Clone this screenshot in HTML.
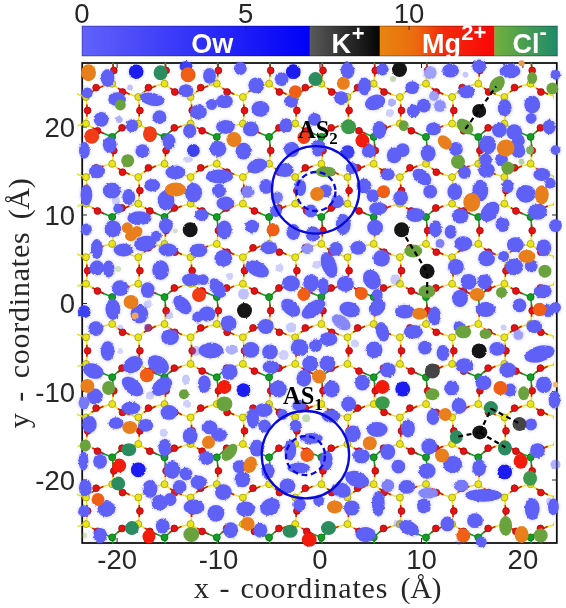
<!DOCTYPE html>
<html><head><meta charset="utf-8"><style>
html,body{margin:0;padding:0;background:#fff;}
svg{display:block;}
</style></head><body>
<svg width="566" height="608" viewBox="0 0 566 608">
<defs>
<linearGradient id="gOw" x1="0" x2="1"><stop offset="0" stop-color="#6262fa"/><stop offset="1" stop-color="#0000f8"/></linearGradient>
<linearGradient id="gK" x1="0" x2="1"><stop offset="0" stop-color="#5a5a5a"/><stop offset="1" stop-color="#050505"/></linearGradient>
<linearGradient id="gMg" x1="0" x2="1"><stop offset="0" stop-color="#e8860e"/><stop offset="0.3" stop-color="#ec6c0e"/><stop offset="0.55" stop-color="#f22c0c"/><stop offset="1" stop-color="#fa0606"/></linearGradient>
<linearGradient id="gCl" x1="0" x2="1"><stop offset="0" stop-color="#72b03a"/><stop offset="1" stop-color="#1e8a6a"/></linearGradient>
<filter id="fz" x="-10%" y="-10%" width="120%" height="120%">
<feTurbulence type="fractalNoise" baseFrequency="0.35" numOctaves="2" seed="3" result="n"/>
<feDisplacementMap in="SourceGraphic" in2="n" scale="2.5" xChannelSelector="R" yChannelSelector="G" result="d"/>
<feGaussianBlur in="d" stdDeviation="0.6"/>
</filter>
<filter id="fi" x="-10%" y="-10%" width="120%" height="120%">
<feTurbulence type="fractalNoise" baseFrequency="0.35" numOctaves="2" seed="5" result="n"/>
<feDisplacementMap in="SourceGraphic" in2="n" scale="1.8" xChannelSelector="R" yChannelSelector="G" result="d"/>
<feGaussianBlur in="d" stdDeviation="0.75"/>
</filter>
<filter id="fh" x="-10%" y="-10%" width="120%" height="120%">
<feTurbulence type="fractalNoise" baseFrequency="0.9" numOctaves="1" seed="7" result="n"/>
<feDisplacementMap in="SourceGraphic" in2="n" scale="4" xChannelSelector="R" yChannelSelector="G" result="d"/>
<feGaussianBlur in="d" stdDeviation="1.2"/>
</filter>
<clipPath id="cp"><rect x="76" y="58" width="486" height="491"/></clipPath><clipPath id="cpl"><rect x="77.5" y="62.5" width="476" height="481"/></clipPath>
</defs>
<rect width="566" height="608" fill="#fff"/>
<!-- colorbar -->
<g>
<rect x="82" y="26" width="228" height="30" fill="url(#gOw)"/>
<rect x="309.7" y="26" width="70.3" height="30" fill="url(#gK)"/>
<rect x="379.7" y="26" width="115" height="30" fill="url(#gMg)"/>
<rect x="494.4" y="26" width="63" height="30" fill="url(#gCl)"/>
<rect x="82" y="26" width="475.4" height="30" fill="none" stroke="rgba(0,0,0,0.35)" stroke-width="1"/>
<g stroke="#262626" stroke-width="1"><line x1="245.7" y1="26" x2="245.7" y2="30"/><line x1="409.1" y1="26" x2="409.1" y2="30"/></g>
<g font-family="Liberation Sans, sans-serif" font-size="27.5" fill="#262626" text-anchor="middle">
<text x="82" y="22.8">0</text><text x="245.7" y="22.8">5</text><text x="409.1" y="22.8">10</text>
</g>
<g font-family="Liberation Sans, sans-serif" font-weight="bold" font-size="27" fill="#fff">
<text x="191.3" y="53">Ow</text>
<text x="331.6" y="53.3">K</text><text x="351.7" y="41" font-size="22">+</text>
<text x="422.1" y="53">Mg</text><text x="461.2" y="40.4" font-size="22">2+</text>
<text x="512.4" y="53">Cl</text><text x="539.6" y="38.8" font-size="22">-</text>
</g>
</g>
<!-- axes -->
<g font-family="Liberation Sans, sans-serif" font-size="27.5" fill="#262626" text-anchor="middle">
<text x="117.1" y="569">-20</text><text x="218.5" y="569">-10</text><text x="320" y="569">0</text><text x="421.5" y="569">10</text><text x="522.9" y="569">20</text>
</g>
<g font-family="Liberation Sans, sans-serif" font-size="27.5" fill="#262626" text-anchor="end">
<text x="75" y="136.5">20</text><text x="75" y="224.5">10</text><text x="75" y="313">0</text><text x="75" y="402">-10</text><text x="75" y="489.5">-20</text>
</g>
<g font-family="Liberation Serif, serif" font-size="30" fill="#262626">
<text x="194" y="598">x</text>
<text x="219.5" y="598">-</text>
<text x="240.5" y="598" textLength="147" lengthAdjust="spacing">coordinates</text>
<text x="400.5" y="598" textLength="41" lengthAdjust="spacing">(Å)</text>
<g transform="translate(28.5 428.3) rotate(-90)">
<text x="0" y="0">y</text>
<text x="26.5" y="0">-</text>
<text x="50" y="0" textLength="146" lengthAdjust="spacing">coordinates</text>
<text x="209" y="0" textLength="41" lengthAdjust="spacing">(Å)</text>
</g>
</g>
<rect x="82.2" y="63" width="474.6" height="480" fill="none" stroke="#111" stroke-width="1.8"/>
<g stroke="#262626" stroke-width="1">
<line x1="117.1" y1="543" x2="117.1" y2="538"/><line x1="218.5" y1="543" x2="218.5" y2="538"/><line x1="320" y1="543" x2="320" y2="538"/><line x1="421.5" y1="543" x2="421.5" y2="538"/><line x1="522.9" y1="543" x2="522.9" y2="538"/>
<line x1="117.1" y1="63" x2="117.1" y2="68"/><line x1="218.5" y1="63" x2="218.5" y2="68"/><line x1="320" y1="63" x2="320" y2="68"/><line x1="421.5" y1="63" x2="421.5" y2="68"/><line x1="522.9" y1="63" x2="522.9" y2="68"/>
<line x1="82.2" y1="127" x2="87" y2="127"/><line x1="82.2" y1="215" x2="87" y2="215"/><line x1="82.2" y1="303.5" x2="87" y2="303.5"/><line x1="82.2" y1="391.5" x2="87" y2="391.5"/><line x1="82.2" y1="480" x2="87" y2="480"/>
<line x1="556.8" y1="127" x2="552" y2="127"/><line x1="556.8" y1="215" x2="552" y2="215"/><line x1="556.8" y1="303.5" x2="552" y2="303.5"/><line x1="556.8" y1="391.5" x2="552" y2="391.5"/><line x1="556.8" y1="480" x2="552" y2="480"/>
</g>
<g clip-path="url(#cp)">
<g clip-path="url(#cpl)"><g stroke-width="1.6"><line x1="112.2" y1="56.8" x2="113.8" y2="70.5" stroke="#12a022"/><line x1="113.8" y1="70.5" x2="112.2" y2="83.7" stroke="#ebe61c"/><line x1="113.1" y1="64.3" x2="113.1" y2="76.4" stroke="#e41212"/><line x1="164.5" y1="56.8" x2="166.1" y2="70.5" stroke="#12a022"/><line x1="166.1" y1="70.5" x2="164.5" y2="83.7" stroke="#ebe61c"/><line x1="165.4" y1="64.3" x2="165.4" y2="76.4" stroke="#e41212"/><line x1="216.8" y1="56.8" x2="218.4" y2="70.5" stroke="#12a022"/><line x1="218.4" y1="70.5" x2="216.8" y2="83.7" stroke="#ebe61c"/><line x1="217.7" y1="64.3" x2="217.7" y2="76.4" stroke="#e41212"/><line x1="269.1" y1="56.8" x2="270.7" y2="70.5" stroke="#12a022"/><line x1="270.7" y1="70.5" x2="269.1" y2="83.7" stroke="#ebe61c"/><line x1="270.0" y1="64.3" x2="270.0" y2="76.4" stroke="#e41212"/><line x1="321.4" y1="56.8" x2="323.0" y2="70.5" stroke="#12a022"/><line x1="323.0" y1="70.5" x2="321.4" y2="83.7" stroke="#ebe61c"/><line x1="322.3" y1="64.3" x2="322.3" y2="76.4" stroke="#e41212"/><line x1="373.7" y1="56.8" x2="375.3" y2="70.5" stroke="#12a022"/><line x1="375.3" y1="70.5" x2="373.7" y2="83.7" stroke="#ebe61c"/><line x1="374.6" y1="64.3" x2="374.6" y2="76.4" stroke="#e41212"/><line x1="426.0" y1="56.8" x2="427.6" y2="70.5" stroke="#12a022"/><line x1="427.6" y1="70.5" x2="426.0" y2="83.7" stroke="#ebe61c"/><line x1="426.9" y1="64.3" x2="426.9" y2="76.4" stroke="#e41212"/><line x1="478.3" y1="56.8" x2="479.9" y2="70.5" stroke="#12a022"/><line x1="479.9" y1="70.5" x2="478.3" y2="83.7" stroke="#ebe61c"/><line x1="479.2" y1="64.3" x2="479.2" y2="76.4" stroke="#e41212"/><line x1="530.6" y1="56.8" x2="532.2" y2="70.5" stroke="#12a022"/><line x1="532.2" y1="70.5" x2="530.6" y2="83.7" stroke="#ebe61c"/><line x1="531.5" y1="64.3" x2="531.5" y2="76.4" stroke="#e41212"/><line x1="86.0" y1="43.5" x2="69.7" y2="47.8" stroke="#ebe61c"/><line x1="69.7" y1="47.8" x2="59.9" y2="56.8" stroke="#12a022"/><line x1="77.0" y1="45.8" x2="65.3" y2="51.8" stroke="#e41212"/><line x1="86.0" y1="43.5" x2="97.5" y2="50.8" stroke="#ebe61c"/><line x1="97.5" y1="50.8" x2="112.2" y2="56.8" stroke="#12a022"/><line x1="92.4" y1="47.5" x2="104.1" y2="53.5" stroke="#e41212"/><line x1="138.3" y1="43.5" x2="122.0" y2="47.8" stroke="#ebe61c"/><line x1="122.0" y1="47.8" x2="112.2" y2="56.8" stroke="#12a022"/><line x1="129.3" y1="45.8" x2="117.6" y2="51.8" stroke="#e41212"/><line x1="138.3" y1="43.5" x2="149.8" y2="50.8" stroke="#ebe61c"/><line x1="149.8" y1="50.8" x2="164.5" y2="56.8" stroke="#12a022"/><line x1="144.7" y1="47.5" x2="156.4" y2="53.5" stroke="#e41212"/><line x1="190.6" y1="43.5" x2="174.3" y2="47.8" stroke="#ebe61c"/><line x1="174.3" y1="47.8" x2="164.5" y2="56.8" stroke="#12a022"/><line x1="181.6" y1="45.8" x2="169.9" y2="51.8" stroke="#e41212"/><line x1="190.6" y1="43.5" x2="202.1" y2="50.8" stroke="#ebe61c"/><line x1="202.1" y1="50.8" x2="216.8" y2="56.8" stroke="#12a022"/><line x1="197.0" y1="47.5" x2="208.7" y2="53.5" stroke="#e41212"/><line x1="242.9" y1="43.5" x2="226.6" y2="47.8" stroke="#ebe61c"/><line x1="226.6" y1="47.8" x2="216.8" y2="56.8" stroke="#12a022"/><line x1="233.9" y1="45.8" x2="222.2" y2="51.8" stroke="#e41212"/><line x1="242.9" y1="43.5" x2="254.4" y2="50.8" stroke="#ebe61c"/><line x1="254.4" y1="50.8" x2="269.1" y2="56.8" stroke="#12a022"/><line x1="249.3" y1="47.5" x2="261.0" y2="53.5" stroke="#e41212"/><line x1="295.2" y1="43.5" x2="278.9" y2="47.8" stroke="#ebe61c"/><line x1="278.9" y1="47.8" x2="269.1" y2="56.8" stroke="#12a022"/><line x1="286.2" y1="45.8" x2="274.5" y2="51.8" stroke="#e41212"/><line x1="295.2" y1="43.5" x2="306.7" y2="50.8" stroke="#ebe61c"/><line x1="306.7" y1="50.8" x2="321.4" y2="56.8" stroke="#12a022"/><line x1="301.6" y1="47.5" x2="313.3" y2="53.5" stroke="#e41212"/><line x1="347.5" y1="43.5" x2="331.2" y2="47.8" stroke="#ebe61c"/><line x1="331.2" y1="47.8" x2="321.4" y2="56.8" stroke="#12a022"/><line x1="338.5" y1="45.8" x2="326.8" y2="51.8" stroke="#e41212"/><line x1="347.5" y1="43.5" x2="359.0" y2="50.8" stroke="#ebe61c"/><line x1="359.0" y1="50.8" x2="373.7" y2="56.8" stroke="#12a022"/><line x1="353.9" y1="47.5" x2="365.6" y2="53.5" stroke="#e41212"/><line x1="399.9" y1="43.5" x2="383.5" y2="47.8" stroke="#ebe61c"/><line x1="383.5" y1="47.8" x2="373.7" y2="56.8" stroke="#12a022"/><line x1="390.8" y1="45.8" x2="379.1" y2="51.8" stroke="#e41212"/><line x1="399.9" y1="43.5" x2="411.3" y2="50.8" stroke="#ebe61c"/><line x1="411.3" y1="50.8" x2="426.0" y2="56.8" stroke="#12a022"/><line x1="406.2" y1="47.5" x2="417.9" y2="53.5" stroke="#e41212"/><line x1="452.1" y1="43.5" x2="435.8" y2="47.8" stroke="#ebe61c"/><line x1="435.8" y1="47.8" x2="426.0" y2="56.8" stroke="#12a022"/><line x1="443.1" y1="45.8" x2="431.4" y2="51.8" stroke="#e41212"/><line x1="452.1" y1="43.5" x2="463.6" y2="50.8" stroke="#ebe61c"/><line x1="463.6" y1="50.8" x2="478.3" y2="56.8" stroke="#12a022"/><line x1="458.5" y1="47.5" x2="470.2" y2="53.5" stroke="#e41212"/><line x1="504.4" y1="43.5" x2="488.1" y2="47.8" stroke="#ebe61c"/><line x1="488.1" y1="47.8" x2="478.3" y2="56.8" stroke="#12a022"/><line x1="495.4" y1="45.8" x2="483.7" y2="51.8" stroke="#e41212"/><line x1="504.4" y1="43.5" x2="515.9" y2="50.8" stroke="#ebe61c"/><line x1="515.9" y1="50.8" x2="530.6" y2="56.8" stroke="#12a022"/><line x1="510.8" y1="47.5" x2="522.5" y2="53.5" stroke="#e41212"/><line x1="556.8" y1="43.5" x2="540.4" y2="47.8" stroke="#ebe61c"/><line x1="540.4" y1="47.8" x2="530.6" y2="56.8" stroke="#12a022"/><line x1="547.7" y1="45.8" x2="536.0" y2="51.8" stroke="#e41212"/><line x1="556.8" y1="43.5" x2="568.2" y2="50.8" stroke="#ebe61c"/><line x1="568.2" y1="50.8" x2="582.9" y2="56.8" stroke="#12a022"/><line x1="563.1" y1="47.5" x2="574.8" y2="53.5" stroke="#e41212"/><line x1="59.9" y1="83.7" x2="70.2" y2="92.0" stroke="#ebe61c"/><line x1="70.2" y1="92.0" x2="86.1" y2="97.0" stroke="#ebe61c"/><line x1="65.6" y1="88.3" x2="77.3" y2="94.3" stroke="#e41212"/><line x1="112.2" y1="83.7" x2="96.1" y2="87.6" stroke="#ebe61c"/><line x1="96.1" y1="87.6" x2="86.1" y2="97.0" stroke="#ebe61c"/><line x1="103.4" y1="85.9" x2="91.6" y2="91.9" stroke="#e41212"/><line x1="112.2" y1="83.7" x2="122.5" y2="92.0" stroke="#ebe61c"/><line x1="122.5" y1="92.0" x2="138.3" y2="97.0" stroke="#ebe61c"/><line x1="117.9" y1="88.3" x2="129.6" y2="94.3" stroke="#e41212"/><line x1="112.2" y1="136.9" x2="113.8" y2="150.6" stroke="#12a022"/><line x1="113.8" y1="150.6" x2="112.2" y2="163.8" stroke="#ebe61c"/><line x1="113.1" y1="144.4" x2="113.1" y2="156.5" stroke="#e41212"/><line x1="164.5" y1="83.7" x2="148.4" y2="87.6" stroke="#ebe61c"/><line x1="148.4" y1="87.6" x2="138.3" y2="97.0" stroke="#ebe61c"/><line x1="155.7" y1="85.9" x2="143.9" y2="91.9" stroke="#e41212"/><line x1="164.5" y1="83.7" x2="174.8" y2="92.0" stroke="#ebe61c"/><line x1="174.8" y1="92.0" x2="190.7" y2="97.0" stroke="#ebe61c"/><line x1="170.2" y1="88.3" x2="181.9" y2="94.3" stroke="#e41212"/><line x1="164.5" y1="136.9" x2="166.1" y2="150.6" stroke="#12a022"/><line x1="166.1" y1="150.6" x2="164.5" y2="163.8" stroke="#ebe61c"/><line x1="165.4" y1="144.4" x2="165.4" y2="156.5" stroke="#e41212"/><line x1="216.8" y1="83.7" x2="200.7" y2="87.6" stroke="#ebe61c"/><line x1="200.7" y1="87.6" x2="190.7" y2="97.0" stroke="#ebe61c"/><line x1="208.0" y1="85.9" x2="196.2" y2="91.9" stroke="#e41212"/><line x1="216.8" y1="83.7" x2="227.1" y2="92.0" stroke="#ebe61c"/><line x1="227.1" y1="92.0" x2="243.0" y2="97.0" stroke="#ebe61c"/><line x1="222.5" y1="88.3" x2="234.2" y2="94.3" stroke="#e41212"/><line x1="216.8" y1="136.9" x2="218.4" y2="150.6" stroke="#12a022"/><line x1="218.4" y1="150.6" x2="216.8" y2="163.8" stroke="#ebe61c"/><line x1="217.7" y1="144.4" x2="217.7" y2="156.5" stroke="#e41212"/><line x1="269.1" y1="83.7" x2="253.0" y2="87.6" stroke="#ebe61c"/><line x1="253.0" y1="87.6" x2="242.9" y2="97.0" stroke="#ebe61c"/><line x1="260.3" y1="85.9" x2="248.5" y2="91.9" stroke="#e41212"/><line x1="269.1" y1="83.7" x2="279.4" y2="92.0" stroke="#ebe61c"/><line x1="279.4" y1="92.0" x2="295.2" y2="97.0" stroke="#ebe61c"/><line x1="274.8" y1="88.3" x2="286.5" y2="94.3" stroke="#e41212"/><line x1="269.1" y1="136.9" x2="270.7" y2="150.6" stroke="#12a022"/><line x1="270.7" y1="150.6" x2="269.1" y2="163.8" stroke="#ebe61c"/><line x1="270.0" y1="144.4" x2="270.0" y2="156.5" stroke="#e41212"/><line x1="321.4" y1="83.7" x2="305.3" y2="87.6" stroke="#ebe61c"/><line x1="305.3" y1="87.6" x2="295.2" y2="97.0" stroke="#ebe61c"/><line x1="312.6" y1="85.9" x2="300.8" y2="91.9" stroke="#e41212"/><line x1="321.4" y1="83.7" x2="331.7" y2="92.0" stroke="#ebe61c"/><line x1="331.7" y1="92.0" x2="347.5" y2="97.0" stroke="#ebe61c"/><line x1="327.1" y1="88.3" x2="338.8" y2="94.3" stroke="#e41212"/><line x1="321.4" y1="136.9" x2="323.0" y2="150.6" stroke="#12a022"/><line x1="323.0" y1="150.6" x2="321.4" y2="163.8" stroke="#ebe61c"/><line x1="322.3" y1="144.4" x2="322.3" y2="156.5" stroke="#e41212"/><line x1="373.7" y1="83.7" x2="357.6" y2="87.6" stroke="#ebe61c"/><line x1="357.6" y1="87.6" x2="347.6" y2="97.0" stroke="#ebe61c"/><line x1="364.9" y1="85.9" x2="353.1" y2="91.9" stroke="#e41212"/><line x1="373.7" y1="83.7" x2="384.0" y2="92.0" stroke="#ebe61c"/><line x1="384.0" y1="92.0" x2="399.8" y2="97.0" stroke="#ebe61c"/><line x1="379.4" y1="88.3" x2="391.1" y2="94.3" stroke="#e41212"/><line x1="373.7" y1="136.9" x2="375.3" y2="150.6" stroke="#12a022"/><line x1="375.3" y1="150.6" x2="373.7" y2="163.8" stroke="#ebe61c"/><line x1="374.6" y1="144.4" x2="374.6" y2="156.5" stroke="#e41212"/><line x1="426.0" y1="83.7" x2="409.9" y2="87.6" stroke="#ebe61c"/><line x1="409.9" y1="87.6" x2="399.8" y2="97.0" stroke="#ebe61c"/><line x1="417.2" y1="85.9" x2="405.4" y2="91.9" stroke="#e41212"/><line x1="426.0" y1="83.7" x2="436.3" y2="92.0" stroke="#ebe61c"/><line x1="436.3" y1="92.0" x2="452.1" y2="97.0" stroke="#ebe61c"/><line x1="431.7" y1="88.3" x2="443.4" y2="94.3" stroke="#e41212"/><line x1="426.0" y1="136.9" x2="427.6" y2="150.6" stroke="#12a022"/><line x1="427.6" y1="150.6" x2="426.0" y2="163.8" stroke="#ebe61c"/><line x1="426.9" y1="144.4" x2="426.9" y2="156.5" stroke="#e41212"/><line x1="478.3" y1="83.7" x2="462.2" y2="87.6" stroke="#ebe61c"/><line x1="462.2" y1="87.6" x2="452.1" y2="97.0" stroke="#ebe61c"/><line x1="469.5" y1="85.9" x2="457.7" y2="91.9" stroke="#e41212"/><line x1="478.3" y1="83.7" x2="488.6" y2="92.0" stroke="#ebe61c"/><line x1="488.6" y1="92.0" x2="504.4" y2="97.0" stroke="#ebe61c"/><line x1="484.0" y1="88.3" x2="495.7" y2="94.3" stroke="#e41212"/><line x1="478.3" y1="136.9" x2="479.9" y2="150.6" stroke="#12a022"/><line x1="479.9" y1="150.6" x2="478.3" y2="163.8" stroke="#ebe61c"/><line x1="479.2" y1="144.4" x2="479.2" y2="156.5" stroke="#e41212"/><line x1="530.6" y1="83.7" x2="514.5" y2="87.6" stroke="#ebe61c"/><line x1="514.5" y1="87.6" x2="504.5" y2="97.0" stroke="#ebe61c"/><line x1="521.8" y1="85.9" x2="510.0" y2="91.9" stroke="#e41212"/><line x1="530.6" y1="83.7" x2="540.9" y2="92.0" stroke="#ebe61c"/><line x1="540.9" y1="92.0" x2="556.8" y2="97.0" stroke="#ebe61c"/><line x1="536.3" y1="88.3" x2="548.0" y2="94.3" stroke="#e41212"/><line x1="530.6" y1="136.9" x2="532.2" y2="150.6" stroke="#12a022"/><line x1="532.2" y1="150.6" x2="530.6" y2="163.8" stroke="#ebe61c"/><line x1="531.5" y1="144.4" x2="531.5" y2="156.5" stroke="#e41212"/><line x1="582.9" y1="83.7" x2="566.8" y2="87.6" stroke="#ebe61c"/><line x1="566.8" y1="87.6" x2="556.8" y2="97.0" stroke="#ebe61c"/><line x1="574.1" y1="85.9" x2="562.3" y2="91.9" stroke="#e41212"/><line x1="86.0" y1="97.0" x2="87.6" y2="110.5" stroke="#ebe61c"/><line x1="87.6" y1="110.5" x2="86.0" y2="123.6" stroke="#ebe61c"/><line x1="86.9" y1="104.4" x2="86.9" y2="116.4" stroke="#e41212"/><line x1="86.0" y1="123.6" x2="69.7" y2="127.8" stroke="#ebe61c"/><line x1="69.7" y1="127.8" x2="59.9" y2="136.9" stroke="#12a022"/><line x1="77.0" y1="125.9" x2="65.3" y2="131.9" stroke="#e41212"/><line x1="86.0" y1="123.6" x2="97.5" y2="130.8" stroke="#ebe61c"/><line x1="97.5" y1="130.8" x2="112.2" y2="136.9" stroke="#12a022"/><line x1="92.4" y1="127.6" x2="104.1" y2="133.6" stroke="#e41212"/><line x1="138.3" y1="97.0" x2="139.9" y2="110.5" stroke="#ebe61c"/><line x1="139.9" y1="110.5" x2="138.3" y2="123.6" stroke="#ebe61c"/><line x1="139.2" y1="104.4" x2="139.2" y2="116.4" stroke="#e41212"/><line x1="138.3" y1="123.6" x2="122.0" y2="127.8" stroke="#ebe61c"/><line x1="122.0" y1="127.8" x2="112.2" y2="136.9" stroke="#12a022"/><line x1="129.3" y1="125.9" x2="117.6" y2="131.9" stroke="#e41212"/><line x1="138.3" y1="123.6" x2="149.8" y2="130.8" stroke="#ebe61c"/><line x1="149.8" y1="130.8" x2="164.5" y2="136.9" stroke="#12a022"/><line x1="144.7" y1="127.6" x2="156.4" y2="133.6" stroke="#e41212"/><line x1="190.6" y1="97.0" x2="192.2" y2="110.5" stroke="#ebe61c"/><line x1="192.2" y1="110.5" x2="190.6" y2="123.6" stroke="#ebe61c"/><line x1="191.5" y1="104.4" x2="191.5" y2="116.4" stroke="#e41212"/><line x1="190.6" y1="123.6" x2="174.3" y2="127.8" stroke="#ebe61c"/><line x1="174.3" y1="127.8" x2="164.5" y2="136.9" stroke="#12a022"/><line x1="181.6" y1="125.9" x2="169.9" y2="131.9" stroke="#e41212"/><line x1="190.6" y1="123.6" x2="202.1" y2="130.8" stroke="#ebe61c"/><line x1="202.1" y1="130.8" x2="216.8" y2="136.9" stroke="#12a022"/><line x1="197.0" y1="127.6" x2="208.7" y2="133.6" stroke="#e41212"/><line x1="242.9" y1="97.0" x2="244.5" y2="110.5" stroke="#ebe61c"/><line x1="244.5" y1="110.5" x2="242.9" y2="123.6" stroke="#ebe61c"/><line x1="243.8" y1="104.4" x2="243.8" y2="116.4" stroke="#e41212"/><line x1="242.9" y1="123.6" x2="226.6" y2="127.8" stroke="#ebe61c"/><line x1="226.6" y1="127.8" x2="216.8" y2="136.9" stroke="#12a022"/><line x1="233.9" y1="125.9" x2="222.2" y2="131.9" stroke="#e41212"/><line x1="242.9" y1="123.6" x2="254.4" y2="130.8" stroke="#ebe61c"/><line x1="254.4" y1="130.8" x2="269.1" y2="136.9" stroke="#12a022"/><line x1="249.3" y1="127.6" x2="261.0" y2="133.6" stroke="#e41212"/><line x1="295.2" y1="97.0" x2="296.9" y2="110.5" stroke="#ebe61c"/><line x1="296.9" y1="110.5" x2="295.2" y2="123.6" stroke="#ebe61c"/><line x1="296.1" y1="104.4" x2="296.1" y2="116.4" stroke="#e41212"/><line x1="295.2" y1="123.6" x2="278.9" y2="127.8" stroke="#ebe61c"/><line x1="278.9" y1="127.8" x2="269.1" y2="136.9" stroke="#12a022"/><line x1="286.2" y1="125.9" x2="274.5" y2="131.9" stroke="#e41212"/><line x1="295.2" y1="123.6" x2="306.7" y2="130.8" stroke="#ebe61c"/><line x1="306.7" y1="130.8" x2="321.4" y2="136.9" stroke="#12a022"/><line x1="301.6" y1="127.6" x2="313.3" y2="133.6" stroke="#e41212"/><line x1="347.5" y1="97.0" x2="349.1" y2="110.5" stroke="#ebe61c"/><line x1="349.1" y1="110.5" x2="347.5" y2="123.6" stroke="#ebe61c"/><line x1="348.4" y1="104.4" x2="348.4" y2="116.4" stroke="#e41212"/><line x1="347.5" y1="123.6" x2="331.2" y2="127.8" stroke="#ebe61c"/><line x1="331.2" y1="127.8" x2="321.4" y2="136.9" stroke="#12a022"/><line x1="338.5" y1="125.9" x2="326.8" y2="131.9" stroke="#e41212"/><line x1="347.5" y1="123.6" x2="359.0" y2="130.8" stroke="#ebe61c"/><line x1="359.0" y1="130.8" x2="373.7" y2="136.9" stroke="#12a022"/><line x1="353.9" y1="127.6" x2="365.6" y2="133.6" stroke="#e41212"/><line x1="399.9" y1="97.0" x2="401.5" y2="110.5" stroke="#ebe61c"/><line x1="401.5" y1="110.5" x2="399.9" y2="123.6" stroke="#ebe61c"/><line x1="400.7" y1="104.4" x2="400.7" y2="116.4" stroke="#e41212"/><line x1="399.9" y1="123.6" x2="383.5" y2="127.8" stroke="#ebe61c"/><line x1="383.5" y1="127.8" x2="373.7" y2="136.9" stroke="#12a022"/><line x1="390.8" y1="125.9" x2="379.1" y2="131.9" stroke="#e41212"/><line x1="399.9" y1="123.6" x2="411.3" y2="130.8" stroke="#ebe61c"/><line x1="411.3" y1="130.8" x2="426.0" y2="136.9" stroke="#12a022"/><line x1="406.2" y1="127.6" x2="417.9" y2="133.6" stroke="#e41212"/><line x1="452.1" y1="97.0" x2="453.8" y2="110.5" stroke="#ebe61c"/><line x1="453.8" y1="110.5" x2="452.1" y2="123.6" stroke="#ebe61c"/><line x1="453.0" y1="104.4" x2="453.0" y2="116.4" stroke="#e41212"/><line x1="452.1" y1="123.6" x2="435.8" y2="127.8" stroke="#ebe61c"/><line x1="435.8" y1="127.8" x2="426.0" y2="136.9" stroke="#12a022"/><line x1="443.1" y1="125.9" x2="431.4" y2="131.9" stroke="#e41212"/><line x1="452.1" y1="123.6" x2="463.6" y2="130.8" stroke="#ebe61c"/><line x1="463.6" y1="130.8" x2="478.3" y2="136.9" stroke="#12a022"/><line x1="458.5" y1="127.6" x2="470.2" y2="133.6" stroke="#e41212"/><line x1="504.4" y1="97.0" x2="506.0" y2="110.5" stroke="#ebe61c"/><line x1="506.0" y1="110.5" x2="504.4" y2="123.6" stroke="#ebe61c"/><line x1="505.3" y1="104.4" x2="505.3" y2="116.4" stroke="#e41212"/><line x1="504.4" y1="123.6" x2="488.1" y2="127.8" stroke="#ebe61c"/><line x1="488.1" y1="127.8" x2="478.3" y2="136.9" stroke="#12a022"/><line x1="495.4" y1="125.9" x2="483.7" y2="131.9" stroke="#e41212"/><line x1="504.4" y1="123.6" x2="515.9" y2="130.8" stroke="#ebe61c"/><line x1="515.9" y1="130.8" x2="530.6" y2="136.9" stroke="#12a022"/><line x1="510.8" y1="127.6" x2="522.5" y2="133.6" stroke="#e41212"/><line x1="556.8" y1="97.0" x2="558.4" y2="110.5" stroke="#ebe61c"/><line x1="558.4" y1="110.5" x2="556.8" y2="123.6" stroke="#ebe61c"/><line x1="557.6" y1="104.4" x2="557.6" y2="116.4" stroke="#e41212"/><line x1="556.8" y1="123.6" x2="540.4" y2="127.8" stroke="#ebe61c"/><line x1="540.4" y1="127.8" x2="530.6" y2="136.9" stroke="#12a022"/><line x1="547.7" y1="125.9" x2="536.0" y2="131.9" stroke="#e41212"/><line x1="556.8" y1="123.6" x2="568.2" y2="130.8" stroke="#ebe61c"/><line x1="568.2" y1="130.8" x2="582.9" y2="136.9" stroke="#12a022"/><line x1="563.1" y1="127.6" x2="574.8" y2="133.6" stroke="#e41212"/><line x1="59.9" y1="163.8" x2="70.2" y2="172.2" stroke="#ebe61c"/><line x1="70.2" y1="172.2" x2="86.1" y2="177.1" stroke="#ebe61c"/><line x1="65.6" y1="168.4" x2="77.3" y2="174.4" stroke="#e41212"/><line x1="112.2" y1="163.8" x2="96.1" y2="167.8" stroke="#ebe61c"/><line x1="96.1" y1="167.8" x2="86.1" y2="177.1" stroke="#ebe61c"/><line x1="103.4" y1="166.0" x2="91.6" y2="172.0" stroke="#e41212"/><line x1="112.2" y1="163.8" x2="122.5" y2="172.2" stroke="#ebe61c"/><line x1="122.5" y1="172.2" x2="138.3" y2="177.1" stroke="#ebe61c"/><line x1="117.9" y1="168.4" x2="129.6" y2="174.4" stroke="#e41212"/><line x1="112.2" y1="217.0" x2="113.8" y2="230.6" stroke="#12a022"/><line x1="113.8" y1="230.6" x2="112.2" y2="243.9" stroke="#ebe61c"/><line x1="113.1" y1="224.5" x2="113.1" y2="236.6" stroke="#e41212"/><line x1="164.5" y1="163.8" x2="148.4" y2="167.8" stroke="#ebe61c"/><line x1="148.4" y1="167.8" x2="138.3" y2="177.1" stroke="#ebe61c"/><line x1="155.7" y1="166.0" x2="143.9" y2="172.0" stroke="#e41212"/><line x1="164.5" y1="163.8" x2="174.8" y2="172.2" stroke="#ebe61c"/><line x1="174.8" y1="172.2" x2="190.7" y2="177.1" stroke="#ebe61c"/><line x1="170.2" y1="168.4" x2="181.9" y2="174.4" stroke="#e41212"/><line x1="164.5" y1="217.0" x2="166.1" y2="230.6" stroke="#12a022"/><line x1="166.1" y1="230.6" x2="164.5" y2="243.9" stroke="#ebe61c"/><line x1="165.4" y1="224.5" x2="165.4" y2="236.6" stroke="#e41212"/><line x1="216.8" y1="163.8" x2="200.7" y2="167.8" stroke="#ebe61c"/><line x1="200.7" y1="167.8" x2="190.7" y2="177.1" stroke="#ebe61c"/><line x1="208.0" y1="166.0" x2="196.2" y2="172.0" stroke="#e41212"/><line x1="216.8" y1="163.8" x2="227.1" y2="172.2" stroke="#ebe61c"/><line x1="227.1" y1="172.2" x2="243.0" y2="177.1" stroke="#ebe61c"/><line x1="222.5" y1="168.4" x2="234.2" y2="174.4" stroke="#e41212"/><line x1="216.8" y1="217.0" x2="218.4" y2="230.6" stroke="#12a022"/><line x1="218.4" y1="230.6" x2="216.8" y2="243.9" stroke="#ebe61c"/><line x1="217.7" y1="224.5" x2="217.7" y2="236.6" stroke="#e41212"/><line x1="269.1" y1="163.8" x2="253.0" y2="167.8" stroke="#ebe61c"/><line x1="253.0" y1="167.8" x2="242.9" y2="177.1" stroke="#ebe61c"/><line x1="260.3" y1="166.0" x2="248.5" y2="172.0" stroke="#e41212"/><line x1="269.1" y1="163.8" x2="279.4" y2="172.2" stroke="#ebe61c"/><line x1="279.4" y1="172.2" x2="295.2" y2="177.1" stroke="#ebe61c"/><line x1="274.8" y1="168.4" x2="286.5" y2="174.4" stroke="#e41212"/><line x1="269.1" y1="217.0" x2="270.7" y2="230.6" stroke="#12a022"/><line x1="270.7" y1="230.6" x2="269.1" y2="243.9" stroke="#ebe61c"/><line x1="270.0" y1="224.5" x2="270.0" y2="236.6" stroke="#e41212"/><line x1="321.4" y1="163.8" x2="305.3" y2="167.8" stroke="#ebe61c"/><line x1="305.3" y1="167.8" x2="295.2" y2="177.1" stroke="#ebe61c"/><line x1="312.6" y1="166.0" x2="300.8" y2="172.0" stroke="#e41212"/><line x1="321.4" y1="163.8" x2="331.7" y2="172.2" stroke="#ebe61c"/><line x1="331.7" y1="172.2" x2="347.5" y2="177.1" stroke="#ebe61c"/><line x1="327.1" y1="168.4" x2="338.8" y2="174.4" stroke="#e41212"/><line x1="321.4" y1="217.0" x2="323.0" y2="230.6" stroke="#12a022"/><line x1="323.0" y1="230.6" x2="321.4" y2="243.9" stroke="#ebe61c"/><line x1="322.3" y1="224.5" x2="322.3" y2="236.6" stroke="#e41212"/><line x1="373.7" y1="163.8" x2="357.6" y2="167.8" stroke="#ebe61c"/><line x1="357.6" y1="167.8" x2="347.6" y2="177.1" stroke="#ebe61c"/><line x1="364.9" y1="166.0" x2="353.1" y2="172.0" stroke="#e41212"/><line x1="373.7" y1="163.8" x2="384.0" y2="172.2" stroke="#ebe61c"/><line x1="384.0" y1="172.2" x2="399.8" y2="177.1" stroke="#ebe61c"/><line x1="379.4" y1="168.4" x2="391.1" y2="174.4" stroke="#e41212"/><line x1="373.7" y1="217.0" x2="375.3" y2="230.6" stroke="#12a022"/><line x1="375.3" y1="230.6" x2="373.7" y2="243.9" stroke="#ebe61c"/><line x1="374.6" y1="224.5" x2="374.6" y2="236.6" stroke="#e41212"/><line x1="426.0" y1="163.8" x2="409.9" y2="167.8" stroke="#ebe61c"/><line x1="409.9" y1="167.8" x2="399.8" y2="177.1" stroke="#ebe61c"/><line x1="417.2" y1="166.0" x2="405.4" y2="172.0" stroke="#e41212"/><line x1="426.0" y1="163.8" x2="436.3" y2="172.2" stroke="#ebe61c"/><line x1="436.3" y1="172.2" x2="452.1" y2="177.1" stroke="#ebe61c"/><line x1="431.7" y1="168.4" x2="443.4" y2="174.4" stroke="#e41212"/><line x1="426.0" y1="217.0" x2="427.6" y2="230.6" stroke="#12a022"/><line x1="427.6" y1="230.6" x2="426.0" y2="243.9" stroke="#ebe61c"/><line x1="426.9" y1="224.5" x2="426.9" y2="236.6" stroke="#e41212"/><line x1="478.3" y1="163.8" x2="462.2" y2="167.8" stroke="#ebe61c"/><line x1="462.2" y1="167.8" x2="452.1" y2="177.1" stroke="#ebe61c"/><line x1="469.5" y1="166.0" x2="457.7" y2="172.0" stroke="#e41212"/><line x1="478.3" y1="163.8" x2="488.6" y2="172.2" stroke="#ebe61c"/><line x1="488.6" y1="172.2" x2="504.4" y2="177.1" stroke="#ebe61c"/><line x1="484.0" y1="168.4" x2="495.7" y2="174.4" stroke="#e41212"/><line x1="478.3" y1="217.0" x2="479.9" y2="230.6" stroke="#12a022"/><line x1="479.9" y1="230.6" x2="478.3" y2="243.9" stroke="#ebe61c"/><line x1="479.2" y1="224.5" x2="479.2" y2="236.6" stroke="#e41212"/><line x1="530.6" y1="163.8" x2="514.5" y2="167.8" stroke="#ebe61c"/><line x1="514.5" y1="167.8" x2="504.5" y2="177.1" stroke="#ebe61c"/><line x1="521.8" y1="166.0" x2="510.0" y2="172.0" stroke="#e41212"/><line x1="530.6" y1="163.8" x2="540.9" y2="172.2" stroke="#ebe61c"/><line x1="540.9" y1="172.2" x2="556.8" y2="177.1" stroke="#ebe61c"/><line x1="536.3" y1="168.4" x2="548.0" y2="174.4" stroke="#e41212"/><line x1="530.6" y1="217.0" x2="532.2" y2="230.6" stroke="#12a022"/><line x1="532.2" y1="230.6" x2="530.6" y2="243.9" stroke="#ebe61c"/><line x1="531.5" y1="224.5" x2="531.5" y2="236.6" stroke="#e41212"/><line x1="582.9" y1="163.8" x2="566.8" y2="167.8" stroke="#ebe61c"/><line x1="566.8" y1="167.8" x2="556.8" y2="177.1" stroke="#ebe61c"/><line x1="574.1" y1="166.0" x2="562.3" y2="172.0" stroke="#e41212"/><line x1="86.0" y1="177.1" x2="87.6" y2="190.6" stroke="#ebe61c"/><line x1="87.6" y1="190.6" x2="86.0" y2="203.7" stroke="#ebe61c"/><line x1="86.9" y1="184.5" x2="86.9" y2="196.5" stroke="#e41212"/><line x1="86.0" y1="203.7" x2="69.7" y2="208.0" stroke="#ebe61c"/><line x1="69.7" y1="208.0" x2="59.9" y2="217.0" stroke="#12a022"/><line x1="77.0" y1="206.0" x2="65.3" y2="212.0" stroke="#e41212"/><line x1="86.0" y1="203.7" x2="97.5" y2="211.0" stroke="#ebe61c"/><line x1="97.5" y1="211.0" x2="112.2" y2="217.0" stroke="#12a022"/><line x1="92.4" y1="207.7" x2="104.1" y2="213.7" stroke="#e41212"/><line x1="138.3" y1="177.1" x2="139.9" y2="190.6" stroke="#ebe61c"/><line x1="139.9" y1="190.6" x2="138.3" y2="203.7" stroke="#ebe61c"/><line x1="139.2" y1="184.5" x2="139.2" y2="196.5" stroke="#e41212"/><line x1="138.3" y1="203.7" x2="122.0" y2="208.0" stroke="#ebe61c"/><line x1="122.0" y1="208.0" x2="112.2" y2="217.0" stroke="#12a022"/><line x1="129.3" y1="206.0" x2="117.6" y2="212.0" stroke="#e41212"/><line x1="138.3" y1="203.7" x2="149.8" y2="211.0" stroke="#ebe61c"/><line x1="149.8" y1="211.0" x2="164.5" y2="217.0" stroke="#12a022"/><line x1="144.7" y1="207.7" x2="156.4" y2="213.7" stroke="#e41212"/><line x1="190.6" y1="177.1" x2="192.2" y2="190.6" stroke="#ebe61c"/><line x1="192.2" y1="190.6" x2="190.6" y2="203.7" stroke="#ebe61c"/><line x1="191.5" y1="184.5" x2="191.5" y2="196.5" stroke="#e41212"/><line x1="190.6" y1="203.7" x2="174.3" y2="208.0" stroke="#ebe61c"/><line x1="174.3" y1="208.0" x2="164.5" y2="217.0" stroke="#12a022"/><line x1="181.6" y1="206.0" x2="169.9" y2="212.0" stroke="#e41212"/><line x1="190.6" y1="203.7" x2="202.1" y2="211.0" stroke="#ebe61c"/><line x1="202.1" y1="211.0" x2="216.8" y2="217.0" stroke="#12a022"/><line x1="197.0" y1="207.7" x2="208.7" y2="213.7" stroke="#e41212"/><line x1="242.9" y1="177.1" x2="244.5" y2="190.6" stroke="#ebe61c"/><line x1="244.5" y1="190.6" x2="242.9" y2="203.7" stroke="#ebe61c"/><line x1="243.8" y1="184.5" x2="243.8" y2="196.5" stroke="#e41212"/><line x1="242.9" y1="203.7" x2="226.6" y2="208.0" stroke="#ebe61c"/><line x1="226.6" y1="208.0" x2="216.8" y2="217.0" stroke="#12a022"/><line x1="233.9" y1="206.0" x2="222.2" y2="212.0" stroke="#e41212"/><line x1="242.9" y1="203.7" x2="254.4" y2="211.0" stroke="#ebe61c"/><line x1="254.4" y1="211.0" x2="269.1" y2="217.0" stroke="#12a022"/><line x1="249.3" y1="207.7" x2="261.0" y2="213.7" stroke="#e41212"/><line x1="295.2" y1="177.1" x2="296.9" y2="190.6" stroke="#ebe61c"/><line x1="296.9" y1="190.6" x2="295.2" y2="203.7" stroke="#ebe61c"/><line x1="296.1" y1="184.5" x2="296.1" y2="196.5" stroke="#e41212"/><line x1="295.2" y1="203.7" x2="278.9" y2="208.0" stroke="#ebe61c"/><line x1="278.9" y1="208.0" x2="269.1" y2="217.0" stroke="#12a022"/><line x1="286.2" y1="206.0" x2="274.5" y2="212.0" stroke="#e41212"/><line x1="295.2" y1="203.7" x2="306.7" y2="211.0" stroke="#ebe61c"/><line x1="306.7" y1="211.0" x2="321.4" y2="217.0" stroke="#12a022"/><line x1="301.6" y1="207.7" x2="313.3" y2="213.7" stroke="#e41212"/><line x1="347.5" y1="177.1" x2="349.1" y2="190.6" stroke="#ebe61c"/><line x1="349.1" y1="190.6" x2="347.5" y2="203.7" stroke="#ebe61c"/><line x1="348.4" y1="184.5" x2="348.4" y2="196.5" stroke="#e41212"/><line x1="347.5" y1="203.7" x2="331.2" y2="208.0" stroke="#ebe61c"/><line x1="331.2" y1="208.0" x2="321.4" y2="217.0" stroke="#12a022"/><line x1="338.5" y1="206.0" x2="326.8" y2="212.0" stroke="#e41212"/><line x1="347.5" y1="203.7" x2="359.0" y2="211.0" stroke="#ebe61c"/><line x1="359.0" y1="211.0" x2="373.7" y2="217.0" stroke="#12a022"/><line x1="353.9" y1="207.7" x2="365.6" y2="213.7" stroke="#e41212"/><line x1="399.9" y1="177.1" x2="401.5" y2="190.6" stroke="#ebe61c"/><line x1="401.5" y1="190.6" x2="399.9" y2="203.7" stroke="#ebe61c"/><line x1="400.7" y1="184.5" x2="400.7" y2="196.5" stroke="#e41212"/><line x1="399.9" y1="203.7" x2="383.5" y2="208.0" stroke="#ebe61c"/><line x1="383.5" y1="208.0" x2="373.7" y2="217.0" stroke="#12a022"/><line x1="390.8" y1="206.0" x2="379.1" y2="212.0" stroke="#e41212"/><line x1="399.9" y1="203.7" x2="411.3" y2="211.0" stroke="#ebe61c"/><line x1="411.3" y1="211.0" x2="426.0" y2="217.0" stroke="#12a022"/><line x1="406.2" y1="207.7" x2="417.9" y2="213.7" stroke="#e41212"/><line x1="452.1" y1="177.1" x2="453.8" y2="190.6" stroke="#ebe61c"/><line x1="453.8" y1="190.6" x2="452.1" y2="203.7" stroke="#ebe61c"/><line x1="453.0" y1="184.5" x2="453.0" y2="196.5" stroke="#e41212"/><line x1="452.1" y1="203.7" x2="435.8" y2="208.0" stroke="#ebe61c"/><line x1="435.8" y1="208.0" x2="426.0" y2="217.0" stroke="#12a022"/><line x1="443.1" y1="206.0" x2="431.4" y2="212.0" stroke="#e41212"/><line x1="452.1" y1="203.7" x2="463.6" y2="211.0" stroke="#ebe61c"/><line x1="463.6" y1="211.0" x2="478.3" y2="217.0" stroke="#12a022"/><line x1="458.5" y1="207.7" x2="470.2" y2="213.7" stroke="#e41212"/><line x1="504.4" y1="177.1" x2="506.0" y2="190.6" stroke="#ebe61c"/><line x1="506.0" y1="190.6" x2="504.4" y2="203.7" stroke="#ebe61c"/><line x1="505.3" y1="184.5" x2="505.3" y2="196.5" stroke="#e41212"/><line x1="504.4" y1="203.7" x2="488.1" y2="208.0" stroke="#ebe61c"/><line x1="488.1" y1="208.0" x2="478.3" y2="217.0" stroke="#12a022"/><line x1="495.4" y1="206.0" x2="483.7" y2="212.0" stroke="#e41212"/><line x1="504.4" y1="203.7" x2="515.9" y2="211.0" stroke="#ebe61c"/><line x1="515.9" y1="211.0" x2="530.6" y2="217.0" stroke="#12a022"/><line x1="510.8" y1="207.7" x2="522.5" y2="213.7" stroke="#e41212"/><line x1="556.8" y1="177.1" x2="558.4" y2="190.6" stroke="#ebe61c"/><line x1="558.4" y1="190.6" x2="556.8" y2="203.7" stroke="#ebe61c"/><line x1="557.6" y1="184.5" x2="557.6" y2="196.5" stroke="#e41212"/><line x1="556.8" y1="203.7" x2="540.4" y2="208.0" stroke="#ebe61c"/><line x1="540.4" y1="208.0" x2="530.6" y2="217.0" stroke="#12a022"/><line x1="547.7" y1="206.0" x2="536.0" y2="212.0" stroke="#e41212"/><line x1="556.8" y1="203.7" x2="568.2" y2="211.0" stroke="#ebe61c"/><line x1="568.2" y1="211.0" x2="582.9" y2="217.0" stroke="#12a022"/><line x1="563.1" y1="207.7" x2="574.8" y2="213.7" stroke="#e41212"/><line x1="59.9" y1="243.9" x2="70.2" y2="252.2" stroke="#ebe61c"/><line x1="70.2" y1="252.2" x2="86.1" y2="257.2" stroke="#ebe61c"/><line x1="65.6" y1="248.5" x2="77.3" y2="254.5" stroke="#e41212"/><line x1="112.2" y1="243.9" x2="96.1" y2="247.8" stroke="#ebe61c"/><line x1="96.1" y1="247.8" x2="86.1" y2="257.2" stroke="#ebe61c"/><line x1="103.4" y1="246.1" x2="91.6" y2="252.1" stroke="#e41212"/><line x1="112.2" y1="243.9" x2="122.5" y2="252.2" stroke="#ebe61c"/><line x1="122.5" y1="252.2" x2="138.3" y2="257.2" stroke="#ebe61c"/><line x1="117.9" y1="248.5" x2="129.6" y2="254.5" stroke="#e41212"/><line x1="112.2" y1="297.1" x2="113.8" y2="310.7" stroke="#12a022"/><line x1="113.8" y1="310.7" x2="112.2" y2="324.0" stroke="#ebe61c"/><line x1="113.1" y1="304.6" x2="113.1" y2="316.7" stroke="#e41212"/><line x1="164.5" y1="243.9" x2="148.4" y2="247.8" stroke="#ebe61c"/><line x1="148.4" y1="247.8" x2="138.3" y2="257.2" stroke="#ebe61c"/><line x1="155.7" y1="246.1" x2="143.9" y2="252.1" stroke="#e41212"/><line x1="164.5" y1="243.9" x2="174.8" y2="252.2" stroke="#ebe61c"/><line x1="174.8" y1="252.2" x2="190.7" y2="257.2" stroke="#ebe61c"/><line x1="170.2" y1="248.5" x2="181.9" y2="254.5" stroke="#e41212"/><line x1="164.5" y1="297.1" x2="166.1" y2="310.7" stroke="#12a022"/><line x1="166.1" y1="310.7" x2="164.5" y2="324.0" stroke="#ebe61c"/><line x1="165.4" y1="304.6" x2="165.4" y2="316.7" stroke="#e41212"/><line x1="216.8" y1="243.9" x2="200.7" y2="247.8" stroke="#ebe61c"/><line x1="200.7" y1="247.8" x2="190.7" y2="257.2" stroke="#ebe61c"/><line x1="208.0" y1="246.1" x2="196.2" y2="252.1" stroke="#e41212"/><line x1="216.8" y1="243.9" x2="227.1" y2="252.2" stroke="#ebe61c"/><line x1="227.1" y1="252.2" x2="243.0" y2="257.2" stroke="#ebe61c"/><line x1="222.5" y1="248.5" x2="234.2" y2="254.5" stroke="#e41212"/><line x1="216.8" y1="297.1" x2="218.4" y2="310.7" stroke="#12a022"/><line x1="218.4" y1="310.7" x2="216.8" y2="324.0" stroke="#ebe61c"/><line x1="217.7" y1="304.6" x2="217.7" y2="316.7" stroke="#e41212"/><line x1="269.1" y1="243.9" x2="253.0" y2="247.8" stroke="#ebe61c"/><line x1="253.0" y1="247.8" x2="242.9" y2="257.2" stroke="#ebe61c"/><line x1="260.3" y1="246.1" x2="248.5" y2="252.1" stroke="#e41212"/><line x1="269.1" y1="243.9" x2="279.4" y2="252.2" stroke="#ebe61c"/><line x1="279.4" y1="252.2" x2="295.2" y2="257.2" stroke="#ebe61c"/><line x1="274.8" y1="248.5" x2="286.5" y2="254.5" stroke="#e41212"/><line x1="269.1" y1="297.1" x2="270.7" y2="310.7" stroke="#12a022"/><line x1="270.7" y1="310.7" x2="269.1" y2="324.0" stroke="#ebe61c"/><line x1="270.0" y1="304.6" x2="270.0" y2="316.7" stroke="#e41212"/><line x1="321.4" y1="243.9" x2="305.3" y2="247.8" stroke="#ebe61c"/><line x1="305.3" y1="247.8" x2="295.2" y2="257.2" stroke="#ebe61c"/><line x1="312.6" y1="246.1" x2="300.8" y2="252.1" stroke="#e41212"/><line x1="321.4" y1="243.9" x2="331.7" y2="252.2" stroke="#ebe61c"/><line x1="331.7" y1="252.2" x2="347.5" y2="257.2" stroke="#ebe61c"/><line x1="327.1" y1="248.5" x2="338.8" y2="254.5" stroke="#e41212"/><line x1="321.4" y1="297.1" x2="323.0" y2="310.7" stroke="#12a022"/><line x1="323.0" y1="310.7" x2="321.4" y2="324.0" stroke="#ebe61c"/><line x1="322.3" y1="304.6" x2="322.3" y2="316.7" stroke="#e41212"/><line x1="373.7" y1="243.9" x2="357.6" y2="247.8" stroke="#ebe61c"/><line x1="357.6" y1="247.8" x2="347.6" y2="257.2" stroke="#ebe61c"/><line x1="364.9" y1="246.1" x2="353.1" y2="252.1" stroke="#e41212"/><line x1="373.7" y1="243.9" x2="384.0" y2="252.2" stroke="#ebe61c"/><line x1="384.0" y1="252.2" x2="399.8" y2="257.2" stroke="#ebe61c"/><line x1="379.4" y1="248.5" x2="391.1" y2="254.5" stroke="#e41212"/><line x1="373.7" y1="297.1" x2="375.3" y2="310.7" stroke="#12a022"/><line x1="375.3" y1="310.7" x2="373.7" y2="324.0" stroke="#ebe61c"/><line x1="374.6" y1="304.6" x2="374.6" y2="316.7" stroke="#e41212"/><line x1="426.0" y1="243.9" x2="409.9" y2="247.8" stroke="#ebe61c"/><line x1="409.9" y1="247.8" x2="399.8" y2="257.2" stroke="#ebe61c"/><line x1="417.2" y1="246.1" x2="405.4" y2="252.1" stroke="#e41212"/><line x1="426.0" y1="243.9" x2="436.3" y2="252.2" stroke="#ebe61c"/><line x1="436.3" y1="252.2" x2="452.1" y2="257.2" stroke="#ebe61c"/><line x1="431.7" y1="248.5" x2="443.4" y2="254.5" stroke="#e41212"/><line x1="426.0" y1="297.1" x2="427.6" y2="310.7" stroke="#12a022"/><line x1="427.6" y1="310.7" x2="426.0" y2="324.0" stroke="#ebe61c"/><line x1="426.9" y1="304.6" x2="426.9" y2="316.7" stroke="#e41212"/><line x1="478.3" y1="243.9" x2="462.2" y2="247.8" stroke="#ebe61c"/><line x1="462.2" y1="247.8" x2="452.1" y2="257.2" stroke="#ebe61c"/><line x1="469.5" y1="246.1" x2="457.7" y2="252.1" stroke="#e41212"/><line x1="478.3" y1="243.9" x2="488.6" y2="252.2" stroke="#ebe61c"/><line x1="488.6" y1="252.2" x2="504.4" y2="257.2" stroke="#ebe61c"/><line x1="484.0" y1="248.5" x2="495.7" y2="254.5" stroke="#e41212"/><line x1="478.3" y1="297.1" x2="479.9" y2="310.7" stroke="#12a022"/><line x1="479.9" y1="310.7" x2="478.3" y2="324.0" stroke="#ebe61c"/><line x1="479.2" y1="304.6" x2="479.2" y2="316.7" stroke="#e41212"/><line x1="530.6" y1="243.9" x2="514.5" y2="247.8" stroke="#ebe61c"/><line x1="514.5" y1="247.8" x2="504.5" y2="257.2" stroke="#ebe61c"/><line x1="521.8" y1="246.1" x2="510.0" y2="252.1" stroke="#e41212"/><line x1="530.6" y1="243.9" x2="540.9" y2="252.2" stroke="#ebe61c"/><line x1="540.9" y1="252.2" x2="556.8" y2="257.2" stroke="#ebe61c"/><line x1="536.3" y1="248.5" x2="548.0" y2="254.5" stroke="#e41212"/><line x1="530.6" y1="297.1" x2="532.2" y2="310.7" stroke="#12a022"/><line x1="532.2" y1="310.7" x2="530.6" y2="324.0" stroke="#ebe61c"/><line x1="531.5" y1="304.6" x2="531.5" y2="316.7" stroke="#e41212"/><line x1="582.9" y1="243.9" x2="566.8" y2="247.8" stroke="#ebe61c"/><line x1="566.8" y1="247.8" x2="556.8" y2="257.2" stroke="#ebe61c"/><line x1="574.1" y1="246.1" x2="562.3" y2="252.1" stroke="#e41212"/><line x1="86.0" y1="257.2" x2="87.6" y2="270.7" stroke="#ebe61c"/><line x1="87.6" y1="270.7" x2="86.0" y2="283.8" stroke="#ebe61c"/><line x1="86.9" y1="264.6" x2="86.9" y2="276.6" stroke="#e41212"/><line x1="86.0" y1="283.8" x2="69.7" y2="288.0" stroke="#ebe61c"/><line x1="69.7" y1="288.0" x2="59.9" y2="297.1" stroke="#12a022"/><line x1="77.0" y1="286.1" x2="65.3" y2="292.1" stroke="#e41212"/><line x1="86.0" y1="283.8" x2="97.5" y2="291.0" stroke="#ebe61c"/><line x1="97.5" y1="291.0" x2="112.2" y2="297.1" stroke="#12a022"/><line x1="92.4" y1="287.8" x2="104.1" y2="293.8" stroke="#e41212"/><line x1="138.3" y1="257.2" x2="139.9" y2="270.7" stroke="#ebe61c"/><line x1="139.9" y1="270.7" x2="138.3" y2="283.8" stroke="#ebe61c"/><line x1="139.2" y1="264.6" x2="139.2" y2="276.6" stroke="#e41212"/><line x1="138.3" y1="283.8" x2="122.0" y2="288.0" stroke="#ebe61c"/><line x1="122.0" y1="288.0" x2="112.2" y2="297.1" stroke="#12a022"/><line x1="129.3" y1="286.1" x2="117.6" y2="292.1" stroke="#e41212"/><line x1="138.3" y1="283.8" x2="149.8" y2="291.0" stroke="#ebe61c"/><line x1="149.8" y1="291.0" x2="164.5" y2="297.1" stroke="#12a022"/><line x1="144.7" y1="287.8" x2="156.4" y2="293.8" stroke="#e41212"/><line x1="190.6" y1="257.2" x2="192.2" y2="270.7" stroke="#ebe61c"/><line x1="192.2" y1="270.7" x2="190.6" y2="283.8" stroke="#ebe61c"/><line x1="191.5" y1="264.6" x2="191.5" y2="276.6" stroke="#e41212"/><line x1="190.6" y1="283.8" x2="174.3" y2="288.0" stroke="#ebe61c"/><line x1="174.3" y1="288.0" x2="164.5" y2="297.1" stroke="#12a022"/><line x1="181.6" y1="286.1" x2="169.9" y2="292.1" stroke="#e41212"/><line x1="190.6" y1="283.8" x2="202.1" y2="291.0" stroke="#ebe61c"/><line x1="202.1" y1="291.0" x2="216.8" y2="297.1" stroke="#12a022"/><line x1="197.0" y1="287.8" x2="208.7" y2="293.8" stroke="#e41212"/><line x1="242.9" y1="257.2" x2="244.5" y2="270.7" stroke="#ebe61c"/><line x1="244.5" y1="270.7" x2="242.9" y2="283.8" stroke="#ebe61c"/><line x1="243.8" y1="264.6" x2="243.8" y2="276.6" stroke="#e41212"/><line x1="242.9" y1="283.8" x2="226.6" y2="288.0" stroke="#ebe61c"/><line x1="226.6" y1="288.0" x2="216.8" y2="297.1" stroke="#12a022"/><line x1="233.9" y1="286.1" x2="222.2" y2="292.1" stroke="#e41212"/><line x1="242.9" y1="283.8" x2="254.4" y2="291.0" stroke="#ebe61c"/><line x1="254.4" y1="291.0" x2="269.1" y2="297.1" stroke="#12a022"/><line x1="249.3" y1="287.8" x2="261.0" y2="293.8" stroke="#e41212"/><line x1="295.2" y1="257.2" x2="296.9" y2="270.7" stroke="#ebe61c"/><line x1="296.9" y1="270.7" x2="295.2" y2="283.8" stroke="#ebe61c"/><line x1="296.1" y1="264.6" x2="296.1" y2="276.6" stroke="#e41212"/><line x1="295.2" y1="283.8" x2="278.9" y2="288.0" stroke="#ebe61c"/><line x1="278.9" y1="288.0" x2="269.1" y2="297.1" stroke="#12a022"/><line x1="286.2" y1="286.1" x2="274.5" y2="292.1" stroke="#e41212"/><line x1="295.2" y1="283.8" x2="306.7" y2="291.0" stroke="#ebe61c"/><line x1="306.7" y1="291.0" x2="321.4" y2="297.1" stroke="#12a022"/><line x1="301.6" y1="287.8" x2="313.3" y2="293.8" stroke="#e41212"/><line x1="347.5" y1="257.2" x2="349.1" y2="270.7" stroke="#ebe61c"/><line x1="349.1" y1="270.7" x2="347.5" y2="283.8" stroke="#ebe61c"/><line x1="348.4" y1="264.6" x2="348.4" y2="276.6" stroke="#e41212"/><line x1="347.5" y1="283.8" x2="331.2" y2="288.0" stroke="#ebe61c"/><line x1="331.2" y1="288.0" x2="321.4" y2="297.1" stroke="#12a022"/><line x1="338.5" y1="286.1" x2="326.8" y2="292.1" stroke="#e41212"/><line x1="347.5" y1="283.8" x2="359.0" y2="291.0" stroke="#ebe61c"/><line x1="359.0" y1="291.0" x2="373.7" y2="297.1" stroke="#12a022"/><line x1="353.9" y1="287.8" x2="365.6" y2="293.8" stroke="#e41212"/><line x1="399.9" y1="257.2" x2="401.5" y2="270.7" stroke="#ebe61c"/><line x1="401.5" y1="270.7" x2="399.9" y2="283.8" stroke="#ebe61c"/><line x1="400.7" y1="264.6" x2="400.7" y2="276.6" stroke="#e41212"/><line x1="399.9" y1="283.8" x2="383.5" y2="288.0" stroke="#ebe61c"/><line x1="383.5" y1="288.0" x2="373.7" y2="297.1" stroke="#12a022"/><line x1="390.8" y1="286.1" x2="379.1" y2="292.1" stroke="#e41212"/><line x1="399.9" y1="283.8" x2="411.3" y2="291.0" stroke="#ebe61c"/><line x1="411.3" y1="291.0" x2="426.0" y2="297.1" stroke="#12a022"/><line x1="406.2" y1="287.8" x2="417.9" y2="293.8" stroke="#e41212"/><line x1="452.1" y1="257.2" x2="453.8" y2="270.7" stroke="#ebe61c"/><line x1="453.8" y1="270.7" x2="452.1" y2="283.8" stroke="#ebe61c"/><line x1="453.0" y1="264.6" x2="453.0" y2="276.6" stroke="#e41212"/><line x1="452.1" y1="283.8" x2="435.8" y2="288.0" stroke="#ebe61c"/><line x1="435.8" y1="288.0" x2="426.0" y2="297.1" stroke="#12a022"/><line x1="443.1" y1="286.1" x2="431.4" y2="292.1" stroke="#e41212"/><line x1="452.1" y1="283.8" x2="463.6" y2="291.0" stroke="#ebe61c"/><line x1="463.6" y1="291.0" x2="478.3" y2="297.1" stroke="#12a022"/><line x1="458.5" y1="287.8" x2="470.2" y2="293.8" stroke="#e41212"/><line x1="504.4" y1="257.2" x2="506.0" y2="270.7" stroke="#ebe61c"/><line x1="506.0" y1="270.7" x2="504.4" y2="283.8" stroke="#ebe61c"/><line x1="505.3" y1="264.6" x2="505.3" y2="276.6" stroke="#e41212"/><line x1="504.4" y1="283.8" x2="488.1" y2="288.0" stroke="#ebe61c"/><line x1="488.1" y1="288.0" x2="478.3" y2="297.1" stroke="#12a022"/><line x1="495.4" y1="286.1" x2="483.7" y2="292.1" stroke="#e41212"/><line x1="504.4" y1="283.8" x2="515.9" y2="291.0" stroke="#ebe61c"/><line x1="515.9" y1="291.0" x2="530.6" y2="297.1" stroke="#12a022"/><line x1="510.8" y1="287.8" x2="522.5" y2="293.8" stroke="#e41212"/><line x1="556.8" y1="257.2" x2="558.4" y2="270.7" stroke="#ebe61c"/><line x1="558.4" y1="270.7" x2="556.8" y2="283.8" stroke="#ebe61c"/><line x1="557.6" y1="264.6" x2="557.6" y2="276.6" stroke="#e41212"/><line x1="556.8" y1="283.8" x2="540.4" y2="288.0" stroke="#ebe61c"/><line x1="540.4" y1="288.0" x2="530.6" y2="297.1" stroke="#12a022"/><line x1="547.7" y1="286.1" x2="536.0" y2="292.1" stroke="#e41212"/><line x1="556.8" y1="283.8" x2="568.2" y2="291.0" stroke="#ebe61c"/><line x1="568.2" y1="291.0" x2="582.9" y2="297.1" stroke="#12a022"/><line x1="563.1" y1="287.8" x2="574.8" y2="293.8" stroke="#e41212"/><line x1="59.9" y1="324.0" x2="70.2" y2="332.3" stroke="#ebe61c"/><line x1="70.2" y1="332.3" x2="86.1" y2="337.3" stroke="#ebe61c"/><line x1="65.6" y1="328.6" x2="77.3" y2="334.6" stroke="#e41212"/><line x1="112.2" y1="324.0" x2="96.1" y2="327.9" stroke="#ebe61c"/><line x1="96.1" y1="327.9" x2="86.1" y2="337.3" stroke="#ebe61c"/><line x1="103.4" y1="326.2" x2="91.6" y2="332.2" stroke="#e41212"/><line x1="112.2" y1="324.0" x2="122.5" y2="332.3" stroke="#ebe61c"/><line x1="122.5" y1="332.3" x2="138.3" y2="337.3" stroke="#ebe61c"/><line x1="117.9" y1="328.6" x2="129.6" y2="334.6" stroke="#e41212"/><line x1="112.2" y1="377.2" x2="113.8" y2="390.8" stroke="#12a022"/><line x1="113.8" y1="390.8" x2="112.2" y2="404.1" stroke="#ebe61c"/><line x1="113.1" y1="384.7" x2="113.1" y2="396.8" stroke="#e41212"/><line x1="164.5" y1="324.0" x2="148.4" y2="327.9" stroke="#ebe61c"/><line x1="148.4" y1="327.9" x2="138.3" y2="337.3" stroke="#ebe61c"/><line x1="155.7" y1="326.2" x2="143.9" y2="332.2" stroke="#e41212"/><line x1="164.5" y1="324.0" x2="174.8" y2="332.3" stroke="#ebe61c"/><line x1="174.8" y1="332.3" x2="190.7" y2="337.3" stroke="#ebe61c"/><line x1="170.2" y1="328.6" x2="181.9" y2="334.6" stroke="#e41212"/><line x1="164.5" y1="377.2" x2="166.1" y2="390.8" stroke="#12a022"/><line x1="166.1" y1="390.8" x2="164.5" y2="404.1" stroke="#ebe61c"/><line x1="165.4" y1="384.7" x2="165.4" y2="396.8" stroke="#e41212"/><line x1="216.8" y1="324.0" x2="200.7" y2="327.9" stroke="#ebe61c"/><line x1="200.7" y1="327.9" x2="190.7" y2="337.3" stroke="#ebe61c"/><line x1="208.0" y1="326.2" x2="196.2" y2="332.2" stroke="#e41212"/><line x1="216.8" y1="324.0" x2="227.1" y2="332.3" stroke="#ebe61c"/><line x1="227.1" y1="332.3" x2="243.0" y2="337.3" stroke="#ebe61c"/><line x1="222.5" y1="328.6" x2="234.2" y2="334.6" stroke="#e41212"/><line x1="216.8" y1="377.2" x2="218.4" y2="390.8" stroke="#12a022"/><line x1="218.4" y1="390.8" x2="216.8" y2="404.1" stroke="#ebe61c"/><line x1="217.7" y1="384.7" x2="217.7" y2="396.8" stroke="#e41212"/><line x1="269.1" y1="324.0" x2="253.0" y2="327.9" stroke="#ebe61c"/><line x1="253.0" y1="327.9" x2="242.9" y2="337.3" stroke="#ebe61c"/><line x1="260.3" y1="326.2" x2="248.5" y2="332.2" stroke="#e41212"/><line x1="269.1" y1="324.0" x2="279.4" y2="332.3" stroke="#ebe61c"/><line x1="279.4" y1="332.3" x2="295.2" y2="337.3" stroke="#ebe61c"/><line x1="274.8" y1="328.6" x2="286.5" y2="334.6" stroke="#e41212"/><line x1="269.1" y1="377.2" x2="270.7" y2="390.8" stroke="#12a022"/><line x1="270.7" y1="390.8" x2="269.1" y2="404.1" stroke="#ebe61c"/><line x1="270.0" y1="384.7" x2="270.0" y2="396.8" stroke="#e41212"/><line x1="321.4" y1="324.0" x2="305.3" y2="327.9" stroke="#ebe61c"/><line x1="305.3" y1="327.9" x2="295.2" y2="337.3" stroke="#ebe61c"/><line x1="312.6" y1="326.2" x2="300.8" y2="332.2" stroke="#e41212"/><line x1="321.4" y1="324.0" x2="331.7" y2="332.3" stroke="#ebe61c"/><line x1="331.7" y1="332.3" x2="347.5" y2="337.3" stroke="#ebe61c"/><line x1="327.1" y1="328.6" x2="338.8" y2="334.6" stroke="#e41212"/><line x1="321.4" y1="377.2" x2="323.0" y2="390.8" stroke="#12a022"/><line x1="323.0" y1="390.8" x2="321.4" y2="404.1" stroke="#ebe61c"/><line x1="322.3" y1="384.7" x2="322.3" y2="396.8" stroke="#e41212"/><line x1="373.7" y1="324.0" x2="357.6" y2="327.9" stroke="#ebe61c"/><line x1="357.6" y1="327.9" x2="347.6" y2="337.3" stroke="#ebe61c"/><line x1="364.9" y1="326.2" x2="353.1" y2="332.2" stroke="#e41212"/><line x1="373.7" y1="324.0" x2="384.0" y2="332.3" stroke="#ebe61c"/><line x1="384.0" y1="332.3" x2="399.8" y2="337.3" stroke="#ebe61c"/><line x1="379.4" y1="328.6" x2="391.1" y2="334.6" stroke="#e41212"/><line x1="373.7" y1="377.2" x2="375.3" y2="390.8" stroke="#12a022"/><line x1="375.3" y1="390.8" x2="373.7" y2="404.1" stroke="#ebe61c"/><line x1="374.6" y1="384.7" x2="374.6" y2="396.8" stroke="#e41212"/><line x1="426.0" y1="324.0" x2="409.9" y2="327.9" stroke="#ebe61c"/><line x1="409.9" y1="327.9" x2="399.8" y2="337.3" stroke="#ebe61c"/><line x1="417.2" y1="326.2" x2="405.4" y2="332.2" stroke="#e41212"/><line x1="426.0" y1="324.0" x2="436.3" y2="332.3" stroke="#ebe61c"/><line x1="436.3" y1="332.3" x2="452.1" y2="337.3" stroke="#ebe61c"/><line x1="431.7" y1="328.6" x2="443.4" y2="334.6" stroke="#e41212"/><line x1="426.0" y1="377.2" x2="427.6" y2="390.8" stroke="#12a022"/><line x1="427.6" y1="390.8" x2="426.0" y2="404.1" stroke="#ebe61c"/><line x1="426.9" y1="384.7" x2="426.9" y2="396.8" stroke="#e41212"/><line x1="478.3" y1="324.0" x2="462.2" y2="327.9" stroke="#ebe61c"/><line x1="462.2" y1="327.9" x2="452.1" y2="337.3" stroke="#ebe61c"/><line x1="469.5" y1="326.2" x2="457.7" y2="332.2" stroke="#e41212"/><line x1="478.3" y1="324.0" x2="488.6" y2="332.3" stroke="#ebe61c"/><line x1="488.6" y1="332.3" x2="504.4" y2="337.3" stroke="#ebe61c"/><line x1="484.0" y1="328.6" x2="495.7" y2="334.6" stroke="#e41212"/><line x1="478.3" y1="377.2" x2="479.9" y2="390.8" stroke="#12a022"/><line x1="479.9" y1="390.8" x2="478.3" y2="404.1" stroke="#ebe61c"/><line x1="479.2" y1="384.7" x2="479.2" y2="396.8" stroke="#e41212"/><line x1="530.6" y1="324.0" x2="514.5" y2="327.9" stroke="#ebe61c"/><line x1="514.5" y1="327.9" x2="504.5" y2="337.3" stroke="#ebe61c"/><line x1="521.8" y1="326.2" x2="510.0" y2="332.2" stroke="#e41212"/><line x1="530.6" y1="324.0" x2="540.9" y2="332.3" stroke="#ebe61c"/><line x1="540.9" y1="332.3" x2="556.8" y2="337.3" stroke="#ebe61c"/><line x1="536.3" y1="328.6" x2="548.0" y2="334.6" stroke="#e41212"/><line x1="530.6" y1="377.2" x2="532.2" y2="390.8" stroke="#12a022"/><line x1="532.2" y1="390.8" x2="530.6" y2="404.1" stroke="#ebe61c"/><line x1="531.5" y1="384.7" x2="531.5" y2="396.8" stroke="#e41212"/><line x1="582.9" y1="324.0" x2="566.8" y2="327.9" stroke="#ebe61c"/><line x1="566.8" y1="327.9" x2="556.8" y2="337.3" stroke="#ebe61c"/><line x1="574.1" y1="326.2" x2="562.3" y2="332.2" stroke="#e41212"/><line x1="86.0" y1="337.3" x2="87.6" y2="350.8" stroke="#ebe61c"/><line x1="87.6" y1="350.8" x2="86.0" y2="363.9" stroke="#ebe61c"/><line x1="86.9" y1="344.7" x2="86.9" y2="356.7" stroke="#e41212"/><line x1="86.0" y1="363.9" x2="69.7" y2="368.1" stroke="#ebe61c"/><line x1="69.7" y1="368.1" x2="59.9" y2="377.2" stroke="#12a022"/><line x1="77.0" y1="366.2" x2="65.3" y2="372.2" stroke="#e41212"/><line x1="86.0" y1="363.9" x2="97.5" y2="371.1" stroke="#ebe61c"/><line x1="97.5" y1="371.1" x2="112.2" y2="377.2" stroke="#12a022"/><line x1="92.4" y1="367.9" x2="104.1" y2="373.9" stroke="#e41212"/><line x1="138.3" y1="337.3" x2="139.9" y2="350.8" stroke="#ebe61c"/><line x1="139.9" y1="350.8" x2="138.3" y2="363.9" stroke="#ebe61c"/><line x1="139.2" y1="344.7" x2="139.2" y2="356.7" stroke="#e41212"/><line x1="138.3" y1="363.9" x2="122.0" y2="368.1" stroke="#ebe61c"/><line x1="122.0" y1="368.1" x2="112.2" y2="377.2" stroke="#12a022"/><line x1="129.3" y1="366.2" x2="117.6" y2="372.2" stroke="#e41212"/><line x1="138.3" y1="363.9" x2="149.8" y2="371.1" stroke="#ebe61c"/><line x1="149.8" y1="371.1" x2="164.5" y2="377.2" stroke="#12a022"/><line x1="144.7" y1="367.9" x2="156.4" y2="373.9" stroke="#e41212"/><line x1="190.6" y1="337.3" x2="192.2" y2="350.8" stroke="#ebe61c"/><line x1="192.2" y1="350.8" x2="190.6" y2="363.9" stroke="#ebe61c"/><line x1="191.5" y1="344.7" x2="191.5" y2="356.7" stroke="#e41212"/><line x1="190.6" y1="363.9" x2="174.3" y2="368.1" stroke="#ebe61c"/><line x1="174.3" y1="368.1" x2="164.5" y2="377.2" stroke="#12a022"/><line x1="181.6" y1="366.2" x2="169.9" y2="372.2" stroke="#e41212"/><line x1="190.6" y1="363.9" x2="202.1" y2="371.1" stroke="#ebe61c"/><line x1="202.1" y1="371.1" x2="216.8" y2="377.2" stroke="#12a022"/><line x1="197.0" y1="367.9" x2="208.7" y2="373.9" stroke="#e41212"/><line x1="242.9" y1="337.3" x2="244.5" y2="350.8" stroke="#ebe61c"/><line x1="244.5" y1="350.8" x2="242.9" y2="363.9" stroke="#ebe61c"/><line x1="243.8" y1="344.7" x2="243.8" y2="356.7" stroke="#e41212"/><line x1="242.9" y1="363.9" x2="226.6" y2="368.1" stroke="#ebe61c"/><line x1="226.6" y1="368.1" x2="216.8" y2="377.2" stroke="#12a022"/><line x1="233.9" y1="366.2" x2="222.2" y2="372.2" stroke="#e41212"/><line x1="242.9" y1="363.9" x2="254.4" y2="371.1" stroke="#ebe61c"/><line x1="254.4" y1="371.1" x2="269.1" y2="377.2" stroke="#12a022"/><line x1="249.3" y1="367.9" x2="261.0" y2="373.9" stroke="#e41212"/><line x1="295.2" y1="337.3" x2="296.9" y2="350.8" stroke="#ebe61c"/><line x1="296.9" y1="350.8" x2="295.2" y2="363.9" stroke="#ebe61c"/><line x1="296.1" y1="344.7" x2="296.1" y2="356.7" stroke="#e41212"/><line x1="295.2" y1="363.9" x2="278.9" y2="368.1" stroke="#ebe61c"/><line x1="278.9" y1="368.1" x2="269.1" y2="377.2" stroke="#12a022"/><line x1="286.2" y1="366.2" x2="274.5" y2="372.2" stroke="#e41212"/><line x1="295.2" y1="363.9" x2="306.7" y2="371.1" stroke="#ebe61c"/><line x1="306.7" y1="371.1" x2="321.4" y2="377.2" stroke="#12a022"/><line x1="301.6" y1="367.9" x2="313.3" y2="373.9" stroke="#e41212"/><line x1="347.5" y1="337.3" x2="349.1" y2="350.8" stroke="#ebe61c"/><line x1="349.1" y1="350.8" x2="347.5" y2="363.9" stroke="#ebe61c"/><line x1="348.4" y1="344.7" x2="348.4" y2="356.7" stroke="#e41212"/><line x1="347.5" y1="363.9" x2="331.2" y2="368.1" stroke="#ebe61c"/><line x1="331.2" y1="368.1" x2="321.4" y2="377.2" stroke="#12a022"/><line x1="338.5" y1="366.2" x2="326.8" y2="372.2" stroke="#e41212"/><line x1="347.5" y1="363.9" x2="359.0" y2="371.1" stroke="#ebe61c"/><line x1="359.0" y1="371.1" x2="373.7" y2="377.2" stroke="#12a022"/><line x1="353.9" y1="367.9" x2="365.6" y2="373.9" stroke="#e41212"/><line x1="399.9" y1="337.3" x2="401.5" y2="350.8" stroke="#ebe61c"/><line x1="401.5" y1="350.8" x2="399.9" y2="363.9" stroke="#ebe61c"/><line x1="400.7" y1="344.7" x2="400.7" y2="356.7" stroke="#e41212"/><line x1="399.9" y1="363.9" x2="383.5" y2="368.1" stroke="#ebe61c"/><line x1="383.5" y1="368.1" x2="373.7" y2="377.2" stroke="#12a022"/><line x1="390.8" y1="366.2" x2="379.1" y2="372.2" stroke="#e41212"/><line x1="399.9" y1="363.9" x2="411.3" y2="371.1" stroke="#ebe61c"/><line x1="411.3" y1="371.1" x2="426.0" y2="377.2" stroke="#12a022"/><line x1="406.2" y1="367.9" x2="417.9" y2="373.9" stroke="#e41212"/><line x1="452.1" y1="337.3" x2="453.8" y2="350.8" stroke="#ebe61c"/><line x1="453.8" y1="350.8" x2="452.1" y2="363.9" stroke="#ebe61c"/><line x1="453.0" y1="344.7" x2="453.0" y2="356.7" stroke="#e41212"/><line x1="452.1" y1="363.9" x2="435.8" y2="368.1" stroke="#ebe61c"/><line x1="435.8" y1="368.1" x2="426.0" y2="377.2" stroke="#12a022"/><line x1="443.1" y1="366.2" x2="431.4" y2="372.2" stroke="#e41212"/><line x1="452.1" y1="363.9" x2="463.6" y2="371.1" stroke="#ebe61c"/><line x1="463.6" y1="371.1" x2="478.3" y2="377.2" stroke="#12a022"/><line x1="458.5" y1="367.9" x2="470.2" y2="373.9" stroke="#e41212"/><line x1="504.4" y1="337.3" x2="506.0" y2="350.8" stroke="#ebe61c"/><line x1="506.0" y1="350.8" x2="504.4" y2="363.9" stroke="#ebe61c"/><line x1="505.3" y1="344.7" x2="505.3" y2="356.7" stroke="#e41212"/><line x1="504.4" y1="363.9" x2="488.1" y2="368.1" stroke="#ebe61c"/><line x1="488.1" y1="368.1" x2="478.3" y2="377.2" stroke="#12a022"/><line x1="495.4" y1="366.2" x2="483.7" y2="372.2" stroke="#e41212"/><line x1="504.4" y1="363.9" x2="515.9" y2="371.1" stroke="#ebe61c"/><line x1="515.9" y1="371.1" x2="530.6" y2="377.2" stroke="#12a022"/><line x1="510.8" y1="367.9" x2="522.5" y2="373.9" stroke="#e41212"/><line x1="556.8" y1="337.3" x2="558.4" y2="350.8" stroke="#ebe61c"/><line x1="558.4" y1="350.8" x2="556.8" y2="363.9" stroke="#ebe61c"/><line x1="557.6" y1="344.7" x2="557.6" y2="356.7" stroke="#e41212"/><line x1="556.8" y1="363.9" x2="540.4" y2="368.1" stroke="#ebe61c"/><line x1="540.4" y1="368.1" x2="530.6" y2="377.2" stroke="#12a022"/><line x1="547.7" y1="366.2" x2="536.0" y2="372.2" stroke="#e41212"/><line x1="556.8" y1="363.9" x2="568.2" y2="371.1" stroke="#ebe61c"/><line x1="568.2" y1="371.1" x2="582.9" y2="377.2" stroke="#12a022"/><line x1="563.1" y1="367.9" x2="574.8" y2="373.9" stroke="#e41212"/><line x1="59.9" y1="404.1" x2="70.2" y2="412.4" stroke="#ebe61c"/><line x1="70.2" y1="412.4" x2="86.1" y2="417.4" stroke="#ebe61c"/><line x1="65.6" y1="408.7" x2="77.3" y2="414.7" stroke="#e41212"/><line x1="112.2" y1="404.1" x2="96.1" y2="408.1" stroke="#ebe61c"/><line x1="96.1" y1="408.1" x2="86.1" y2="417.4" stroke="#ebe61c"/><line x1="103.4" y1="406.3" x2="91.6" y2="412.3" stroke="#e41212"/><line x1="112.2" y1="404.1" x2="122.5" y2="412.4" stroke="#ebe61c"/><line x1="122.5" y1="412.4" x2="138.3" y2="417.4" stroke="#ebe61c"/><line x1="117.9" y1="408.7" x2="129.6" y2="414.7" stroke="#e41212"/><line x1="112.2" y1="457.3" x2="113.8" y2="470.9" stroke="#12a022"/><line x1="113.8" y1="470.9" x2="112.2" y2="484.2" stroke="#ebe61c"/><line x1="113.1" y1="464.8" x2="113.1" y2="476.9" stroke="#e41212"/><line x1="164.5" y1="404.1" x2="148.4" y2="408.1" stroke="#ebe61c"/><line x1="148.4" y1="408.1" x2="138.3" y2="417.4" stroke="#ebe61c"/><line x1="155.7" y1="406.3" x2="143.9" y2="412.3" stroke="#e41212"/><line x1="164.5" y1="404.1" x2="174.8" y2="412.4" stroke="#ebe61c"/><line x1="174.8" y1="412.4" x2="190.7" y2="417.4" stroke="#ebe61c"/><line x1="170.2" y1="408.7" x2="181.9" y2="414.7" stroke="#e41212"/><line x1="164.5" y1="457.3" x2="166.1" y2="470.9" stroke="#12a022"/><line x1="166.1" y1="470.9" x2="164.5" y2="484.2" stroke="#ebe61c"/><line x1="165.4" y1="464.8" x2="165.4" y2="476.9" stroke="#e41212"/><line x1="216.8" y1="404.1" x2="200.7" y2="408.1" stroke="#ebe61c"/><line x1="200.7" y1="408.1" x2="190.7" y2="417.4" stroke="#ebe61c"/><line x1="208.0" y1="406.3" x2="196.2" y2="412.3" stroke="#e41212"/><line x1="216.8" y1="404.1" x2="227.1" y2="412.4" stroke="#ebe61c"/><line x1="227.1" y1="412.4" x2="243.0" y2="417.4" stroke="#ebe61c"/><line x1="222.5" y1="408.7" x2="234.2" y2="414.7" stroke="#e41212"/><line x1="216.8" y1="457.3" x2="218.4" y2="470.9" stroke="#12a022"/><line x1="218.4" y1="470.9" x2="216.8" y2="484.2" stroke="#ebe61c"/><line x1="217.7" y1="464.8" x2="217.7" y2="476.9" stroke="#e41212"/><line x1="269.1" y1="404.1" x2="253.0" y2="408.1" stroke="#ebe61c"/><line x1="253.0" y1="408.1" x2="242.9" y2="417.4" stroke="#ebe61c"/><line x1="260.3" y1="406.3" x2="248.5" y2="412.3" stroke="#e41212"/><line x1="269.1" y1="404.1" x2="279.4" y2="412.4" stroke="#ebe61c"/><line x1="279.4" y1="412.4" x2="295.2" y2="417.4" stroke="#ebe61c"/><line x1="274.8" y1="408.7" x2="286.5" y2="414.7" stroke="#e41212"/><line x1="269.1" y1="457.3" x2="270.7" y2="470.9" stroke="#12a022"/><line x1="270.7" y1="470.9" x2="269.1" y2="484.2" stroke="#ebe61c"/><line x1="270.0" y1="464.8" x2="270.0" y2="476.9" stroke="#e41212"/><line x1="321.4" y1="404.1" x2="305.3" y2="408.1" stroke="#ebe61c"/><line x1="305.3" y1="408.1" x2="295.2" y2="417.4" stroke="#ebe61c"/><line x1="312.6" y1="406.3" x2="300.8" y2="412.3" stroke="#e41212"/><line x1="321.4" y1="404.1" x2="331.7" y2="412.4" stroke="#ebe61c"/><line x1="331.7" y1="412.4" x2="347.5" y2="417.4" stroke="#ebe61c"/><line x1="327.1" y1="408.7" x2="338.8" y2="414.7" stroke="#e41212"/><line x1="321.4" y1="457.3" x2="323.0" y2="470.9" stroke="#12a022"/><line x1="323.0" y1="470.9" x2="321.4" y2="484.2" stroke="#ebe61c"/><line x1="322.3" y1="464.8" x2="322.3" y2="476.9" stroke="#e41212"/><line x1="373.7" y1="404.1" x2="357.6" y2="408.1" stroke="#ebe61c"/><line x1="357.6" y1="408.1" x2="347.6" y2="417.4" stroke="#ebe61c"/><line x1="364.9" y1="406.3" x2="353.1" y2="412.3" stroke="#e41212"/><line x1="373.7" y1="404.1" x2="384.0" y2="412.4" stroke="#ebe61c"/><line x1="384.0" y1="412.4" x2="399.8" y2="417.4" stroke="#ebe61c"/><line x1="379.4" y1="408.7" x2="391.1" y2="414.7" stroke="#e41212"/><line x1="373.7" y1="457.3" x2="375.3" y2="470.9" stroke="#12a022"/><line x1="375.3" y1="470.9" x2="373.7" y2="484.2" stroke="#ebe61c"/><line x1="374.6" y1="464.8" x2="374.6" y2="476.9" stroke="#e41212"/><line x1="426.0" y1="404.1" x2="409.9" y2="408.1" stroke="#ebe61c"/><line x1="409.9" y1="408.1" x2="399.8" y2="417.4" stroke="#ebe61c"/><line x1="417.2" y1="406.3" x2="405.4" y2="412.3" stroke="#e41212"/><line x1="426.0" y1="404.1" x2="436.3" y2="412.4" stroke="#ebe61c"/><line x1="436.3" y1="412.4" x2="452.1" y2="417.4" stroke="#ebe61c"/><line x1="431.7" y1="408.7" x2="443.4" y2="414.7" stroke="#e41212"/><line x1="426.0" y1="457.3" x2="427.6" y2="470.9" stroke="#12a022"/><line x1="427.6" y1="470.9" x2="426.0" y2="484.2" stroke="#ebe61c"/><line x1="426.9" y1="464.8" x2="426.9" y2="476.9" stroke="#e41212"/><line x1="478.3" y1="404.1" x2="462.2" y2="408.1" stroke="#ebe61c"/><line x1="462.2" y1="408.1" x2="452.1" y2="417.4" stroke="#ebe61c"/><line x1="469.5" y1="406.3" x2="457.7" y2="412.3" stroke="#e41212"/><line x1="478.3" y1="404.1" x2="488.6" y2="412.4" stroke="#ebe61c"/><line x1="488.6" y1="412.4" x2="504.4" y2="417.4" stroke="#ebe61c"/><line x1="484.0" y1="408.7" x2="495.7" y2="414.7" stroke="#e41212"/><line x1="478.3" y1="457.3" x2="479.9" y2="470.9" stroke="#12a022"/><line x1="479.9" y1="470.9" x2="478.3" y2="484.2" stroke="#ebe61c"/><line x1="479.2" y1="464.8" x2="479.2" y2="476.9" stroke="#e41212"/><line x1="530.6" y1="404.1" x2="514.5" y2="408.1" stroke="#ebe61c"/><line x1="514.5" y1="408.1" x2="504.5" y2="417.4" stroke="#ebe61c"/><line x1="521.8" y1="406.3" x2="510.0" y2="412.3" stroke="#e41212"/><line x1="530.6" y1="404.1" x2="540.9" y2="412.4" stroke="#ebe61c"/><line x1="540.9" y1="412.4" x2="556.8" y2="417.4" stroke="#ebe61c"/><line x1="536.3" y1="408.7" x2="548.0" y2="414.7" stroke="#e41212"/><line x1="530.6" y1="457.3" x2="532.2" y2="470.9" stroke="#12a022"/><line x1="532.2" y1="470.9" x2="530.6" y2="484.2" stroke="#ebe61c"/><line x1="531.5" y1="464.8" x2="531.5" y2="476.9" stroke="#e41212"/><line x1="582.9" y1="404.1" x2="566.8" y2="408.1" stroke="#ebe61c"/><line x1="566.8" y1="408.1" x2="556.8" y2="417.4" stroke="#ebe61c"/><line x1="574.1" y1="406.3" x2="562.3" y2="412.3" stroke="#e41212"/><line x1="86.0" y1="417.4" x2="87.6" y2="430.9" stroke="#ebe61c"/><line x1="87.6" y1="430.9" x2="86.0" y2="444.0" stroke="#ebe61c"/><line x1="86.9" y1="424.8" x2="86.9" y2="436.8" stroke="#e41212"/><line x1="86.0" y1="444.0" x2="69.7" y2="448.2" stroke="#ebe61c"/><line x1="69.7" y1="448.2" x2="59.9" y2="457.3" stroke="#12a022"/><line x1="77.0" y1="446.3" x2="65.3" y2="452.3" stroke="#e41212"/><line x1="86.0" y1="444.0" x2="97.5" y2="451.2" stroke="#ebe61c"/><line x1="97.5" y1="451.2" x2="112.2" y2="457.3" stroke="#12a022"/><line x1="92.4" y1="448.0" x2="104.1" y2="454.0" stroke="#e41212"/><line x1="138.3" y1="417.4" x2="139.9" y2="430.9" stroke="#ebe61c"/><line x1="139.9" y1="430.9" x2="138.3" y2="444.0" stroke="#ebe61c"/><line x1="139.2" y1="424.8" x2="139.2" y2="436.8" stroke="#e41212"/><line x1="138.3" y1="444.0" x2="122.0" y2="448.2" stroke="#ebe61c"/><line x1="122.0" y1="448.2" x2="112.2" y2="457.3" stroke="#12a022"/><line x1="129.3" y1="446.3" x2="117.6" y2="452.3" stroke="#e41212"/><line x1="138.3" y1="444.0" x2="149.8" y2="451.2" stroke="#ebe61c"/><line x1="149.8" y1="451.2" x2="164.5" y2="457.3" stroke="#12a022"/><line x1="144.7" y1="448.0" x2="156.4" y2="454.0" stroke="#e41212"/><line x1="190.6" y1="417.4" x2="192.2" y2="430.9" stroke="#ebe61c"/><line x1="192.2" y1="430.9" x2="190.6" y2="444.0" stroke="#ebe61c"/><line x1="191.5" y1="424.8" x2="191.5" y2="436.8" stroke="#e41212"/><line x1="190.6" y1="444.0" x2="174.3" y2="448.2" stroke="#ebe61c"/><line x1="174.3" y1="448.2" x2="164.5" y2="457.3" stroke="#12a022"/><line x1="181.6" y1="446.3" x2="169.9" y2="452.3" stroke="#e41212"/><line x1="190.6" y1="444.0" x2="202.1" y2="451.2" stroke="#ebe61c"/><line x1="202.1" y1="451.2" x2="216.8" y2="457.3" stroke="#12a022"/><line x1="197.0" y1="448.0" x2="208.7" y2="454.0" stroke="#e41212"/><line x1="242.9" y1="417.4" x2="244.5" y2="430.9" stroke="#ebe61c"/><line x1="244.5" y1="430.9" x2="242.9" y2="444.0" stroke="#ebe61c"/><line x1="243.8" y1="424.8" x2="243.8" y2="436.8" stroke="#e41212"/><line x1="242.9" y1="444.0" x2="226.6" y2="448.2" stroke="#ebe61c"/><line x1="226.6" y1="448.2" x2="216.8" y2="457.3" stroke="#12a022"/><line x1="233.9" y1="446.3" x2="222.2" y2="452.3" stroke="#e41212"/><line x1="242.9" y1="444.0" x2="254.4" y2="451.2" stroke="#ebe61c"/><line x1="254.4" y1="451.2" x2="269.1" y2="457.3" stroke="#12a022"/><line x1="249.3" y1="448.0" x2="261.0" y2="454.0" stroke="#e41212"/><line x1="295.2" y1="417.4" x2="296.9" y2="430.9" stroke="#ebe61c"/><line x1="296.9" y1="430.9" x2="295.2" y2="444.0" stroke="#ebe61c"/><line x1="296.1" y1="424.8" x2="296.1" y2="436.8" stroke="#e41212"/><line x1="295.2" y1="444.0" x2="278.9" y2="448.2" stroke="#ebe61c"/><line x1="278.9" y1="448.2" x2="269.1" y2="457.3" stroke="#12a022"/><line x1="286.2" y1="446.3" x2="274.5" y2="452.3" stroke="#e41212"/><line x1="295.2" y1="444.0" x2="306.7" y2="451.2" stroke="#ebe61c"/><line x1="306.7" y1="451.2" x2="321.4" y2="457.3" stroke="#12a022"/><line x1="301.6" y1="448.0" x2="313.3" y2="454.0" stroke="#e41212"/><line x1="347.5" y1="417.4" x2="349.1" y2="430.9" stroke="#ebe61c"/><line x1="349.1" y1="430.9" x2="347.5" y2="444.0" stroke="#ebe61c"/><line x1="348.4" y1="424.8" x2="348.4" y2="436.8" stroke="#e41212"/><line x1="347.5" y1="444.0" x2="331.2" y2="448.2" stroke="#ebe61c"/><line x1="331.2" y1="448.2" x2="321.4" y2="457.3" stroke="#12a022"/><line x1="338.5" y1="446.3" x2="326.8" y2="452.3" stroke="#e41212"/><line x1="347.5" y1="444.0" x2="359.0" y2="451.2" stroke="#ebe61c"/><line x1="359.0" y1="451.2" x2="373.7" y2="457.3" stroke="#12a022"/><line x1="353.9" y1="448.0" x2="365.6" y2="454.0" stroke="#e41212"/><line x1="399.9" y1="417.4" x2="401.5" y2="430.9" stroke="#ebe61c"/><line x1="401.5" y1="430.9" x2="399.9" y2="444.0" stroke="#ebe61c"/><line x1="400.7" y1="424.8" x2="400.7" y2="436.8" stroke="#e41212"/><line x1="399.9" y1="444.0" x2="383.5" y2="448.2" stroke="#ebe61c"/><line x1="383.5" y1="448.2" x2="373.7" y2="457.3" stroke="#12a022"/><line x1="390.8" y1="446.3" x2="379.1" y2="452.3" stroke="#e41212"/><line x1="399.9" y1="444.0" x2="411.3" y2="451.2" stroke="#ebe61c"/><line x1="411.3" y1="451.2" x2="426.0" y2="457.3" stroke="#12a022"/><line x1="406.2" y1="448.0" x2="417.9" y2="454.0" stroke="#e41212"/><line x1="452.1" y1="417.4" x2="453.8" y2="430.9" stroke="#ebe61c"/><line x1="453.8" y1="430.9" x2="452.1" y2="444.0" stroke="#ebe61c"/><line x1="453.0" y1="424.8" x2="453.0" y2="436.8" stroke="#e41212"/><line x1="452.1" y1="444.0" x2="435.8" y2="448.2" stroke="#ebe61c"/><line x1="435.8" y1="448.2" x2="426.0" y2="457.3" stroke="#12a022"/><line x1="443.1" y1="446.3" x2="431.4" y2="452.3" stroke="#e41212"/><line x1="452.1" y1="444.0" x2="463.6" y2="451.2" stroke="#ebe61c"/><line x1="463.6" y1="451.2" x2="478.3" y2="457.3" stroke="#12a022"/><line x1="458.5" y1="448.0" x2="470.2" y2="454.0" stroke="#e41212"/><line x1="504.4" y1="417.4" x2="506.0" y2="430.9" stroke="#ebe61c"/><line x1="506.0" y1="430.9" x2="504.4" y2="444.0" stroke="#ebe61c"/><line x1="505.3" y1="424.8" x2="505.3" y2="436.8" stroke="#e41212"/><line x1="504.4" y1="444.0" x2="488.1" y2="448.2" stroke="#ebe61c"/><line x1="488.1" y1="448.2" x2="478.3" y2="457.3" stroke="#12a022"/><line x1="495.4" y1="446.3" x2="483.7" y2="452.3" stroke="#e41212"/><line x1="504.4" y1="444.0" x2="515.9" y2="451.2" stroke="#ebe61c"/><line x1="515.9" y1="451.2" x2="530.6" y2="457.3" stroke="#12a022"/><line x1="510.8" y1="448.0" x2="522.5" y2="454.0" stroke="#e41212"/><line x1="556.8" y1="417.4" x2="558.4" y2="430.9" stroke="#ebe61c"/><line x1="558.4" y1="430.9" x2="556.8" y2="444.0" stroke="#ebe61c"/><line x1="557.6" y1="424.8" x2="557.6" y2="436.8" stroke="#e41212"/><line x1="556.8" y1="444.0" x2="540.4" y2="448.2" stroke="#ebe61c"/><line x1="540.4" y1="448.2" x2="530.6" y2="457.3" stroke="#12a022"/><line x1="547.7" y1="446.3" x2="536.0" y2="452.3" stroke="#e41212"/><line x1="556.8" y1="444.0" x2="568.2" y2="451.2" stroke="#ebe61c"/><line x1="568.2" y1="451.2" x2="582.9" y2="457.3" stroke="#12a022"/><line x1="563.1" y1="448.0" x2="574.8" y2="454.0" stroke="#e41212"/><line x1="59.9" y1="484.2" x2="70.2" y2="492.6" stroke="#ebe61c"/><line x1="70.2" y1="492.6" x2="86.1" y2="497.5" stroke="#ebe61c"/><line x1="65.6" y1="488.8" x2="77.3" y2="494.8" stroke="#e41212"/><line x1="112.2" y1="484.2" x2="96.1" y2="488.2" stroke="#ebe61c"/><line x1="96.1" y1="488.2" x2="86.1" y2="497.5" stroke="#ebe61c"/><line x1="103.4" y1="486.4" x2="91.6" y2="492.4" stroke="#e41212"/><line x1="112.2" y1="484.2" x2="122.5" y2="492.6" stroke="#ebe61c"/><line x1="122.5" y1="492.6" x2="138.3" y2="497.5" stroke="#ebe61c"/><line x1="117.9" y1="488.8" x2="129.6" y2="494.8" stroke="#e41212"/><line x1="112.2" y1="537.4" x2="113.8" y2="551.0" stroke="#12a022"/><line x1="113.8" y1="551.0" x2="112.2" y2="564.3" stroke="#ebe61c"/><line x1="113.1" y1="544.9" x2="113.1" y2="557.0" stroke="#e41212"/><line x1="164.5" y1="484.2" x2="148.4" y2="488.2" stroke="#ebe61c"/><line x1="148.4" y1="488.2" x2="138.3" y2="497.5" stroke="#ebe61c"/><line x1="155.7" y1="486.4" x2="143.9" y2="492.4" stroke="#e41212"/><line x1="164.5" y1="484.2" x2="174.8" y2="492.6" stroke="#ebe61c"/><line x1="174.8" y1="492.6" x2="190.7" y2="497.5" stroke="#ebe61c"/><line x1="170.2" y1="488.8" x2="181.9" y2="494.8" stroke="#e41212"/><line x1="164.5" y1="537.4" x2="166.1" y2="551.0" stroke="#12a022"/><line x1="166.1" y1="551.0" x2="164.5" y2="564.3" stroke="#ebe61c"/><line x1="165.4" y1="544.9" x2="165.4" y2="557.0" stroke="#e41212"/><line x1="216.8" y1="484.2" x2="200.7" y2="488.2" stroke="#ebe61c"/><line x1="200.7" y1="488.2" x2="190.7" y2="497.5" stroke="#ebe61c"/><line x1="208.0" y1="486.4" x2="196.2" y2="492.4" stroke="#e41212"/><line x1="216.8" y1="484.2" x2="227.1" y2="492.6" stroke="#ebe61c"/><line x1="227.1" y1="492.6" x2="243.0" y2="497.5" stroke="#ebe61c"/><line x1="222.5" y1="488.8" x2="234.2" y2="494.8" stroke="#e41212"/><line x1="216.8" y1="537.4" x2="218.4" y2="551.0" stroke="#12a022"/><line x1="218.4" y1="551.0" x2="216.8" y2="564.3" stroke="#ebe61c"/><line x1="217.7" y1="544.9" x2="217.7" y2="557.0" stroke="#e41212"/><line x1="269.1" y1="484.2" x2="253.0" y2="488.2" stroke="#ebe61c"/><line x1="253.0" y1="488.2" x2="242.9" y2="497.5" stroke="#ebe61c"/><line x1="260.3" y1="486.4" x2="248.5" y2="492.4" stroke="#e41212"/><line x1="269.1" y1="484.2" x2="279.4" y2="492.6" stroke="#ebe61c"/><line x1="279.4" y1="492.6" x2="295.2" y2="497.5" stroke="#ebe61c"/><line x1="274.8" y1="488.8" x2="286.5" y2="494.8" stroke="#e41212"/><line x1="269.1" y1="537.4" x2="270.7" y2="551.0" stroke="#12a022"/><line x1="270.7" y1="551.0" x2="269.1" y2="564.3" stroke="#ebe61c"/><line x1="270.0" y1="544.9" x2="270.0" y2="557.0" stroke="#e41212"/><line x1="321.4" y1="484.2" x2="305.3" y2="488.2" stroke="#ebe61c"/><line x1="305.3" y1="488.2" x2="295.2" y2="497.5" stroke="#ebe61c"/><line x1="312.6" y1="486.4" x2="300.8" y2="492.4" stroke="#e41212"/><line x1="321.4" y1="484.2" x2="331.7" y2="492.6" stroke="#ebe61c"/><line x1="331.7" y1="492.6" x2="347.5" y2="497.5" stroke="#ebe61c"/><line x1="327.1" y1="488.8" x2="338.8" y2="494.8" stroke="#e41212"/><line x1="321.4" y1="537.4" x2="323.0" y2="551.0" stroke="#12a022"/><line x1="323.0" y1="551.0" x2="321.4" y2="564.3" stroke="#ebe61c"/><line x1="322.3" y1="544.9" x2="322.3" y2="557.0" stroke="#e41212"/><line x1="373.7" y1="484.2" x2="357.6" y2="488.2" stroke="#ebe61c"/><line x1="357.6" y1="488.2" x2="347.6" y2="497.5" stroke="#ebe61c"/><line x1="364.9" y1="486.4" x2="353.1" y2="492.4" stroke="#e41212"/><line x1="373.7" y1="484.2" x2="384.0" y2="492.6" stroke="#ebe61c"/><line x1="384.0" y1="492.6" x2="399.8" y2="497.5" stroke="#ebe61c"/><line x1="379.4" y1="488.8" x2="391.1" y2="494.8" stroke="#e41212"/><line x1="373.7" y1="537.4" x2="375.3" y2="551.0" stroke="#12a022"/><line x1="375.3" y1="551.0" x2="373.7" y2="564.3" stroke="#ebe61c"/><line x1="374.6" y1="544.9" x2="374.6" y2="557.0" stroke="#e41212"/><line x1="426.0" y1="484.2" x2="409.9" y2="488.2" stroke="#ebe61c"/><line x1="409.9" y1="488.2" x2="399.8" y2="497.5" stroke="#ebe61c"/><line x1="417.2" y1="486.4" x2="405.4" y2="492.4" stroke="#e41212"/><line x1="426.0" y1="484.2" x2="436.3" y2="492.6" stroke="#ebe61c"/><line x1="436.3" y1="492.6" x2="452.1" y2="497.5" stroke="#ebe61c"/><line x1="431.7" y1="488.8" x2="443.4" y2="494.8" stroke="#e41212"/><line x1="426.0" y1="537.4" x2="427.6" y2="551.0" stroke="#12a022"/><line x1="427.6" y1="551.0" x2="426.0" y2="564.3" stroke="#ebe61c"/><line x1="426.9" y1="544.9" x2="426.9" y2="557.0" stroke="#e41212"/><line x1="478.3" y1="484.2" x2="462.2" y2="488.2" stroke="#ebe61c"/><line x1="462.2" y1="488.2" x2="452.1" y2="497.5" stroke="#ebe61c"/><line x1="469.5" y1="486.4" x2="457.7" y2="492.4" stroke="#e41212"/><line x1="478.3" y1="484.2" x2="488.6" y2="492.6" stroke="#ebe61c"/><line x1="488.6" y1="492.6" x2="504.4" y2="497.5" stroke="#ebe61c"/><line x1="484.0" y1="488.8" x2="495.7" y2="494.8" stroke="#e41212"/><line x1="478.3" y1="537.4" x2="479.9" y2="551.0" stroke="#12a022"/><line x1="479.9" y1="551.0" x2="478.3" y2="564.3" stroke="#ebe61c"/><line x1="479.2" y1="544.9" x2="479.2" y2="557.0" stroke="#e41212"/><line x1="530.6" y1="484.2" x2="514.5" y2="488.2" stroke="#ebe61c"/><line x1="514.5" y1="488.2" x2="504.5" y2="497.5" stroke="#ebe61c"/><line x1="521.8" y1="486.4" x2="510.0" y2="492.4" stroke="#e41212"/><line x1="530.6" y1="484.2" x2="540.9" y2="492.6" stroke="#ebe61c"/><line x1="540.9" y1="492.6" x2="556.8" y2="497.5" stroke="#ebe61c"/><line x1="536.3" y1="488.8" x2="548.0" y2="494.8" stroke="#e41212"/><line x1="530.6" y1="537.4" x2="532.2" y2="551.0" stroke="#12a022"/><line x1="532.2" y1="551.0" x2="530.6" y2="564.3" stroke="#ebe61c"/><line x1="531.5" y1="544.9" x2="531.5" y2="557.0" stroke="#e41212"/><line x1="582.9" y1="484.2" x2="566.8" y2="488.2" stroke="#ebe61c"/><line x1="566.8" y1="488.2" x2="556.8" y2="497.5" stroke="#ebe61c"/><line x1="574.1" y1="486.4" x2="562.3" y2="492.4" stroke="#e41212"/><line x1="86.0" y1="497.5" x2="87.6" y2="511.0" stroke="#ebe61c"/><line x1="87.6" y1="511.0" x2="86.0" y2="524.1" stroke="#ebe61c"/><line x1="86.9" y1="504.9" x2="86.9" y2="516.9" stroke="#e41212"/><line x1="86.0" y1="524.1" x2="69.7" y2="528.4" stroke="#ebe61c"/><line x1="69.7" y1="528.4" x2="59.9" y2="537.4" stroke="#12a022"/><line x1="77.0" y1="526.4" x2="65.3" y2="532.4" stroke="#e41212"/><line x1="86.0" y1="524.1" x2="97.5" y2="531.4" stroke="#ebe61c"/><line x1="97.5" y1="531.4" x2="112.2" y2="537.4" stroke="#12a022"/><line x1="92.4" y1="528.1" x2="104.1" y2="534.1" stroke="#e41212"/><line x1="138.3" y1="497.5" x2="139.9" y2="511.0" stroke="#ebe61c"/><line x1="139.9" y1="511.0" x2="138.3" y2="524.1" stroke="#ebe61c"/><line x1="139.2" y1="504.9" x2="139.2" y2="516.9" stroke="#e41212"/><line x1="138.3" y1="524.1" x2="122.0" y2="528.4" stroke="#ebe61c"/><line x1="122.0" y1="528.4" x2="112.2" y2="537.4" stroke="#12a022"/><line x1="129.3" y1="526.4" x2="117.6" y2="532.4" stroke="#e41212"/><line x1="138.3" y1="524.1" x2="149.8" y2="531.4" stroke="#ebe61c"/><line x1="149.8" y1="531.4" x2="164.5" y2="537.4" stroke="#12a022"/><line x1="144.7" y1="528.1" x2="156.4" y2="534.1" stroke="#e41212"/><line x1="190.6" y1="497.5" x2="192.2" y2="511.0" stroke="#ebe61c"/><line x1="192.2" y1="511.0" x2="190.6" y2="524.1" stroke="#ebe61c"/><line x1="191.5" y1="504.9" x2="191.5" y2="516.9" stroke="#e41212"/><line x1="190.6" y1="524.1" x2="174.3" y2="528.4" stroke="#ebe61c"/><line x1="174.3" y1="528.4" x2="164.5" y2="537.4" stroke="#12a022"/><line x1="181.6" y1="526.4" x2="169.9" y2="532.4" stroke="#e41212"/><line x1="190.6" y1="524.1" x2="202.1" y2="531.4" stroke="#ebe61c"/><line x1="202.1" y1="531.4" x2="216.8" y2="537.4" stroke="#12a022"/><line x1="197.0" y1="528.1" x2="208.7" y2="534.1" stroke="#e41212"/><line x1="242.9" y1="497.5" x2="244.5" y2="511.0" stroke="#ebe61c"/><line x1="244.5" y1="511.0" x2="242.9" y2="524.1" stroke="#ebe61c"/><line x1="243.8" y1="504.9" x2="243.8" y2="516.9" stroke="#e41212"/><line x1="242.9" y1="524.1" x2="226.6" y2="528.4" stroke="#ebe61c"/><line x1="226.6" y1="528.4" x2="216.8" y2="537.4" stroke="#12a022"/><line x1="233.9" y1="526.4" x2="222.2" y2="532.4" stroke="#e41212"/><line x1="242.9" y1="524.1" x2="254.4" y2="531.4" stroke="#ebe61c"/><line x1="254.4" y1="531.4" x2="269.1" y2="537.4" stroke="#12a022"/><line x1="249.3" y1="528.1" x2="261.0" y2="534.1" stroke="#e41212"/><line x1="295.2" y1="497.5" x2="296.9" y2="511.0" stroke="#ebe61c"/><line x1="296.9" y1="511.0" x2="295.2" y2="524.1" stroke="#ebe61c"/><line x1="296.1" y1="504.9" x2="296.1" y2="516.9" stroke="#e41212"/><line x1="295.2" y1="524.1" x2="278.9" y2="528.4" stroke="#ebe61c"/><line x1="278.9" y1="528.4" x2="269.1" y2="537.4" stroke="#12a022"/><line x1="286.2" y1="526.4" x2="274.5" y2="532.4" stroke="#e41212"/><line x1="295.2" y1="524.1" x2="306.7" y2="531.4" stroke="#ebe61c"/><line x1="306.7" y1="531.4" x2="321.4" y2="537.4" stroke="#12a022"/><line x1="301.6" y1="528.1" x2="313.3" y2="534.1" stroke="#e41212"/><line x1="347.5" y1="497.5" x2="349.1" y2="511.0" stroke="#ebe61c"/><line x1="349.1" y1="511.0" x2="347.5" y2="524.1" stroke="#ebe61c"/><line x1="348.4" y1="504.9" x2="348.4" y2="516.9" stroke="#e41212"/><line x1="347.5" y1="524.1" x2="331.2" y2="528.4" stroke="#ebe61c"/><line x1="331.2" y1="528.4" x2="321.4" y2="537.4" stroke="#12a022"/><line x1="338.5" y1="526.4" x2="326.8" y2="532.4" stroke="#e41212"/><line x1="347.5" y1="524.1" x2="359.0" y2="531.4" stroke="#ebe61c"/><line x1="359.0" y1="531.4" x2="373.7" y2="537.4" stroke="#12a022"/><line x1="353.9" y1="528.1" x2="365.6" y2="534.1" stroke="#e41212"/><line x1="399.9" y1="497.5" x2="401.5" y2="511.0" stroke="#ebe61c"/><line x1="401.5" y1="511.0" x2="399.9" y2="524.1" stroke="#ebe61c"/><line x1="400.7" y1="504.9" x2="400.7" y2="516.9" stroke="#e41212"/><line x1="399.9" y1="524.1" x2="383.5" y2="528.4" stroke="#ebe61c"/><line x1="383.5" y1="528.4" x2="373.7" y2="537.4" stroke="#12a022"/><line x1="390.8" y1="526.4" x2="379.1" y2="532.4" stroke="#e41212"/><line x1="399.9" y1="524.1" x2="411.3" y2="531.4" stroke="#ebe61c"/><line x1="411.3" y1="531.4" x2="426.0" y2="537.4" stroke="#12a022"/><line x1="406.2" y1="528.1" x2="417.9" y2="534.1" stroke="#e41212"/><line x1="452.1" y1="497.5" x2="453.8" y2="511.0" stroke="#ebe61c"/><line x1="453.8" y1="511.0" x2="452.1" y2="524.1" stroke="#ebe61c"/><line x1="453.0" y1="504.9" x2="453.0" y2="516.9" stroke="#e41212"/><line x1="452.1" y1="524.1" x2="435.8" y2="528.4" stroke="#ebe61c"/><line x1="435.8" y1="528.4" x2="426.0" y2="537.4" stroke="#12a022"/><line x1="443.1" y1="526.4" x2="431.4" y2="532.4" stroke="#e41212"/><line x1="452.1" y1="524.1" x2="463.6" y2="531.4" stroke="#ebe61c"/><line x1="463.6" y1="531.4" x2="478.3" y2="537.4" stroke="#12a022"/><line x1="458.5" y1="528.1" x2="470.2" y2="534.1" stroke="#e41212"/><line x1="504.4" y1="497.5" x2="506.0" y2="511.0" stroke="#ebe61c"/><line x1="506.0" y1="511.0" x2="504.4" y2="524.1" stroke="#ebe61c"/><line x1="505.3" y1="504.9" x2="505.3" y2="516.9" stroke="#e41212"/><line x1="504.4" y1="524.1" x2="488.1" y2="528.4" stroke="#ebe61c"/><line x1="488.1" y1="528.4" x2="478.3" y2="537.4" stroke="#12a022"/><line x1="495.4" y1="526.4" x2="483.7" y2="532.4" stroke="#e41212"/><line x1="504.4" y1="524.1" x2="515.9" y2="531.4" stroke="#ebe61c"/><line x1="515.9" y1="531.4" x2="530.6" y2="537.4" stroke="#12a022"/><line x1="510.8" y1="528.1" x2="522.5" y2="534.1" stroke="#e41212"/><line x1="556.8" y1="497.5" x2="558.4" y2="511.0" stroke="#ebe61c"/><line x1="558.4" y1="511.0" x2="556.8" y2="524.1" stroke="#ebe61c"/><line x1="557.6" y1="504.9" x2="557.6" y2="516.9" stroke="#e41212"/><line x1="556.8" y1="524.1" x2="540.4" y2="528.4" stroke="#ebe61c"/><line x1="540.4" y1="528.4" x2="530.6" y2="537.4" stroke="#12a022"/><line x1="547.7" y1="526.4" x2="536.0" y2="532.4" stroke="#e41212"/><line x1="556.8" y1="524.1" x2="568.2" y2="531.4" stroke="#ebe61c"/><line x1="568.2" y1="531.4" x2="582.9" y2="537.4" stroke="#12a022"/><line x1="563.1" y1="528.1" x2="574.8" y2="534.1" stroke="#e41212"/></g>
<g fill="#e41212" stroke="#a00a0a" stroke-width="0.8"><circle cx="113.8" cy="70.5" r="3.4"/><circle cx="166.1" cy="70.5" r="3.4"/><circle cx="218.4" cy="70.5" r="3.4"/><circle cx="270.7" cy="70.5" r="3.4"/><circle cx="323.0" cy="70.5" r="3.4"/><circle cx="375.3" cy="70.5" r="3.4"/><circle cx="427.6" cy="70.5" r="3.4"/><circle cx="479.9" cy="70.5" r="3.4"/><circle cx="532.2" cy="70.5" r="3.4"/><circle cx="69.7" cy="47.8" r="3.4"/><circle cx="97.5" cy="50.8" r="3.4"/><circle cx="122.0" cy="47.8" r="3.4"/><circle cx="149.8" cy="50.8" r="3.4"/><circle cx="174.3" cy="47.8" r="3.4"/><circle cx="202.1" cy="50.8" r="3.4"/><circle cx="226.6" cy="47.8" r="3.4"/><circle cx="254.4" cy="50.8" r="3.4"/><circle cx="278.9" cy="47.8" r="3.4"/><circle cx="306.7" cy="50.8" r="3.4"/><circle cx="331.2" cy="47.8" r="3.4"/><circle cx="359.0" cy="50.8" r="3.4"/><circle cx="383.5" cy="47.8" r="3.4"/><circle cx="411.3" cy="50.8" r="3.4"/><circle cx="435.8" cy="47.8" r="3.4"/><circle cx="463.6" cy="50.8" r="3.4"/><circle cx="488.1" cy="47.8" r="3.4"/><circle cx="515.9" cy="50.8" r="3.4"/><circle cx="540.4" cy="47.8" r="3.4"/><circle cx="568.2" cy="50.8" r="3.4"/><circle cx="70.2" cy="92.0" r="3.4"/><circle cx="96.1" cy="87.6" r="3.4"/><circle cx="122.5" cy="92.0" r="3.4"/><circle cx="113.8" cy="150.6" r="3.4"/><circle cx="148.4" cy="87.6" r="3.4"/><circle cx="174.8" cy="92.0" r="3.4"/><circle cx="166.1" cy="150.6" r="3.4"/><circle cx="200.7" cy="87.6" r="3.4"/><circle cx="227.1" cy="92.0" r="3.4"/><circle cx="218.4" cy="150.6" r="3.4"/><circle cx="253.0" cy="87.6" r="3.4"/><circle cx="279.4" cy="92.0" r="3.4"/><circle cx="270.7" cy="150.6" r="3.4"/><circle cx="305.3" cy="87.6" r="3.4"/><circle cx="331.7" cy="92.0" r="3.4"/><circle cx="323.0" cy="150.6" r="3.4"/><circle cx="357.6" cy="87.6" r="3.4"/><circle cx="384.0" cy="92.0" r="3.4"/><circle cx="375.3" cy="150.6" r="3.4"/><circle cx="409.9" cy="87.6" r="3.4"/><circle cx="436.3" cy="92.0" r="3.4"/><circle cx="427.6" cy="150.6" r="3.4"/><circle cx="462.2" cy="87.6" r="3.4"/><circle cx="488.6" cy="92.0" r="3.4"/><circle cx="479.9" cy="150.6" r="3.4"/><circle cx="514.5" cy="87.6" r="3.4"/><circle cx="540.9" cy="92.0" r="3.4"/><circle cx="532.2" cy="150.6" r="3.4"/><circle cx="566.8" cy="87.6" r="3.4"/><circle cx="87.6" cy="110.5" r="3.4"/><circle cx="69.7" cy="127.8" r="3.4"/><circle cx="97.5" cy="130.8" r="3.4"/><circle cx="139.9" cy="110.5" r="3.4"/><circle cx="122.0" cy="127.8" r="3.4"/><circle cx="149.8" cy="130.8" r="3.4"/><circle cx="192.2" cy="110.5" r="3.4"/><circle cx="174.3" cy="127.8" r="3.4"/><circle cx="202.1" cy="130.8" r="3.4"/><circle cx="244.5" cy="110.5" r="3.4"/><circle cx="226.6" cy="127.8" r="3.4"/><circle cx="254.4" cy="130.8" r="3.4"/><circle cx="296.9" cy="110.5" r="3.4"/><circle cx="278.9" cy="127.8" r="3.4"/><circle cx="306.7" cy="130.8" r="3.4"/><circle cx="349.1" cy="110.5" r="3.4"/><circle cx="331.2" cy="127.8" r="3.4"/><circle cx="359.0" cy="130.8" r="3.4"/><circle cx="401.5" cy="110.5" r="3.4"/><circle cx="383.5" cy="127.8" r="3.4"/><circle cx="411.3" cy="130.8" r="3.4"/><circle cx="453.8" cy="110.5" r="3.4"/><circle cx="435.8" cy="127.8" r="3.4"/><circle cx="463.6" cy="130.8" r="3.4"/><circle cx="506.0" cy="110.5" r="3.4"/><circle cx="488.1" cy="127.8" r="3.4"/><circle cx="515.9" cy="130.8" r="3.4"/><circle cx="558.4" cy="110.5" r="3.4"/><circle cx="540.4" cy="127.8" r="3.4"/><circle cx="568.2" cy="130.8" r="3.4"/><circle cx="70.2" cy="172.2" r="3.4"/><circle cx="96.1" cy="167.8" r="3.4"/><circle cx="122.5" cy="172.2" r="3.4"/><circle cx="113.8" cy="230.6" r="3.4"/><circle cx="148.4" cy="167.8" r="3.4"/><circle cx="174.8" cy="172.2" r="3.4"/><circle cx="166.1" cy="230.6" r="3.4"/><circle cx="200.7" cy="167.8" r="3.4"/><circle cx="227.1" cy="172.2" r="3.4"/><circle cx="218.4" cy="230.6" r="3.4"/><circle cx="253.0" cy="167.8" r="3.4"/><circle cx="279.4" cy="172.2" r="3.4"/><circle cx="270.7" cy="230.6" r="3.4"/><circle cx="305.3" cy="167.8" r="3.4"/><circle cx="331.7" cy="172.2" r="3.4"/><circle cx="323.0" cy="230.6" r="3.4"/><circle cx="357.6" cy="167.8" r="3.4"/><circle cx="384.0" cy="172.2" r="3.4"/><circle cx="375.3" cy="230.6" r="3.4"/><circle cx="409.9" cy="167.8" r="3.4"/><circle cx="436.3" cy="172.2" r="3.4"/><circle cx="427.6" cy="230.6" r="3.4"/><circle cx="462.2" cy="167.8" r="3.4"/><circle cx="488.6" cy="172.2" r="3.4"/><circle cx="479.9" cy="230.6" r="3.4"/><circle cx="514.5" cy="167.8" r="3.4"/><circle cx="540.9" cy="172.2" r="3.4"/><circle cx="532.2" cy="230.6" r="3.4"/><circle cx="566.8" cy="167.8" r="3.4"/><circle cx="87.6" cy="190.6" r="3.4"/><circle cx="69.7" cy="208.0" r="3.4"/><circle cx="97.5" cy="211.0" r="3.4"/><circle cx="139.9" cy="190.6" r="3.4"/><circle cx="122.0" cy="208.0" r="3.4"/><circle cx="149.8" cy="211.0" r="3.4"/><circle cx="192.2" cy="190.6" r="3.4"/><circle cx="174.3" cy="208.0" r="3.4"/><circle cx="202.1" cy="211.0" r="3.4"/><circle cx="244.5" cy="190.6" r="3.4"/><circle cx="226.6" cy="208.0" r="3.4"/><circle cx="254.4" cy="211.0" r="3.4"/><circle cx="296.9" cy="190.6" r="3.4"/><circle cx="278.9" cy="208.0" r="3.4"/><circle cx="306.7" cy="211.0" r="3.4"/><circle cx="349.1" cy="190.6" r="3.4"/><circle cx="331.2" cy="208.0" r="3.4"/><circle cx="359.0" cy="211.0" r="3.4"/><circle cx="401.5" cy="190.6" r="3.4"/><circle cx="383.5" cy="208.0" r="3.4"/><circle cx="411.3" cy="211.0" r="3.4"/><circle cx="453.8" cy="190.6" r="3.4"/><circle cx="435.8" cy="208.0" r="3.4"/><circle cx="463.6" cy="211.0" r="3.4"/><circle cx="506.0" cy="190.6" r="3.4"/><circle cx="488.1" cy="208.0" r="3.4"/><circle cx="515.9" cy="211.0" r="3.4"/><circle cx="558.4" cy="190.6" r="3.4"/><circle cx="540.4" cy="208.0" r="3.4"/><circle cx="568.2" cy="211.0" r="3.4"/><circle cx="70.2" cy="252.2" r="3.4"/><circle cx="96.1" cy="247.8" r="3.4"/><circle cx="122.5" cy="252.2" r="3.4"/><circle cx="113.8" cy="310.7" r="3.4"/><circle cx="148.4" cy="247.8" r="3.4"/><circle cx="174.8" cy="252.2" r="3.4"/><circle cx="166.1" cy="310.7" r="3.4"/><circle cx="200.7" cy="247.8" r="3.4"/><circle cx="227.1" cy="252.2" r="3.4"/><circle cx="218.4" cy="310.7" r="3.4"/><circle cx="253.0" cy="247.8" r="3.4"/><circle cx="279.4" cy="252.2" r="3.4"/><circle cx="270.7" cy="310.7" r="3.4"/><circle cx="305.3" cy="247.8" r="3.4"/><circle cx="331.7" cy="252.2" r="3.4"/><circle cx="323.0" cy="310.7" r="3.4"/><circle cx="357.6" cy="247.8" r="3.4"/><circle cx="384.0" cy="252.2" r="3.4"/><circle cx="375.3" cy="310.7" r="3.4"/><circle cx="409.9" cy="247.8" r="3.4"/><circle cx="436.3" cy="252.2" r="3.4"/><circle cx="427.6" cy="310.7" r="3.4"/><circle cx="462.2" cy="247.8" r="3.4"/><circle cx="488.6" cy="252.2" r="3.4"/><circle cx="479.9" cy="310.7" r="3.4"/><circle cx="514.5" cy="247.8" r="3.4"/><circle cx="540.9" cy="252.2" r="3.4"/><circle cx="532.2" cy="310.7" r="3.4"/><circle cx="566.8" cy="247.8" r="3.4"/><circle cx="87.6" cy="270.7" r="3.4"/><circle cx="69.7" cy="288.0" r="3.4"/><circle cx="97.5" cy="291.0" r="3.4"/><circle cx="139.9" cy="270.7" r="3.4"/><circle cx="122.0" cy="288.0" r="3.4"/><circle cx="149.8" cy="291.0" r="3.4"/><circle cx="192.2" cy="270.7" r="3.4"/><circle cx="174.3" cy="288.0" r="3.4"/><circle cx="202.1" cy="291.0" r="3.4"/><circle cx="244.5" cy="270.7" r="3.4"/><circle cx="226.6" cy="288.0" r="3.4"/><circle cx="254.4" cy="291.0" r="3.4"/><circle cx="296.9" cy="270.7" r="3.4"/><circle cx="278.9" cy="288.0" r="3.4"/><circle cx="306.7" cy="291.0" r="3.4"/><circle cx="349.1" cy="270.7" r="3.4"/><circle cx="331.2" cy="288.0" r="3.4"/><circle cx="359.0" cy="291.0" r="3.4"/><circle cx="401.5" cy="270.7" r="3.4"/><circle cx="383.5" cy="288.0" r="3.4"/><circle cx="411.3" cy="291.0" r="3.4"/><circle cx="453.8" cy="270.7" r="3.4"/><circle cx="435.8" cy="288.0" r="3.4"/><circle cx="463.6" cy="291.0" r="3.4"/><circle cx="506.0" cy="270.7" r="3.4"/><circle cx="488.1" cy="288.0" r="3.4"/><circle cx="515.9" cy="291.0" r="3.4"/><circle cx="558.4" cy="270.7" r="3.4"/><circle cx="540.4" cy="288.0" r="3.4"/><circle cx="568.2" cy="291.0" r="3.4"/><circle cx="70.2" cy="332.3" r="3.4"/><circle cx="96.1" cy="327.9" r="3.4"/><circle cx="122.5" cy="332.3" r="3.4"/><circle cx="113.8" cy="390.8" r="3.4"/><circle cx="148.4" cy="327.9" r="3.4"/><circle cx="174.8" cy="332.3" r="3.4"/><circle cx="166.1" cy="390.8" r="3.4"/><circle cx="200.7" cy="327.9" r="3.4"/><circle cx="227.1" cy="332.3" r="3.4"/><circle cx="218.4" cy="390.8" r="3.4"/><circle cx="253.0" cy="327.9" r="3.4"/><circle cx="279.4" cy="332.3" r="3.4"/><circle cx="270.7" cy="390.8" r="3.4"/><circle cx="305.3" cy="327.9" r="3.4"/><circle cx="331.7" cy="332.3" r="3.4"/><circle cx="323.0" cy="390.8" r="3.4"/><circle cx="357.6" cy="327.9" r="3.4"/><circle cx="384.0" cy="332.3" r="3.4"/><circle cx="375.3" cy="390.8" r="3.4"/><circle cx="409.9" cy="327.9" r="3.4"/><circle cx="436.3" cy="332.3" r="3.4"/><circle cx="427.6" cy="390.8" r="3.4"/><circle cx="462.2" cy="327.9" r="3.4"/><circle cx="488.6" cy="332.3" r="3.4"/><circle cx="479.9" cy="390.8" r="3.4"/><circle cx="514.5" cy="327.9" r="3.4"/><circle cx="540.9" cy="332.3" r="3.4"/><circle cx="532.2" cy="390.8" r="3.4"/><circle cx="566.8" cy="327.9" r="3.4"/><circle cx="87.6" cy="350.8" r="3.4"/><circle cx="69.7" cy="368.1" r="3.4"/><circle cx="97.5" cy="371.1" r="3.4"/><circle cx="139.9" cy="350.8" r="3.4"/><circle cx="122.0" cy="368.1" r="3.4"/><circle cx="149.8" cy="371.1" r="3.4"/><circle cx="192.2" cy="350.8" r="3.4"/><circle cx="174.3" cy="368.1" r="3.4"/><circle cx="202.1" cy="371.1" r="3.4"/><circle cx="244.5" cy="350.8" r="3.4"/><circle cx="226.6" cy="368.1" r="3.4"/><circle cx="254.4" cy="371.1" r="3.4"/><circle cx="296.9" cy="350.8" r="3.4"/><circle cx="278.9" cy="368.1" r="3.4"/><circle cx="306.7" cy="371.1" r="3.4"/><circle cx="349.1" cy="350.8" r="3.4"/><circle cx="331.2" cy="368.1" r="3.4"/><circle cx="359.0" cy="371.1" r="3.4"/><circle cx="401.5" cy="350.8" r="3.4"/><circle cx="383.5" cy="368.1" r="3.4"/><circle cx="411.3" cy="371.1" r="3.4"/><circle cx="453.8" cy="350.8" r="3.4"/><circle cx="435.8" cy="368.1" r="3.4"/><circle cx="463.6" cy="371.1" r="3.4"/><circle cx="506.0" cy="350.8" r="3.4"/><circle cx="488.1" cy="368.1" r="3.4"/><circle cx="515.9" cy="371.1" r="3.4"/><circle cx="558.4" cy="350.8" r="3.4"/><circle cx="540.4" cy="368.1" r="3.4"/><circle cx="568.2" cy="371.1" r="3.4"/><circle cx="70.2" cy="412.4" r="3.4"/><circle cx="96.1" cy="408.1" r="3.4"/><circle cx="122.5" cy="412.4" r="3.4"/><circle cx="113.8" cy="470.9" r="3.4"/><circle cx="148.4" cy="408.1" r="3.4"/><circle cx="174.8" cy="412.4" r="3.4"/><circle cx="166.1" cy="470.9" r="3.4"/><circle cx="200.7" cy="408.1" r="3.4"/><circle cx="227.1" cy="412.4" r="3.4"/><circle cx="218.4" cy="470.9" r="3.4"/><circle cx="253.0" cy="408.1" r="3.4"/><circle cx="279.4" cy="412.4" r="3.4"/><circle cx="270.7" cy="470.9" r="3.4"/><circle cx="305.3" cy="408.1" r="3.4"/><circle cx="331.7" cy="412.4" r="3.4"/><circle cx="323.0" cy="470.9" r="3.4"/><circle cx="357.6" cy="408.1" r="3.4"/><circle cx="384.0" cy="412.4" r="3.4"/><circle cx="375.3" cy="470.9" r="3.4"/><circle cx="409.9" cy="408.1" r="3.4"/><circle cx="436.3" cy="412.4" r="3.4"/><circle cx="427.6" cy="470.9" r="3.4"/><circle cx="462.2" cy="408.1" r="3.4"/><circle cx="488.6" cy="412.4" r="3.4"/><circle cx="479.9" cy="470.9" r="3.4"/><circle cx="514.5" cy="408.1" r="3.4"/><circle cx="540.9" cy="412.4" r="3.4"/><circle cx="532.2" cy="470.9" r="3.4"/><circle cx="566.8" cy="408.1" r="3.4"/><circle cx="87.6" cy="430.9" r="3.4"/><circle cx="69.7" cy="448.2" r="3.4"/><circle cx="97.5" cy="451.2" r="3.4"/><circle cx="139.9" cy="430.9" r="3.4"/><circle cx="122.0" cy="448.2" r="3.4"/><circle cx="149.8" cy="451.2" r="3.4"/><circle cx="192.2" cy="430.9" r="3.4"/><circle cx="174.3" cy="448.2" r="3.4"/><circle cx="202.1" cy="451.2" r="3.4"/><circle cx="244.5" cy="430.9" r="3.4"/><circle cx="226.6" cy="448.2" r="3.4"/><circle cx="254.4" cy="451.2" r="3.4"/><circle cx="296.9" cy="430.9" r="3.4"/><circle cx="278.9" cy="448.2" r="3.4"/><circle cx="306.7" cy="451.2" r="3.4"/><circle cx="349.1" cy="430.9" r="3.4"/><circle cx="331.2" cy="448.2" r="3.4"/><circle cx="359.0" cy="451.2" r="3.4"/><circle cx="401.5" cy="430.9" r="3.4"/><circle cx="383.5" cy="448.2" r="3.4"/><circle cx="411.3" cy="451.2" r="3.4"/><circle cx="453.8" cy="430.9" r="3.4"/><circle cx="435.8" cy="448.2" r="3.4"/><circle cx="463.6" cy="451.2" r="3.4"/><circle cx="506.0" cy="430.9" r="3.4"/><circle cx="488.1" cy="448.2" r="3.4"/><circle cx="515.9" cy="451.2" r="3.4"/><circle cx="558.4" cy="430.9" r="3.4"/><circle cx="540.4" cy="448.2" r="3.4"/><circle cx="568.2" cy="451.2" r="3.4"/><circle cx="70.2" cy="492.6" r="3.4"/><circle cx="96.1" cy="488.2" r="3.4"/><circle cx="122.5" cy="492.6" r="3.4"/><circle cx="113.8" cy="551.0" r="3.4"/><circle cx="148.4" cy="488.2" r="3.4"/><circle cx="174.8" cy="492.6" r="3.4"/><circle cx="166.1" cy="551.0" r="3.4"/><circle cx="200.7" cy="488.2" r="3.4"/><circle cx="227.1" cy="492.6" r="3.4"/><circle cx="218.4" cy="551.0" r="3.4"/><circle cx="253.0" cy="488.2" r="3.4"/><circle cx="279.4" cy="492.6" r="3.4"/><circle cx="270.7" cy="551.0" r="3.4"/><circle cx="305.3" cy="488.2" r="3.4"/><circle cx="331.7" cy="492.6" r="3.4"/><circle cx="323.0" cy="551.0" r="3.4"/><circle cx="357.6" cy="488.2" r="3.4"/><circle cx="384.0" cy="492.6" r="3.4"/><circle cx="375.3" cy="551.0" r="3.4"/><circle cx="409.9" cy="488.2" r="3.4"/><circle cx="436.3" cy="492.6" r="3.4"/><circle cx="427.6" cy="551.0" r="3.4"/><circle cx="462.2" cy="488.2" r="3.4"/><circle cx="488.6" cy="492.6" r="3.4"/><circle cx="479.9" cy="551.0" r="3.4"/><circle cx="514.5" cy="488.2" r="3.4"/><circle cx="540.9" cy="492.6" r="3.4"/><circle cx="532.2" cy="551.0" r="3.4"/><circle cx="566.8" cy="488.2" r="3.4"/><circle cx="87.6" cy="511.0" r="3.4"/><circle cx="69.7" cy="528.4" r="3.4"/><circle cx="97.5" cy="531.4" r="3.4"/><circle cx="139.9" cy="511.0" r="3.4"/><circle cx="122.0" cy="528.4" r="3.4"/><circle cx="149.8" cy="531.4" r="3.4"/><circle cx="192.2" cy="511.0" r="3.4"/><circle cx="174.3" cy="528.4" r="3.4"/><circle cx="202.1" cy="531.4" r="3.4"/><circle cx="244.5" cy="511.0" r="3.4"/><circle cx="226.6" cy="528.4" r="3.4"/><circle cx="254.4" cy="531.4" r="3.4"/><circle cx="296.9" cy="511.0" r="3.4"/><circle cx="278.9" cy="528.4" r="3.4"/><circle cx="306.7" cy="531.4" r="3.4"/><circle cx="349.1" cy="511.0" r="3.4"/><circle cx="331.2" cy="528.4" r="3.4"/><circle cx="359.0" cy="531.4" r="3.4"/><circle cx="401.5" cy="511.0" r="3.4"/><circle cx="383.5" cy="528.4" r="3.4"/><circle cx="411.3" cy="531.4" r="3.4"/><circle cx="453.8" cy="511.0" r="3.4"/><circle cx="435.8" cy="528.4" r="3.4"/><circle cx="463.6" cy="531.4" r="3.4"/><circle cx="506.0" cy="511.0" r="3.4"/><circle cx="488.1" cy="528.4" r="3.4"/><circle cx="515.9" cy="531.4" r="3.4"/><circle cx="558.4" cy="511.0" r="3.4"/><circle cx="540.4" cy="528.4" r="3.4"/><circle cx="568.2" cy="531.4" r="3.4"/></g>
<circle cx="112.2" cy="56.8" r="3.5" fill="#12a022" stroke="#0a6a12" stroke-width="0.8"/><circle cx="164.5" cy="56.8" r="3.5" fill="#12a022" stroke="#0a6a12" stroke-width="0.8"/><circle cx="216.8" cy="56.8" r="3.5" fill="#12a022" stroke="#0a6a12" stroke-width="0.8"/><circle cx="269.1" cy="56.8" r="3.5" fill="#12a022" stroke="#0a6a12" stroke-width="0.8"/><circle cx="321.4" cy="56.8" r="3.5" fill="#12a022" stroke="#0a6a12" stroke-width="0.8"/><circle cx="373.7" cy="56.8" r="3.5" fill="#12a022" stroke="#0a6a12" stroke-width="0.8"/><circle cx="426.0" cy="56.8" r="3.5" fill="#12a022" stroke="#0a6a12" stroke-width="0.8"/><circle cx="478.3" cy="56.8" r="3.5" fill="#12a022" stroke="#0a6a12" stroke-width="0.8"/><circle cx="530.6" cy="56.8" r="3.5" fill="#12a022" stroke="#0a6a12" stroke-width="0.8"/><circle cx="112.2" cy="83.7" r="3.5" fill="#ebe61c" stroke="#a09a10" stroke-width="0.8"/><circle cx="112.2" cy="136.9" r="3.5" fill="#12a022" stroke="#0a6a12" stroke-width="0.8"/><circle cx="164.5" cy="83.7" r="3.5" fill="#ebe61c" stroke="#a09a10" stroke-width="0.8"/><circle cx="164.5" cy="136.9" r="3.5" fill="#12a022" stroke="#0a6a12" stroke-width="0.8"/><circle cx="216.8" cy="83.7" r="3.5" fill="#ebe61c" stroke="#a09a10" stroke-width="0.8"/><circle cx="216.8" cy="136.9" r="3.5" fill="#12a022" stroke="#0a6a12" stroke-width="0.8"/><circle cx="269.1" cy="83.7" r="3.5" fill="#ebe61c" stroke="#a09a10" stroke-width="0.8"/><circle cx="269.1" cy="136.9" r="3.5" fill="#12a022" stroke="#0a6a12" stroke-width="0.8"/><circle cx="321.4" cy="83.7" r="3.5" fill="#ebe61c" stroke="#a09a10" stroke-width="0.8"/><circle cx="321.4" cy="136.9" r="3.5" fill="#12a022" stroke="#0a6a12" stroke-width="0.8"/><circle cx="373.7" cy="83.7" r="3.5" fill="#ebe61c" stroke="#a09a10" stroke-width="0.8"/><circle cx="373.7" cy="136.9" r="3.5" fill="#12a022" stroke="#0a6a12" stroke-width="0.8"/><circle cx="426.0" cy="83.7" r="3.5" fill="#ebe61c" stroke="#a09a10" stroke-width="0.8"/><circle cx="426.0" cy="136.9" r="3.5" fill="#12a022" stroke="#0a6a12" stroke-width="0.8"/><circle cx="478.3" cy="83.7" r="3.5" fill="#ebe61c" stroke="#a09a10" stroke-width="0.8"/><circle cx="478.3" cy="136.9" r="3.5" fill="#12a022" stroke="#0a6a12" stroke-width="0.8"/><circle cx="530.6" cy="83.7" r="3.5" fill="#ebe61c" stroke="#a09a10" stroke-width="0.8"/><circle cx="530.6" cy="136.9" r="3.5" fill="#12a022" stroke="#0a6a12" stroke-width="0.8"/><circle cx="86.0" cy="97.0" r="3.5" fill="#ebe61c" stroke="#a09a10" stroke-width="0.8"/><circle cx="86.0" cy="123.6" r="3.5" fill="#ebe61c" stroke="#a09a10" stroke-width="0.8"/><circle cx="138.3" cy="97.0" r="3.5" fill="#ebe61c" stroke="#a09a10" stroke-width="0.8"/><circle cx="138.3" cy="123.6" r="3.5" fill="#ebe61c" stroke="#a09a10" stroke-width="0.8"/><circle cx="190.6" cy="97.0" r="3.5" fill="#ebe61c" stroke="#a09a10" stroke-width="0.8"/><circle cx="190.6" cy="123.6" r="3.5" fill="#ebe61c" stroke="#a09a10" stroke-width="0.8"/><circle cx="242.9" cy="97.0" r="3.5" fill="#ebe61c" stroke="#a09a10" stroke-width="0.8"/><circle cx="242.9" cy="123.6" r="3.5" fill="#ebe61c" stroke="#a09a10" stroke-width="0.8"/><circle cx="295.2" cy="97.0" r="3.5" fill="#ebe61c" stroke="#a09a10" stroke-width="0.8"/><circle cx="295.2" cy="123.6" r="3.5" fill="#ebe61c" stroke="#a09a10" stroke-width="0.8"/><circle cx="347.5" cy="97.0" r="3.5" fill="#ebe61c" stroke="#a09a10" stroke-width="0.8"/><circle cx="347.5" cy="123.6" r="3.5" fill="#ebe61c" stroke="#a09a10" stroke-width="0.8"/><circle cx="399.9" cy="97.0" r="3.5" fill="#ebe61c" stroke="#a09a10" stroke-width="0.8"/><circle cx="399.9" cy="123.6" r="3.5" fill="#ebe61c" stroke="#a09a10" stroke-width="0.8"/><circle cx="452.1" cy="97.0" r="3.5" fill="#ebe61c" stroke="#a09a10" stroke-width="0.8"/><circle cx="452.1" cy="123.6" r="3.5" fill="#ebe61c" stroke="#a09a10" stroke-width="0.8"/><circle cx="504.4" cy="97.0" r="3.5" fill="#ebe61c" stroke="#a09a10" stroke-width="0.8"/><circle cx="504.4" cy="123.6" r="3.5" fill="#ebe61c" stroke="#a09a10" stroke-width="0.8"/><circle cx="556.8" cy="97.0" r="3.5" fill="#ebe61c" stroke="#a09a10" stroke-width="0.8"/><circle cx="556.8" cy="123.6" r="3.5" fill="#ebe61c" stroke="#a09a10" stroke-width="0.8"/><circle cx="112.2" cy="163.8" r="3.5" fill="#ebe61c" stroke="#a09a10" stroke-width="0.8"/><circle cx="112.2" cy="217.0" r="3.5" fill="#12a022" stroke="#0a6a12" stroke-width="0.8"/><circle cx="164.5" cy="163.8" r="3.5" fill="#ebe61c" stroke="#a09a10" stroke-width="0.8"/><circle cx="164.5" cy="217.0" r="3.5" fill="#12a022" stroke="#0a6a12" stroke-width="0.8"/><circle cx="216.8" cy="163.8" r="3.5" fill="#ebe61c" stroke="#a09a10" stroke-width="0.8"/><circle cx="216.8" cy="217.0" r="3.5" fill="#12a022" stroke="#0a6a12" stroke-width="0.8"/><circle cx="269.1" cy="163.8" r="3.5" fill="#ebe61c" stroke="#a09a10" stroke-width="0.8"/><circle cx="269.1" cy="217.0" r="3.5" fill="#12a022" stroke="#0a6a12" stroke-width="0.8"/><circle cx="321.4" cy="163.8" r="3.5" fill="#ebe61c" stroke="#a09a10" stroke-width="0.8"/><circle cx="321.4" cy="217.0" r="3.5" fill="#12a022" stroke="#0a6a12" stroke-width="0.8"/><circle cx="373.7" cy="163.8" r="3.5" fill="#ebe61c" stroke="#a09a10" stroke-width="0.8"/><circle cx="373.7" cy="217.0" r="3.5" fill="#12a022" stroke="#0a6a12" stroke-width="0.8"/><circle cx="426.0" cy="163.8" r="3.5" fill="#ebe61c" stroke="#a09a10" stroke-width="0.8"/><circle cx="426.0" cy="217.0" r="3.5" fill="#12a022" stroke="#0a6a12" stroke-width="0.8"/><circle cx="478.3" cy="163.8" r="3.5" fill="#ebe61c" stroke="#a09a10" stroke-width="0.8"/><circle cx="478.3" cy="217.0" r="3.5" fill="#12a022" stroke="#0a6a12" stroke-width="0.8"/><circle cx="530.6" cy="163.8" r="3.5" fill="#ebe61c" stroke="#a09a10" stroke-width="0.8"/><circle cx="530.6" cy="217.0" r="3.5" fill="#12a022" stroke="#0a6a12" stroke-width="0.8"/><circle cx="86.0" cy="177.1" r="3.5" fill="#ebe61c" stroke="#a09a10" stroke-width="0.8"/><circle cx="86.0" cy="203.7" r="3.5" fill="#ebe61c" stroke="#a09a10" stroke-width="0.8"/><circle cx="138.3" cy="177.1" r="3.5" fill="#ebe61c" stroke="#a09a10" stroke-width="0.8"/><circle cx="138.3" cy="203.7" r="3.5" fill="#ebe61c" stroke="#a09a10" stroke-width="0.8"/><circle cx="190.6" cy="177.1" r="3.5" fill="#ebe61c" stroke="#a09a10" stroke-width="0.8"/><circle cx="190.6" cy="203.7" r="3.5" fill="#ebe61c" stroke="#a09a10" stroke-width="0.8"/><circle cx="242.9" cy="177.1" r="3.5" fill="#ebe61c" stroke="#a09a10" stroke-width="0.8"/><circle cx="242.9" cy="203.7" r="3.5" fill="#ebe61c" stroke="#a09a10" stroke-width="0.8"/><circle cx="295.2" cy="177.1" r="3.5" fill="#ebe61c" stroke="#a09a10" stroke-width="0.8"/><circle cx="295.2" cy="203.7" r="3.5" fill="#ebe61c" stroke="#a09a10" stroke-width="0.8"/><circle cx="347.5" cy="177.1" r="3.5" fill="#ebe61c" stroke="#a09a10" stroke-width="0.8"/><circle cx="347.5" cy="203.7" r="3.5" fill="#ebe61c" stroke="#a09a10" stroke-width="0.8"/><circle cx="399.9" cy="177.1" r="3.5" fill="#ebe61c" stroke="#a09a10" stroke-width="0.8"/><circle cx="399.9" cy="203.7" r="3.5" fill="#ebe61c" stroke="#a09a10" stroke-width="0.8"/><circle cx="452.1" cy="177.1" r="3.5" fill="#ebe61c" stroke="#a09a10" stroke-width="0.8"/><circle cx="452.1" cy="203.7" r="3.5" fill="#ebe61c" stroke="#a09a10" stroke-width="0.8"/><circle cx="504.4" cy="177.1" r="3.5" fill="#ebe61c" stroke="#a09a10" stroke-width="0.8"/><circle cx="504.4" cy="203.7" r="3.5" fill="#ebe61c" stroke="#a09a10" stroke-width="0.8"/><circle cx="556.8" cy="177.1" r="3.5" fill="#ebe61c" stroke="#a09a10" stroke-width="0.8"/><circle cx="556.8" cy="203.7" r="3.5" fill="#ebe61c" stroke="#a09a10" stroke-width="0.8"/><circle cx="112.2" cy="243.9" r="3.5" fill="#ebe61c" stroke="#a09a10" stroke-width="0.8"/><circle cx="112.2" cy="297.1" r="3.5" fill="#12a022" stroke="#0a6a12" stroke-width="0.8"/><circle cx="164.5" cy="243.9" r="3.5" fill="#ebe61c" stroke="#a09a10" stroke-width="0.8"/><circle cx="164.5" cy="297.1" r="3.5" fill="#12a022" stroke="#0a6a12" stroke-width="0.8"/><circle cx="216.8" cy="243.9" r="3.5" fill="#ebe61c" stroke="#a09a10" stroke-width="0.8"/><circle cx="216.8" cy="297.1" r="3.5" fill="#12a022" stroke="#0a6a12" stroke-width="0.8"/><circle cx="269.1" cy="243.9" r="3.5" fill="#ebe61c" stroke="#a09a10" stroke-width="0.8"/><circle cx="269.1" cy="297.1" r="3.5" fill="#12a022" stroke="#0a6a12" stroke-width="0.8"/><circle cx="321.4" cy="243.9" r="3.5" fill="#ebe61c" stroke="#a09a10" stroke-width="0.8"/><circle cx="321.4" cy="297.1" r="3.5" fill="#12a022" stroke="#0a6a12" stroke-width="0.8"/><circle cx="373.7" cy="243.9" r="3.5" fill="#ebe61c" stroke="#a09a10" stroke-width="0.8"/><circle cx="373.7" cy="297.1" r="3.5" fill="#12a022" stroke="#0a6a12" stroke-width="0.8"/><circle cx="426.0" cy="243.9" r="3.5" fill="#ebe61c" stroke="#a09a10" stroke-width="0.8"/><circle cx="426.0" cy="297.1" r="3.5" fill="#12a022" stroke="#0a6a12" stroke-width="0.8"/><circle cx="478.3" cy="243.9" r="3.5" fill="#ebe61c" stroke="#a09a10" stroke-width="0.8"/><circle cx="478.3" cy="297.1" r="3.5" fill="#12a022" stroke="#0a6a12" stroke-width="0.8"/><circle cx="530.6" cy="243.9" r="3.5" fill="#ebe61c" stroke="#a09a10" stroke-width="0.8"/><circle cx="530.6" cy="297.1" r="3.5" fill="#12a022" stroke="#0a6a12" stroke-width="0.8"/><circle cx="86.0" cy="257.2" r="3.5" fill="#ebe61c" stroke="#a09a10" stroke-width="0.8"/><circle cx="86.0" cy="283.8" r="3.5" fill="#ebe61c" stroke="#a09a10" stroke-width="0.8"/><circle cx="138.3" cy="257.2" r="3.5" fill="#ebe61c" stroke="#a09a10" stroke-width="0.8"/><circle cx="138.3" cy="283.8" r="3.5" fill="#ebe61c" stroke="#a09a10" stroke-width="0.8"/><circle cx="190.6" cy="257.2" r="3.5" fill="#ebe61c" stroke="#a09a10" stroke-width="0.8"/><circle cx="190.6" cy="283.8" r="3.5" fill="#ebe61c" stroke="#a09a10" stroke-width="0.8"/><circle cx="242.9" cy="257.2" r="3.5" fill="#ebe61c" stroke="#a09a10" stroke-width="0.8"/><circle cx="242.9" cy="283.8" r="3.5" fill="#ebe61c" stroke="#a09a10" stroke-width="0.8"/><circle cx="295.2" cy="257.2" r="3.5" fill="#ebe61c" stroke="#a09a10" stroke-width="0.8"/><circle cx="295.2" cy="283.8" r="3.5" fill="#ebe61c" stroke="#a09a10" stroke-width="0.8"/><circle cx="347.5" cy="257.2" r="3.5" fill="#ebe61c" stroke="#a09a10" stroke-width="0.8"/><circle cx="347.5" cy="283.8" r="3.5" fill="#ebe61c" stroke="#a09a10" stroke-width="0.8"/><circle cx="399.9" cy="257.2" r="3.5" fill="#ebe61c" stroke="#a09a10" stroke-width="0.8"/><circle cx="399.9" cy="283.8" r="3.5" fill="#ebe61c" stroke="#a09a10" stroke-width="0.8"/><circle cx="452.1" cy="257.2" r="3.5" fill="#ebe61c" stroke="#a09a10" stroke-width="0.8"/><circle cx="452.1" cy="283.8" r="3.5" fill="#ebe61c" stroke="#a09a10" stroke-width="0.8"/><circle cx="504.4" cy="257.2" r="3.5" fill="#ebe61c" stroke="#a09a10" stroke-width="0.8"/><circle cx="504.4" cy="283.8" r="3.5" fill="#ebe61c" stroke="#a09a10" stroke-width="0.8"/><circle cx="556.8" cy="257.2" r="3.5" fill="#ebe61c" stroke="#a09a10" stroke-width="0.8"/><circle cx="556.8" cy="283.8" r="3.5" fill="#ebe61c" stroke="#a09a10" stroke-width="0.8"/><circle cx="112.2" cy="324.0" r="3.5" fill="#ebe61c" stroke="#a09a10" stroke-width="0.8"/><circle cx="112.2" cy="377.2" r="3.5" fill="#12a022" stroke="#0a6a12" stroke-width="0.8"/><circle cx="164.5" cy="324.0" r="3.5" fill="#ebe61c" stroke="#a09a10" stroke-width="0.8"/><circle cx="164.5" cy="377.2" r="3.5" fill="#12a022" stroke="#0a6a12" stroke-width="0.8"/><circle cx="216.8" cy="324.0" r="3.5" fill="#ebe61c" stroke="#a09a10" stroke-width="0.8"/><circle cx="216.8" cy="377.2" r="3.5" fill="#12a022" stroke="#0a6a12" stroke-width="0.8"/><circle cx="269.1" cy="324.0" r="3.5" fill="#ebe61c" stroke="#a09a10" stroke-width="0.8"/><circle cx="269.1" cy="377.2" r="3.5" fill="#12a022" stroke="#0a6a12" stroke-width="0.8"/><circle cx="321.4" cy="324.0" r="3.5" fill="#ebe61c" stroke="#a09a10" stroke-width="0.8"/><circle cx="321.4" cy="377.2" r="3.5" fill="#12a022" stroke="#0a6a12" stroke-width="0.8"/><circle cx="373.7" cy="324.0" r="3.5" fill="#ebe61c" stroke="#a09a10" stroke-width="0.8"/><circle cx="373.7" cy="377.2" r="3.5" fill="#12a022" stroke="#0a6a12" stroke-width="0.8"/><circle cx="426.0" cy="324.0" r="3.5" fill="#ebe61c" stroke="#a09a10" stroke-width="0.8"/><circle cx="426.0" cy="377.2" r="3.5" fill="#12a022" stroke="#0a6a12" stroke-width="0.8"/><circle cx="478.3" cy="324.0" r="3.5" fill="#ebe61c" stroke="#a09a10" stroke-width="0.8"/><circle cx="478.3" cy="377.2" r="3.5" fill="#12a022" stroke="#0a6a12" stroke-width="0.8"/><circle cx="530.6" cy="324.0" r="3.5" fill="#ebe61c" stroke="#a09a10" stroke-width="0.8"/><circle cx="530.6" cy="377.2" r="3.5" fill="#12a022" stroke="#0a6a12" stroke-width="0.8"/><circle cx="86.0" cy="337.3" r="3.5" fill="#ebe61c" stroke="#a09a10" stroke-width="0.8"/><circle cx="86.0" cy="363.9" r="3.5" fill="#ebe61c" stroke="#a09a10" stroke-width="0.8"/><circle cx="138.3" cy="337.3" r="3.5" fill="#ebe61c" stroke="#a09a10" stroke-width="0.8"/><circle cx="138.3" cy="363.9" r="3.5" fill="#ebe61c" stroke="#a09a10" stroke-width="0.8"/><circle cx="190.6" cy="337.3" r="3.5" fill="#ebe61c" stroke="#a09a10" stroke-width="0.8"/><circle cx="190.6" cy="363.9" r="3.5" fill="#ebe61c" stroke="#a09a10" stroke-width="0.8"/><circle cx="242.9" cy="337.3" r="3.5" fill="#ebe61c" stroke="#a09a10" stroke-width="0.8"/><circle cx="242.9" cy="363.9" r="3.5" fill="#ebe61c" stroke="#a09a10" stroke-width="0.8"/><circle cx="295.2" cy="337.3" r="3.5" fill="#ebe61c" stroke="#a09a10" stroke-width="0.8"/><circle cx="295.2" cy="363.9" r="3.5" fill="#ebe61c" stroke="#a09a10" stroke-width="0.8"/><circle cx="347.5" cy="337.3" r="3.5" fill="#ebe61c" stroke="#a09a10" stroke-width="0.8"/><circle cx="347.5" cy="363.9" r="3.5" fill="#ebe61c" stroke="#a09a10" stroke-width="0.8"/><circle cx="399.9" cy="337.3" r="3.5" fill="#ebe61c" stroke="#a09a10" stroke-width="0.8"/><circle cx="399.9" cy="363.9" r="3.5" fill="#ebe61c" stroke="#a09a10" stroke-width="0.8"/><circle cx="452.1" cy="337.3" r="3.5" fill="#ebe61c" stroke="#a09a10" stroke-width="0.8"/><circle cx="452.1" cy="363.9" r="3.5" fill="#ebe61c" stroke="#a09a10" stroke-width="0.8"/><circle cx="504.4" cy="337.3" r="3.5" fill="#ebe61c" stroke="#a09a10" stroke-width="0.8"/><circle cx="504.4" cy="363.9" r="3.5" fill="#ebe61c" stroke="#a09a10" stroke-width="0.8"/><circle cx="556.8" cy="337.3" r="3.5" fill="#ebe61c" stroke="#a09a10" stroke-width="0.8"/><circle cx="556.8" cy="363.9" r="3.5" fill="#ebe61c" stroke="#a09a10" stroke-width="0.8"/><circle cx="112.2" cy="404.1" r="3.5" fill="#ebe61c" stroke="#a09a10" stroke-width="0.8"/><circle cx="112.2" cy="457.3" r="3.5" fill="#12a022" stroke="#0a6a12" stroke-width="0.8"/><circle cx="164.5" cy="404.1" r="3.5" fill="#ebe61c" stroke="#a09a10" stroke-width="0.8"/><circle cx="164.5" cy="457.3" r="3.5" fill="#12a022" stroke="#0a6a12" stroke-width="0.8"/><circle cx="216.8" cy="404.1" r="3.5" fill="#ebe61c" stroke="#a09a10" stroke-width="0.8"/><circle cx="216.8" cy="457.3" r="3.5" fill="#12a022" stroke="#0a6a12" stroke-width="0.8"/><circle cx="269.1" cy="404.1" r="3.5" fill="#ebe61c" stroke="#a09a10" stroke-width="0.8"/><circle cx="269.1" cy="457.3" r="3.5" fill="#12a022" stroke="#0a6a12" stroke-width="0.8"/><circle cx="321.4" cy="404.1" r="3.5" fill="#ebe61c" stroke="#a09a10" stroke-width="0.8"/><circle cx="321.4" cy="457.3" r="3.5" fill="#12a022" stroke="#0a6a12" stroke-width="0.8"/><circle cx="373.7" cy="404.1" r="3.5" fill="#ebe61c" stroke="#a09a10" stroke-width="0.8"/><circle cx="373.7" cy="457.3" r="3.5" fill="#12a022" stroke="#0a6a12" stroke-width="0.8"/><circle cx="426.0" cy="404.1" r="3.5" fill="#ebe61c" stroke="#a09a10" stroke-width="0.8"/><circle cx="426.0" cy="457.3" r="3.5" fill="#12a022" stroke="#0a6a12" stroke-width="0.8"/><circle cx="478.3" cy="404.1" r="3.5" fill="#ebe61c" stroke="#a09a10" stroke-width="0.8"/><circle cx="478.3" cy="457.3" r="3.5" fill="#12a022" stroke="#0a6a12" stroke-width="0.8"/><circle cx="530.6" cy="404.1" r="3.5" fill="#ebe61c" stroke="#a09a10" stroke-width="0.8"/><circle cx="530.6" cy="457.3" r="3.5" fill="#12a022" stroke="#0a6a12" stroke-width="0.8"/><circle cx="86.0" cy="417.4" r="3.5" fill="#ebe61c" stroke="#a09a10" stroke-width="0.8"/><circle cx="86.0" cy="444.0" r="3.5" fill="#ebe61c" stroke="#a09a10" stroke-width="0.8"/><circle cx="138.3" cy="417.4" r="3.5" fill="#ebe61c" stroke="#a09a10" stroke-width="0.8"/><circle cx="138.3" cy="444.0" r="3.5" fill="#ebe61c" stroke="#a09a10" stroke-width="0.8"/><circle cx="190.6" cy="417.4" r="3.5" fill="#ebe61c" stroke="#a09a10" stroke-width="0.8"/><circle cx="190.6" cy="444.0" r="3.5" fill="#ebe61c" stroke="#a09a10" stroke-width="0.8"/><circle cx="242.9" cy="417.4" r="3.5" fill="#ebe61c" stroke="#a09a10" stroke-width="0.8"/><circle cx="242.9" cy="444.0" r="3.5" fill="#ebe61c" stroke="#a09a10" stroke-width="0.8"/><circle cx="295.2" cy="417.4" r="3.5" fill="#ebe61c" stroke="#a09a10" stroke-width="0.8"/><circle cx="295.2" cy="444.0" r="3.5" fill="#ebe61c" stroke="#a09a10" stroke-width="0.8"/><circle cx="347.5" cy="417.4" r="3.5" fill="#ebe61c" stroke="#a09a10" stroke-width="0.8"/><circle cx="347.5" cy="444.0" r="3.5" fill="#ebe61c" stroke="#a09a10" stroke-width="0.8"/><circle cx="399.9" cy="417.4" r="3.5" fill="#ebe61c" stroke="#a09a10" stroke-width="0.8"/><circle cx="399.9" cy="444.0" r="3.5" fill="#ebe61c" stroke="#a09a10" stroke-width="0.8"/><circle cx="452.1" cy="417.4" r="3.5" fill="#ebe61c" stroke="#a09a10" stroke-width="0.8"/><circle cx="452.1" cy="444.0" r="3.5" fill="#ebe61c" stroke="#a09a10" stroke-width="0.8"/><circle cx="504.4" cy="417.4" r="3.5" fill="#ebe61c" stroke="#a09a10" stroke-width="0.8"/><circle cx="504.4" cy="444.0" r="3.5" fill="#ebe61c" stroke="#a09a10" stroke-width="0.8"/><circle cx="556.8" cy="417.4" r="3.5" fill="#ebe61c" stroke="#a09a10" stroke-width="0.8"/><circle cx="556.8" cy="444.0" r="3.5" fill="#ebe61c" stroke="#a09a10" stroke-width="0.8"/><circle cx="112.2" cy="484.2" r="3.5" fill="#ebe61c" stroke="#a09a10" stroke-width="0.8"/><circle cx="112.2" cy="537.4" r="3.5" fill="#12a022" stroke="#0a6a12" stroke-width="0.8"/><circle cx="164.5" cy="484.2" r="3.5" fill="#ebe61c" stroke="#a09a10" stroke-width="0.8"/><circle cx="164.5" cy="537.4" r="3.5" fill="#12a022" stroke="#0a6a12" stroke-width="0.8"/><circle cx="216.8" cy="484.2" r="3.5" fill="#ebe61c" stroke="#a09a10" stroke-width="0.8"/><circle cx="216.8" cy="537.4" r="3.5" fill="#12a022" stroke="#0a6a12" stroke-width="0.8"/><circle cx="269.1" cy="484.2" r="3.5" fill="#ebe61c" stroke="#a09a10" stroke-width="0.8"/><circle cx="269.1" cy="537.4" r="3.5" fill="#12a022" stroke="#0a6a12" stroke-width="0.8"/><circle cx="321.4" cy="484.2" r="3.5" fill="#ebe61c" stroke="#a09a10" stroke-width="0.8"/><circle cx="321.4" cy="537.4" r="3.5" fill="#12a022" stroke="#0a6a12" stroke-width="0.8"/><circle cx="373.7" cy="484.2" r="3.5" fill="#ebe61c" stroke="#a09a10" stroke-width="0.8"/><circle cx="373.7" cy="537.4" r="3.5" fill="#12a022" stroke="#0a6a12" stroke-width="0.8"/><circle cx="426.0" cy="484.2" r="3.5" fill="#ebe61c" stroke="#a09a10" stroke-width="0.8"/><circle cx="426.0" cy="537.4" r="3.5" fill="#12a022" stroke="#0a6a12" stroke-width="0.8"/><circle cx="478.3" cy="484.2" r="3.5" fill="#ebe61c" stroke="#a09a10" stroke-width="0.8"/><circle cx="478.3" cy="537.4" r="3.5" fill="#12a022" stroke="#0a6a12" stroke-width="0.8"/><circle cx="530.6" cy="484.2" r="3.5" fill="#ebe61c" stroke="#a09a10" stroke-width="0.8"/><circle cx="530.6" cy="537.4" r="3.5" fill="#12a022" stroke="#0a6a12" stroke-width="0.8"/><circle cx="86.0" cy="497.5" r="3.5" fill="#ebe61c" stroke="#a09a10" stroke-width="0.8"/><circle cx="86.0" cy="524.1" r="3.5" fill="#ebe61c" stroke="#a09a10" stroke-width="0.8"/><circle cx="138.3" cy="497.5" r="3.5" fill="#ebe61c" stroke="#a09a10" stroke-width="0.8"/><circle cx="138.3" cy="524.1" r="3.5" fill="#ebe61c" stroke="#a09a10" stroke-width="0.8"/><circle cx="190.6" cy="497.5" r="3.5" fill="#ebe61c" stroke="#a09a10" stroke-width="0.8"/><circle cx="190.6" cy="524.1" r="3.5" fill="#ebe61c" stroke="#a09a10" stroke-width="0.8"/><circle cx="242.9" cy="497.5" r="3.5" fill="#ebe61c" stroke="#a09a10" stroke-width="0.8"/><circle cx="242.9" cy="524.1" r="3.5" fill="#ebe61c" stroke="#a09a10" stroke-width="0.8"/><circle cx="295.2" cy="497.5" r="3.5" fill="#ebe61c" stroke="#a09a10" stroke-width="0.8"/><circle cx="295.2" cy="524.1" r="3.5" fill="#ebe61c" stroke="#a09a10" stroke-width="0.8"/><circle cx="347.5" cy="497.5" r="3.5" fill="#ebe61c" stroke="#a09a10" stroke-width="0.8"/><circle cx="347.5" cy="524.1" r="3.5" fill="#ebe61c" stroke="#a09a10" stroke-width="0.8"/><circle cx="399.9" cy="497.5" r="3.5" fill="#ebe61c" stroke="#a09a10" stroke-width="0.8"/><circle cx="399.9" cy="524.1" r="3.5" fill="#ebe61c" stroke="#a09a10" stroke-width="0.8"/><circle cx="452.1" cy="497.5" r="3.5" fill="#ebe61c" stroke="#a09a10" stroke-width="0.8"/><circle cx="452.1" cy="524.1" r="3.5" fill="#ebe61c" stroke="#a09a10" stroke-width="0.8"/><circle cx="504.4" cy="497.5" r="3.5" fill="#ebe61c" stroke="#a09a10" stroke-width="0.8"/><circle cx="504.4" cy="524.1" r="3.5" fill="#ebe61c" stroke="#a09a10" stroke-width="0.8"/><circle cx="556.8" cy="497.5" r="3.5" fill="#ebe61c" stroke="#a09a10" stroke-width="0.8"/><circle cx="556.8" cy="524.1" r="3.5" fill="#ebe61c" stroke="#a09a10" stroke-width="0.8"/></g>
<g filter="url(#fh)" fill="#5f60f5" opacity="0.16"><ellipse cx="107.6" cy="78.0" rx="8.2" ry="10.3"/><ellipse cx="136.2" cy="71.7" rx="8.7" ry="8.7"/><ellipse cx="186.0" cy="66.4" rx="7.8" ry="6.8"/><ellipse cx="87.4" cy="92.9" rx="6.8" ry="6.8"/><ellipse cx="117.1" cy="99.2" rx="10.3" ry="8.3"/><ellipse cx="152.1" cy="99.2" rx="13.8" ry="7.8" transform="rotate(12 152.1 99.2)"/><ellipse cx="186.0" cy="90.7" rx="8.8" ry="7.8"/><ellipse cx="101.2" cy="119.4" rx="8.8" ry="8.8"/><ellipse cx="159.5" cy="117.2" rx="8.3" ry="8.3"/><ellipse cx="198.5" cy="112.0" rx="9.8" ry="8.8"/><ellipse cx="132.0" cy="125.7" rx="7.8" ry="7.8"/><ellipse cx="109.7" cy="144.8" rx="8.3" ry="9.3"/><ellipse cx="169.0" cy="141.6" rx="7.8" ry="9.3"/><ellipse cx="84.4" cy="150.4" rx="6.8" ry="9.8"/><ellipse cx="193.4" cy="150.5" rx="7.8" ry="7.8"/><ellipse cx="142.5" cy="151.2" rx="8.3" ry="8.3"/><ellipse cx="189.7" cy="131.0" rx="8.0" ry="8.4"/><ellipse cx="97.0" cy="171.3" rx="9.3" ry="8.3"/><ellipse cx="175.4" cy="172.4" rx="11.3" ry="8.3"/><ellipse cx="209.5" cy="75.9" rx="7.8" ry="9.3"/><ellipse cx="240.3" cy="68.5" rx="7.8" ry="7.8"/><ellipse cx="293.3" cy="71.7" rx="8.8" ry="8.8"/><ellipse cx="281.6" cy="79.1" rx="8.3" ry="8.3"/><ellipse cx="256.2" cy="85.4" rx="9.3" ry="9.3"/><ellipse cx="224.4" cy="101.3" rx="9.8" ry="8.3"/><ellipse cx="211.7" cy="104.5" rx="6.8" ry="6.8"/><ellipse cx="260.4" cy="108.8" rx="10.3" ry="9.3"/><ellipse cx="291.2" cy="101.3" rx="8.3" ry="7.8"/><ellipse cx="225.4" cy="126.8" rx="10.8" ry="8.3"/><ellipse cx="250.9" cy="128.9" rx="9.3" ry="8.8"/><ellipse cx="285.9" cy="125.7" rx="7.8" ry="8.8"/><ellipse cx="218.0" cy="149.0" rx="9.8" ry="9.3"/><ellipse cx="243.5" cy="151.2" rx="9.3" ry="9.8"/><ellipse cx="291.2" cy="149.0" rx="8.8" ry="7.8"/><ellipse cx="257.2" cy="166.0" rx="11.8" ry="8.3" transform="rotate(-20 257.2 166.0)"/><ellipse cx="219.5" cy="176.5" rx="14.8" ry="8.3"/><ellipse cx="284.8" cy="170.2" rx="10.3" ry="8.3"/><ellipse cx="314.5" cy="119.4" rx="7.8" ry="7.8"/><ellipse cx="317.7" cy="151.2" rx="6.8" ry="6.8"/><ellipse cx="347.6" cy="70.6" rx="8.3" ry="9.8"/><ellipse cx="382.5" cy="69.5" rx="7.3" ry="7.3"/><ellipse cx="364.5" cy="86.5" rx="7.8" ry="10.3"/><ellipse cx="341.2" cy="98.2" rx="8.3" ry="8.3"/><ellipse cx="412.2" cy="87.6" rx="8.3" ry="7.8"/><ellipse cx="430.2" cy="72.7" rx="7.8" ry="7.8"/><ellipse cx="375.1" cy="102.4" rx="11.8" ry="8.8" transform="rotate(-20 375.1 102.4)"/><ellipse cx="423.9" cy="105.6" rx="8.3" ry="8.3"/><ellipse cx="413.3" cy="110.9" rx="7.8" ry="7.8"/><ellipse cx="434.0" cy="96.0" rx="6.3" ry="6.3"/><ellipse cx="379.4" cy="130.0" rx="8.3" ry="10.3"/><ellipse cx="433.4" cy="128.9" rx="8.8" ry="7.8"/><ellipse cx="347.6" cy="152.2" rx="8.3" ry="8.3"/><ellipse cx="368.8" cy="151.2" rx="8.3" ry="8.3"/><ellipse cx="394.2" cy="155.4" rx="8.8" ry="9.3"/><ellipse cx="402.7" cy="150.1" rx="8.3" ry="8.3"/><ellipse cx="428.1" cy="153.3" rx="8.8" ry="9.8"/><ellipse cx="422.0" cy="177.0" rx="11.8" ry="8.3" transform="rotate(35 422.0 177.0)"/><ellipse cx="387.8" cy="174.5" rx="8.3" ry="7.3"/><ellipse cx="351.8" cy="168.1" rx="7.3" ry="7.3"/><ellipse cx="325.7" cy="190.9" rx="7.8" ry="7.8"/><ellipse cx="300.3" cy="187.7" rx="7.3" ry="9.8"/><ellipse cx="310.9" cy="211.0" rx="7.8" ry="7.8"/><ellipse cx="337.4" cy="201.5" rx="7.8" ry="7.8"/><ellipse cx="318.3" cy="146.4" rx="8.3" ry="8.3"/><ellipse cx="291.8" cy="149.5" rx="8.8" ry="8.8"/><ellipse cx="450.6" cy="70.6" rx="9.8" ry="8.3"/><ellipse cx="479.2" cy="66.4" rx="8.3" ry="8.3"/><ellipse cx="510.0" cy="71.0" rx="11.8" ry="8.6"/><ellipse cx="555.5" cy="74.8" rx="6.3" ry="6.3"/><ellipse cx="466.5" cy="91.8" rx="9.8" ry="7.8"/><ellipse cx="504.7" cy="107.7" rx="8.3" ry="9.8"/><ellipse cx="532.2" cy="104.5" rx="9.3" ry="10.3"/><ellipse cx="531.2" cy="118.3" rx="6.8" ry="6.8"/><ellipse cx="549.2" cy="126.8" rx="7.8" ry="8.8"/><ellipse cx="440.0" cy="106.0" rx="7.3" ry="7.3"/><ellipse cx="499.4" cy="130.0" rx="8.8" ry="8.8"/><ellipse cx="514.2" cy="132.1" rx="9.3" ry="9.3"/><ellipse cx="455.9" cy="149.0" rx="8.3" ry="8.3"/><ellipse cx="487.7" cy="144.8" rx="9.8" ry="10.8"/><ellipse cx="518.4" cy="151.2" rx="8.3" ry="8.3"/><ellipse cx="555.5" cy="150.1" rx="6.3" ry="6.3"/><ellipse cx="485.6" cy="160.0" rx="7.8" ry="7.8"/><ellipse cx="501.5" cy="159.6" rx="7.8" ry="7.8"/><ellipse cx="486.6" cy="170.2" rx="9.8" ry="8.8"/><ellipse cx="464.4" cy="172.4" rx="7.8" ry="7.8"/><ellipse cx="541.8" cy="174.5" rx="9.8" ry="7.8"/><ellipse cx="86.4" cy="194.8" rx="7.3" ry="11.8"/><ellipse cx="111.8" cy="190.6" rx="10.3" ry="9.3"/><ellipse cx="128.8" cy="197.0" rx="7.8" ry="9.3"/><ellipse cx="152.1" cy="185.3" rx="9.3" ry="7.8"/><ellipse cx="166.0" cy="200.5" rx="9.8" ry="11.3"/><ellipse cx="193.5" cy="192.7" rx="10.0" ry="11.0"/><ellipse cx="118.2" cy="208.6" rx="6.3" ry="6.3"/><ellipse cx="139.4" cy="218.2" rx="13.3" ry="8.3"/><ellipse cx="112.9" cy="228.8" rx="9.8" ry="9.8"/><ellipse cx="165.9" cy="225.6" rx="8.3" ry="8.8"/><ellipse cx="86.5" cy="229.5" rx="6.8" ry="7.3"/><ellipse cx="145.3" cy="243.5" rx="12.8" ry="9.1" transform="rotate(-10 145.3 243.5)"/><ellipse cx="156.3" cy="236.2" rx="6.8" ry="6.8"/><ellipse cx="96.8" cy="249.0" rx="7.3" ry="11.3"/><ellipse cx="123.5" cy="250.0" rx="11.3" ry="7.8"/><ellipse cx="168.0" cy="250.0" rx="10.8" ry="7.8"/><ellipse cx="97.0" cy="268.0" rx="8.8" ry="8.8"/><ellipse cx="108.6" cy="269.0" rx="7.3" ry="9.8"/><ellipse cx="160.6" cy="270.1" rx="9.8" ry="11.3"/><ellipse cx="120.3" cy="288.1" rx="9.8" ry="9.3"/><ellipse cx="147.8" cy="290.2" rx="8.3" ry="9.3"/><ellipse cx="191.3" cy="279.6" rx="10.8" ry="7.8"/><ellipse cx="219.1" cy="190.6" rx="8.3" ry="8.3"/><ellipse cx="225.4" cy="203.3" rx="10.3" ry="8.3"/><ellipse cx="247.7" cy="191.8" rx="8.3" ry="7.3"/><ellipse cx="265.7" cy="186.4" rx="7.8" ry="8.8"/><ellipse cx="277.0" cy="197.5" rx="7.3" ry="7.3"/><ellipse cx="201.7" cy="215.0" rx="8.3" ry="7.3"/><ellipse cx="224.4" cy="229.8" rx="8.8" ry="10.8"/><ellipse cx="251.9" cy="226.6" rx="8.3" ry="8.3"/><ellipse cx="276.0" cy="211.0" rx="7.3" ry="7.3"/><ellipse cx="293.3" cy="232.0" rx="8.3" ry="9.3"/><ellipse cx="313.0" cy="234.0" rx="8.8" ry="8.8"/><ellipse cx="198.5" cy="250.4" rx="10.3" ry="8.1"/><ellipse cx="268.9" cy="247.8" rx="9.8" ry="7.8"/><ellipse cx="223.3" cy="258.4" rx="10.3" ry="9.8"/><ellipse cx="257.2" cy="269.0" rx="13.8" ry="8.8" transform="rotate(25 257.2 269.0)"/><ellipse cx="307.4" cy="248.7" rx="7.3" ry="6.8"/><ellipse cx="203.2" cy="279.6" rx="6.8" ry="6.8"/><ellipse cx="217.7" cy="288.0" rx="12.3" ry="8.3" transform="rotate(54 217.7 288.0)"/><ellipse cx="291.0" cy="283.5" rx="10.3" ry="9.3"/><ellipse cx="311.0" cy="283.0" rx="9.3" ry="10.3"/><ellipse cx="364.0" cy="186.0" rx="8.8" ry="8.8"/><ellipse cx="373.0" cy="195.9" rx="7.8" ry="7.8"/><ellipse cx="400.6" cy="198.0" rx="8.8" ry="8.8"/><ellipse cx="430.2" cy="191.7" rx="8.3" ry="8.3"/><ellipse cx="378.0" cy="208.5" rx="10.3" ry="7.8"/><ellipse cx="415.4" cy="215.0" rx="10.8" ry="8.3"/><ellipse cx="343.3" cy="224.5" rx="8.8" ry="11.8"/><ellipse cx="375.1" cy="227.7" rx="9.3" ry="9.3"/><ellipse cx="435.5" cy="228.8" rx="7.8" ry="9.8"/><ellipse cx="335.9" cy="248.9" rx="8.3" ry="8.3"/><ellipse cx="358.2" cy="247.8" rx="9.3" ry="8.3"/><ellipse cx="440.0" cy="243.3" rx="5.8" ry="5.8"/><ellipse cx="329.0" cy="265.0" rx="8.8" ry="14.8" transform="rotate(-20 329.0 265.0)"/><ellipse cx="381.5" cy="258.4" rx="9.8" ry="9.8"/><ellipse cx="371.9" cy="279.6" rx="9.8" ry="11.8" transform="rotate(-30 371.9 279.6)"/><ellipse cx="345.4" cy="283.9" rx="9.8" ry="9.3"/><ellipse cx="323.2" cy="286.0" rx="6.8" ry="9.8"/><ellipse cx="377.2" cy="294.5" rx="6.8" ry="6.8"/><ellipse cx="454.8" cy="191.7" rx="8.8" ry="9.8"/><ellipse cx="480.3" cy="190.6" rx="9.3" ry="12.3"/><ellipse cx="507.8" cy="186.4" rx="7.3" ry="8.3"/><ellipse cx="525.9" cy="193.8" rx="11.3" ry="10.3"/><ellipse cx="550.2" cy="183.2" rx="6.8" ry="6.8"/><ellipse cx="460.1" cy="216.0" rx="9.8" ry="8.8"/><ellipse cx="489.8" cy="211.8" rx="9.3" ry="12.8" transform="rotate(40 489.8 211.8)"/><ellipse cx="502.5" cy="224.5" rx="8.3" ry="8.8"/><ellipse cx="537.5" cy="211.8" rx="10.8" ry="9.3"/><ellipse cx="555.5" cy="225.6" rx="7.8" ry="7.8"/><ellipse cx="450.6" cy="231.9" rx="7.3" ry="8.3"/><ellipse cx="463.3" cy="243.6" rx="10.3" ry="8.8"/><ellipse cx="515.3" cy="244.7" rx="9.8" ry="8.8"/><ellipse cx="543.9" cy="247.8" rx="8.8" ry="9.8"/><ellipse cx="486.6" cy="258.4" rx="9.8" ry="9.3"/><ellipse cx="503.6" cy="256.3" rx="6.8" ry="6.8"/><ellipse cx="455.9" cy="266.9" rx="9.3" ry="9.3"/><ellipse cx="514.2" cy="266.9" rx="10.3" ry="9.8"/><ellipse cx="531.2" cy="265.9" rx="7.8" ry="7.8"/><ellipse cx="468.6" cy="281.8" rx="9.3" ry="9.3"/><ellipse cx="484.5" cy="281.8" rx="8.8" ry="8.8"/><ellipse cx="542.8" cy="291.3" rx="10.3" ry="8.3"/><ellipse cx="460.0" cy="298.4" rx="9.3" ry="10.0"/><ellipse cx="84.2" cy="311.7" rx="7.8" ry="7.8"/><ellipse cx="112.9" cy="309.5" rx="8.8" ry="11.8"/><ellipse cx="139.4" cy="313.8" rx="10.3" ry="10.8"/><ellipse cx="182.5" cy="305.0" rx="12.3" ry="8.3" transform="rotate(45 182.5 305.0)"/><ellipse cx="95.9" cy="328.6" rx="8.8" ry="8.8"/><ellipse cx="170.1" cy="337.1" rx="10.3" ry="9.3"/><ellipse cx="107.6" cy="350.9" rx="8.3" ry="11.3"/><ellipse cx="133.0" cy="364.7" rx="11.8" ry="9.3" transform="rotate(-30 133.0 364.7)"/><ellipse cx="158.4" cy="364.7" rx="12.8" ry="9.8" transform="rotate(35 158.4 364.7)"/><ellipse cx="93.3" cy="371.0" rx="11.8" ry="8.8" transform="rotate(20 93.3 371.0)"/><ellipse cx="132.5" cy="386.5" rx="13.8" ry="8.8" transform="rotate(40 132.5 386.5)"/><ellipse cx="162.0" cy="386.5" rx="12.8" ry="9.3" transform="rotate(-40 162.0 386.5)"/><ellipse cx="94.8" cy="396.5" rx="9.3" ry="9.3"/><ellipse cx="130.9" cy="408.1" rx="10.8" ry="7.8"/><ellipse cx="169.0" cy="412.4" rx="9.8" ry="8.8"/><ellipse cx="84.0" cy="403.0" rx="6.8" ry="7.8"/><ellipse cx="197.7" cy="317.0" rx="6.8" ry="6.8"/><ellipse cx="207.0" cy="314.0" rx="9.8" ry="8.8"/><ellipse cx="228.6" cy="323.3" rx="9.3" ry="9.3"/><ellipse cx="265.7" cy="326.5" rx="9.3" ry="8.8"/><ellipse cx="290.6" cy="307.7" rx="12.3" ry="8.8" transform="rotate(40 290.6 307.7)"/><ellipse cx="313.5" cy="309.0" rx="14.8" ry="8.8" transform="rotate(-35 313.5 309.0)"/><ellipse cx="211.0" cy="350.5" rx="13.8" ry="9.3"/><ellipse cx="250.9" cy="349.8" rx="9.8" ry="9.3"/><ellipse cx="270.0" cy="351.9" rx="9.3" ry="8.8"/><ellipse cx="299.6" cy="347.7" rx="10.3" ry="9.8"/><ellipse cx="315.5" cy="345.6" rx="7.8" ry="7.8"/><ellipse cx="229.7" cy="372.1" rx="9.3" ry="9.3"/><ellipse cx="271.0" cy="366.8" rx="9.8" ry="7.8"/><ellipse cx="310.2" cy="363.6" rx="9.3" ry="9.3"/><ellipse cx="204.3" cy="384.0" rx="7.8" ry="10.1"/><ellipse cx="303.9" cy="378.4" rx="8.8" ry="9.8"/><ellipse cx="243.5" cy="390.1" rx="8.3" ry="8.3"/><ellipse cx="278.4" cy="389.0" rx="9.8" ry="9.8"/><ellipse cx="263.6" cy="410.2" rx="10.3" ry="8.3"/><ellipse cx="252.9" cy="418.5" rx="7.5" ry="11.3"/><ellipse cx="282.7" cy="414.5" rx="6.8" ry="6.8"/><ellipse cx="290.3" cy="450.0" rx="7.3" ry="11.8"/><ellipse cx="311.5" cy="438.3" rx="12.8" ry="6.8"/><ellipse cx="326.3" cy="460.6" rx="7.8" ry="11.3"/><ellipse cx="298.8" cy="468.0" rx="12.8" ry="6.8"/><ellipse cx="295.6" cy="425.6" rx="7.3" ry="7.3"/><ellipse cx="349.7" cy="309.5" rx="11.8" ry="8.8" transform="rotate(15 349.7 309.5)"/><ellipse cx="377.2" cy="307.4" rx="10.8" ry="8.8" transform="rotate(-50 377.2 307.4)"/><ellipse cx="404.8" cy="311.7" rx="11.3" ry="8.3"/><ellipse cx="434.5" cy="315.9" rx="7.8" ry="10.8"/><ellipse cx="341.2" cy="322.3" rx="11.8" ry="7.8" transform="rotate(35 341.2 322.3)"/><ellipse cx="382.5" cy="331.8" rx="7.8" ry="11.3" transform="rotate(-15 382.5 331.8)"/><ellipse cx="413.3" cy="331.8" rx="10.8" ry="8.3"/><ellipse cx="328.5" cy="339.2" rx="10.3" ry="8.3"/><ellipse cx="374.1" cy="349.8" rx="9.8" ry="9.8"/><ellipse cx="425.0" cy="347.7" rx="8.3" ry="8.3"/><ellipse cx="443.0" cy="353.0" rx="7.8" ry="9.3"/><ellipse cx="327.4" cy="363.6" rx="9.3" ry="9.3"/><ellipse cx="387.8" cy="370.0" rx="9.3" ry="8.8"/><ellipse cx="362.4" cy="382.7" rx="8.8" ry="9.3"/><ellipse cx="402.7" cy="389.0" rx="8.8" ry="8.8"/><ellipse cx="331.7" cy="389.0" rx="9.3" ry="9.8"/><ellipse cx="348.6" cy="403.9" rx="8.8" ry="8.8"/><ellipse cx="331.0" cy="416.0" rx="10.8" ry="7.8"/><ellipse cx="433.0" cy="417.0" rx="7.8" ry="9.3"/><ellipse cx="485.6" cy="309.5" rx="11.3" ry="8.8"/><ellipse cx="519.5" cy="305.3" rx="8.3" ry="8.3"/><ellipse cx="548.1" cy="310.6" rx="7.8" ry="7.8"/><ellipse cx="459.0" cy="326.5" rx="6.8" ry="6.8"/><ellipse cx="518.4" cy="335.0" rx="6.3" ry="6.3"/><ellipse cx="534.3" cy="326.5" rx="9.3" ry="7.8"/><ellipse cx="497.2" cy="348.8" rx="9.3" ry="8.3"/><ellipse cx="539.6" cy="354.0" rx="16.8" ry="9.3" transform="rotate(-15 539.6 354.0)"/><ellipse cx="464.4" cy="365.7" rx="10.3" ry="8.8"/><ellipse cx="507.8" cy="370.0" rx="9.8" ry="8.8"/><ellipse cx="483.5" cy="382.7" rx="9.3" ry="8.8"/><ellipse cx="451.7" cy="388.0" rx="8.8" ry="8.8"/><ellipse cx="510.0" cy="390.0" rx="7.8" ry="7.8"/><ellipse cx="543.9" cy="384.8" rx="9.3" ry="9.8"/><ellipse cx="554.5" cy="399.6" rx="7.3" ry="10.3"/><ellipse cx="459.1" cy="406.0" rx="8.8" ry="9.3"/><ellipse cx="555.5" cy="307.4" rx="6.8" ry="6.8"/><ellipse cx="89.5" cy="424.5" rx="8.6" ry="9.8"/><ellipse cx="116.0" cy="423.2" rx="8.8" ry="7.3"/><ellipse cx="145.7" cy="425.3" rx="8.8" ry="7.8"/><ellipse cx="190.2" cy="435.9" rx="8.8" ry="9.8"/><ellipse cx="164.8" cy="447.6" rx="7.8" ry="10.3"/><ellipse cx="100.1" cy="461.3" rx="8.3" ry="8.8"/><ellipse cx="138.3" cy="469.8" rx="8.8" ry="8.8"/><ellipse cx="172.2" cy="469.8" rx="9.8" ry="10.3"/><ellipse cx="186.0" cy="474.0" rx="7.8" ry="7.8"/><ellipse cx="83.5" cy="461.0" rx="6.3" ry="10.8"/><ellipse cx="150.0" cy="488.9" rx="8.8" ry="10.3"/><ellipse cx="85.3" cy="487.8" rx="7.8" ry="9.8"/><ellipse cx="179.6" cy="486.8" rx="8.3" ry="8.3"/><ellipse cx="159.5" cy="502.7" rx="9.3" ry="9.3"/><ellipse cx="170.1" cy="499.5" rx="7.8" ry="7.8"/><ellipse cx="106.5" cy="509.0" rx="10.3" ry="9.3"/><ellipse cx="194.0" cy="507.0" rx="11.8" ry="8.8"/><ellipse cx="84.2" cy="511.2" rx="7.3" ry="7.3"/><ellipse cx="162.7" cy="526.0" rx="8.3" ry="8.8"/><ellipse cx="100.1" cy="535.5" rx="8.3" ry="8.8"/><ellipse cx="209.5" cy="427.4" rx="9.3" ry="8.3"/><ellipse cx="219.1" cy="434.8" rx="9.3" ry="8.3"/><ellipse cx="264.5" cy="426.0" rx="7.8" ry="7.8"/><ellipse cx="257.0" cy="448.2" rx="8.3" ry="9.8"/><ellipse cx="206.4" cy="458.2" rx="8.8" ry="8.3"/><ellipse cx="239.2" cy="466.6" rx="7.8" ry="7.8"/><ellipse cx="242.4" cy="479.4" rx="9.3" ry="9.3"/><ellipse cx="268.0" cy="471.5" rx="7.8" ry="9.3"/><ellipse cx="198.5" cy="482.4" rx="9.3" ry="8.3"/><ellipse cx="223.3" cy="492.1" rx="9.8" ry="9.3"/><ellipse cx="287.5" cy="485.8" rx="9.3" ry="8.8"/><ellipse cx="215.9" cy="513.3" rx="9.8" ry="9.8"/><ellipse cx="245.6" cy="509.0" rx="10.8" ry="8.8"/><ellipse cx="270.0" cy="506.9" rx="11.8" ry="9.8" transform="rotate(-30 270.0 506.9)"/><ellipse cx="299.6" cy="504.8" rx="7.8" ry="7.8"/><ellipse cx="230.7" cy="530.2" rx="8.8" ry="9.3"/><ellipse cx="260.4" cy="530.2" rx="8.3" ry="8.8"/><ellipse cx="318.7" cy="500.6" rx="6.8" ry="6.8"/><ellipse cx="352.9" cy="433.8" rx="9.3" ry="9.8"/><ellipse cx="377.2" cy="429.5" rx="11.8" ry="8.8"/><ellipse cx="408.0" cy="428.5" rx="8.3" ry="10.3"/><ellipse cx="361.3" cy="456.0" rx="9.8" ry="8.8"/><ellipse cx="387.8" cy="451.8" rx="8.8" ry="9.3"/><ellipse cx="398.4" cy="466.6" rx="8.3" ry="8.3"/><ellipse cx="429.2" cy="446.5" rx="9.3" ry="9.3"/><ellipse cx="357.1" cy="479.4" rx="13.8" ry="9.3" transform="rotate(20 357.1 479.4)"/><ellipse cx="427.1" cy="470.9" rx="9.8" ry="9.3"/><ellipse cx="341.2" cy="490.0" rx="11.3" ry="8.8" transform="rotate(20 341.2 490.0)"/><ellipse cx="387.8" cy="485.7" rx="7.8" ry="7.8"/><ellipse cx="406.9" cy="486.8" rx="9.8" ry="8.3"/><ellipse cx="428.1" cy="493.1" rx="11.3" ry="6.8"/><ellipse cx="378.3" cy="503.7" rx="7.8" ry="14.3"/><ellipse cx="351.8" cy="508.0" rx="9.3" ry="8.8"/><ellipse cx="423.9" cy="505.9" rx="8.3" ry="8.8"/><ellipse cx="365.6" cy="534.5" rx="11.3" ry="8.8"/><ellipse cx="409.0" cy="528.1" rx="12.3" ry="8.3" transform="rotate(30 409.0 528.1)"/><ellipse cx="531.0" cy="424.5" rx="7.3" ry="7.3"/><ellipse cx="452.7" cy="464.5" rx="10.8" ry="9.8"/><ellipse cx="479.2" cy="467.7" rx="8.3" ry="9.8"/><ellipse cx="504.7" cy="471.9" rx="8.8" ry="8.8"/><ellipse cx="537.5" cy="450.7" rx="8.8" ry="8.8"/><ellipse cx="461.2" cy="485.7" rx="8.8" ry="7.3"/><ellipse cx="483.5" cy="495.3" rx="19.8" ry="7.8"/><ellipse cx="532.2" cy="509.0" rx="8.8" ry="12.3"/><ellipse cx="553.4" cy="506.9" rx="6.8" ry="9.8"/><ellipse cx="447.4" cy="523.9" rx="8.3" ry="8.8"/><ellipse cx="475.0" cy="520.7" rx="9.3" ry="8.8"/><ellipse cx="481.3" cy="541.9" rx="6.8" ry="6.8"/><ellipse cx="299.3" cy="405.5" rx="8.4" ry="6.8"/><ellipse cx="518.0" cy="141.0" rx="8.3" ry="8.3"/></g>
<g filter="url(#fz)"><ellipse cx="107.6" cy="78.0" rx="6.8" ry="8.9" fill="#5f60f5"/><ellipse cx="136.2" cy="71.7" rx="7.3" ry="7.3" fill="#1a1af0"/><ellipse cx="186.0" cy="66.4" rx="6.4" ry="5.4" fill="#3c40ee"/><ellipse cx="87.4" cy="92.9" rx="5.4" ry="5.4" fill="#5f60f5"/><ellipse cx="117.1" cy="99.2" rx="8.9" ry="6.9" fill="#5f60f5"/><ellipse cx="152.1" cy="99.2" rx="12.4" ry="6.4" fill="#5f60f5" transform="rotate(12 152.1 99.2)"/><ellipse cx="186.0" cy="90.7" rx="7.4" ry="6.4" fill="#5f60f5"/><ellipse cx="129.8" cy="87.6" rx="3.0" ry="3.0" fill="#5f60f5" opacity="0.4"/><ellipse cx="101.2" cy="119.4" rx="7.4" ry="7.4" fill="#5f60f5"/><ellipse cx="119.2" cy="119.4" rx="3.5" ry="3.5" fill="#5f60f5" opacity="0.5"/><ellipse cx="159.5" cy="117.2" rx="6.9" ry="6.9" fill="#5f60f5"/><ellipse cx="198.5" cy="112.0" rx="8.4" ry="7.4" fill="#5f60f5"/><ellipse cx="132.0" cy="125.7" rx="6.4" ry="6.4" fill="#5f60f5"/><ellipse cx="109.7" cy="144.8" rx="6.9" ry="7.9" fill="#5f60f5"/><ellipse cx="169.0" cy="141.6" rx="6.4" ry="7.9" fill="#5f60f5"/><ellipse cx="84.4" cy="150.4" rx="5.4" ry="8.4" fill="#5f60f5"/><ellipse cx="193.4" cy="150.5" rx="6.4" ry="6.4" fill="#3c40ee"/><ellipse cx="142.5" cy="151.2" rx="6.9" ry="6.9" fill="#5f60f5"/><ellipse cx="188.0" cy="159.6" rx="5.0" ry="3.0" fill="#5f60f5" opacity="0.3"/><ellipse cx="189.7" cy="131.0" rx="6.6" ry="7.0" fill="#5f60f5"/><ellipse cx="97.0" cy="171.3" rx="7.9" ry="6.9" fill="#5f60f5"/><ellipse cx="175.4" cy="172.4" rx="9.9" ry="6.9" fill="#5f60f5"/><ellipse cx="209.5" cy="75.9" rx="6.4" ry="7.9" fill="#5f60f5"/><ellipse cx="240.3" cy="68.5" rx="6.4" ry="6.4" fill="#5f60f5"/><ellipse cx="293.3" cy="71.7" rx="7.4" ry="7.4" fill="#1a1af0"/><ellipse cx="281.6" cy="79.1" rx="6.9" ry="6.9" fill="#5f60f5"/><ellipse cx="256.2" cy="85.4" rx="7.9" ry="7.9" fill="#5f60f5"/><ellipse cx="224.4" cy="101.3" rx="8.4" ry="6.9" fill="#5f60f5"/><ellipse cx="211.7" cy="104.5" rx="5.4" ry="5.4" fill="#5f60f5"/><ellipse cx="260.4" cy="108.8" rx="8.9" ry="7.9" fill="#5f60f5"/><ellipse cx="291.2" cy="101.3" rx="6.9" ry="6.4" fill="#5f60f5"/><ellipse cx="225.4" cy="126.8" rx="9.4" ry="6.9" fill="#5f60f5"/><ellipse cx="250.9" cy="128.9" rx="7.9" ry="7.4" fill="#5f60f5"/><ellipse cx="285.9" cy="125.7" rx="6.4" ry="7.4" fill="#5f60f5"/><ellipse cx="218.0" cy="149.0" rx="8.4" ry="7.9" fill="#5f60f5"/><ellipse cx="243.5" cy="151.2" rx="7.9" ry="8.4" fill="#5f60f5"/><ellipse cx="291.2" cy="149.0" rx="7.4" ry="6.4" fill="#5f60f5"/><ellipse cx="257.2" cy="166.0" rx="10.4" ry="6.9" fill="#5f60f5" transform="rotate(-20 257.2 166.0)"/><ellipse cx="219.5" cy="176.5" rx="13.4" ry="6.9" fill="#5f60f5"/><ellipse cx="284.8" cy="170.2" rx="8.9" ry="6.9" fill="#5f60f5"/><ellipse cx="314.5" cy="119.4" rx="6.4" ry="6.4" fill="#5f60f5"/><ellipse cx="317.7" cy="151.2" rx="5.4" ry="5.4" fill="#5f60f5"/><ellipse cx="347.6" cy="70.6" rx="6.9" ry="8.4" fill="#5f60f5"/><ellipse cx="382.5" cy="69.5" rx="5.9" ry="5.9" fill="#5f60f5"/><ellipse cx="364.5" cy="86.5" rx="6.4" ry="8.9" fill="#5f60f5"/><ellipse cx="341.2" cy="98.2" rx="6.9" ry="6.9" fill="#5f60f5"/><ellipse cx="412.2" cy="87.6" rx="6.9" ry="6.4" fill="#5f60f5"/><ellipse cx="430.2" cy="72.7" rx="6.4" ry="6.4" fill="#9fa0f9"/><ellipse cx="375.1" cy="102.4" rx="10.4" ry="7.4" fill="#5f60f5" transform="rotate(-20 375.1 102.4)"/><ellipse cx="392.0" cy="102.4" rx="4.0" ry="4.0" fill="#5f60f5" opacity="0.5"/><ellipse cx="423.9" cy="105.6" rx="6.9" ry="6.9" fill="#5f60f5"/><ellipse cx="413.3" cy="110.9" rx="6.4" ry="6.4" fill="#5f60f5"/><ellipse cx="434.0" cy="96.0" rx="4.9" ry="4.9" fill="#9fa0f9"/><ellipse cx="379.4" cy="130.0" rx="6.9" ry="8.9" fill="#5f60f5"/><ellipse cx="433.4" cy="128.9" rx="7.4" ry="6.4" fill="#5f60f5"/><ellipse cx="347.6" cy="152.2" rx="6.9" ry="6.9" fill="#3c40ee"/><ellipse cx="368.8" cy="151.2" rx="6.9" ry="6.9" fill="#5f60f5"/><ellipse cx="394.2" cy="155.4" rx="7.4" ry="7.9" fill="#5f60f5"/><ellipse cx="402.7" cy="150.1" rx="6.9" ry="6.9" fill="#5f60f5"/><ellipse cx="428.1" cy="153.3" rx="7.4" ry="8.4" fill="#5f60f5"/><ellipse cx="422.0" cy="177.0" rx="10.4" ry="6.9" fill="#5f60f5" transform="rotate(35 422.0 177.0)"/><ellipse cx="387.8" cy="174.5" rx="6.9" ry="5.9" fill="#5f60f5"/><ellipse cx="351.8" cy="168.1" rx="5.9" ry="5.9" fill="#5f60f5"/><ellipse cx="390.0" cy="113.0" rx="4.0" ry="4.0" fill="#5f60f5" opacity="0.3"/><ellipse cx="325.7" cy="190.9" rx="6.4" ry="6.4" fill="#5f60f5"/><ellipse cx="300.3" cy="187.7" rx="5.9" ry="8.4" fill="#5f60f5"/><ellipse cx="310.9" cy="211.0" rx="6.4" ry="6.4" fill="#5f60f5"/><ellipse cx="337.4" cy="201.5" rx="6.4" ry="6.4" fill="#5f60f5"/><ellipse cx="318.3" cy="146.4" rx="6.9" ry="6.9" fill="#5f60f5"/><ellipse cx="291.8" cy="149.5" rx="7.4" ry="7.4" fill="#5f60f5"/><ellipse cx="450.6" cy="70.6" rx="8.4" ry="6.9" fill="#5f60f5"/><ellipse cx="479.2" cy="66.4" rx="6.9" ry="6.9" fill="#5f60f5"/><ellipse cx="510.0" cy="71.0" rx="10.4" ry="7.2" fill="#5f60f5"/><ellipse cx="555.5" cy="74.8" rx="4.9" ry="4.9" fill="#5f60f5"/><ellipse cx="466.5" cy="91.8" rx="8.4" ry="6.4" fill="#5f60f5"/><ellipse cx="465.4" cy="74.8" rx="3.0" ry="3.0" fill="#5f60f5" opacity="0.35"/><ellipse cx="504.7" cy="107.7" rx="6.9" ry="8.4" fill="#5f60f5"/><ellipse cx="532.2" cy="104.5" rx="7.9" ry="8.9" fill="#5f60f5"/><ellipse cx="531.2" cy="118.3" rx="5.4" ry="5.4" fill="#5f60f5"/><ellipse cx="549.2" cy="126.8" rx="6.4" ry="7.4" fill="#5f60f5"/><ellipse cx="440.0" cy="106.0" rx="5.9" ry="5.9" fill="#8f90f8"/><ellipse cx="499.4" cy="130.0" rx="7.4" ry="7.4" fill="#5f60f5"/><ellipse cx="514.2" cy="132.1" rx="7.9" ry="7.9" fill="#5f60f5"/><ellipse cx="455.9" cy="149.0" rx="6.9" ry="6.9" fill="#5f60f5"/><ellipse cx="487.7" cy="144.8" rx="8.4" ry="9.4" fill="#5f60f5"/><ellipse cx="518.4" cy="151.2" rx="6.9" ry="6.9" fill="#5f60f5"/><ellipse cx="555.5" cy="150.1" rx="4.9" ry="4.9" fill="#5f60f5"/><ellipse cx="485.6" cy="160.0" rx="6.4" ry="6.4" fill="#5f60f5"/><ellipse cx="501.5" cy="159.6" rx="6.4" ry="6.4" fill="#5f60f5"/><ellipse cx="486.6" cy="170.2" rx="8.4" ry="7.4" fill="#5f60f5"/><ellipse cx="464.4" cy="172.4" rx="6.4" ry="6.4" fill="#5f60f5"/><ellipse cx="541.8" cy="174.5" rx="8.4" ry="6.4" fill="#5f60f5"/><ellipse cx="86.4" cy="194.8" rx="5.9" ry="10.4" fill="#5f60f5"/><ellipse cx="111.8" cy="190.6" rx="8.9" ry="7.9" fill="#5f60f5"/><ellipse cx="128.8" cy="197.0" rx="6.4" ry="7.9" fill="#5f60f5"/><ellipse cx="152.1" cy="185.3" rx="7.9" ry="6.4" fill="#5f60f5"/><ellipse cx="166.0" cy="200.5" rx="8.4" ry="9.9" fill="#5f60f5"/><ellipse cx="193.5" cy="192.7" rx="8.6" ry="9.6" fill="#5f60f5"/><ellipse cx="118.2" cy="208.6" rx="4.9" ry="4.9" fill="#5f60f5"/><ellipse cx="139.4" cy="218.2" rx="11.9" ry="6.9" fill="#5f60f5"/><ellipse cx="112.9" cy="228.8" rx="8.4" ry="8.4" fill="#5f60f5"/><ellipse cx="165.9" cy="225.6" rx="6.9" ry="7.4" fill="#5f60f5"/><ellipse cx="86.5" cy="229.5" rx="5.4" ry="5.9" fill="#5f60f5"/><ellipse cx="145.3" cy="243.5" rx="11.4" ry="7.7" fill="#5f60f5" transform="rotate(-10 145.3 243.5)"/><ellipse cx="156.3" cy="236.2" rx="5.4" ry="5.4" fill="#5f60f5"/><ellipse cx="96.8" cy="249.0" rx="5.9" ry="9.9" fill="#5f60f5"/><ellipse cx="123.5" cy="250.0" rx="9.9" ry="6.4" fill="#5f60f5"/><ellipse cx="168.0" cy="250.0" rx="9.4" ry="6.4" fill="#5f60f5"/><ellipse cx="97.0" cy="268.0" rx="7.4" ry="7.4" fill="#5f60f5"/><ellipse cx="108.6" cy="269.0" rx="5.9" ry="8.4" fill="#5f60f5"/><ellipse cx="160.6" cy="270.1" rx="8.4" ry="9.9" fill="#5f60f5"/><ellipse cx="120.3" cy="288.1" rx="8.4" ry="7.9" fill="#5f60f5"/><ellipse cx="147.8" cy="290.2" rx="6.9" ry="7.9" fill="#5f60f5"/><ellipse cx="191.3" cy="279.6" rx="9.4" ry="6.4" fill="#5f60f5"/><ellipse cx="116.0" cy="201.0" rx="4.0" ry="4.0" fill="#5f60f5" opacity="0.3"/><ellipse cx="219.1" cy="190.6" rx="6.9" ry="6.9" fill="#5f60f5"/><ellipse cx="225.4" cy="203.3" rx="8.9" ry="6.9" fill="#5f60f5"/><ellipse cx="247.7" cy="191.8" rx="6.9" ry="5.9" fill="#7f80f7"/><ellipse cx="265.7" cy="186.4" rx="6.4" ry="7.4" fill="#5f60f5"/><ellipse cx="277.0" cy="197.5" rx="5.9" ry="5.9" fill="#7778f6"/><ellipse cx="201.7" cy="215.0" rx="6.9" ry="5.9" fill="#5f60f5"/><ellipse cx="224.4" cy="229.8" rx="7.4" ry="9.4" fill="#5f60f5"/><ellipse cx="251.9" cy="226.6" rx="6.9" ry="6.9" fill="#5f60f5"/><ellipse cx="276.0" cy="211.0" rx="5.9" ry="5.9" fill="#5f60f5"/><ellipse cx="293.3" cy="232.0" rx="6.9" ry="7.9" fill="#5f60f5"/><ellipse cx="313.0" cy="234.0" rx="7.4" ry="7.4" fill="#5f60f5"/><ellipse cx="198.5" cy="250.4" rx="8.9" ry="6.7" fill="#5f60f5"/><ellipse cx="268.9" cy="247.8" rx="8.4" ry="6.4" fill="#5f60f5"/><ellipse cx="223.3" cy="258.4" rx="8.9" ry="8.4" fill="#5f60f5"/><ellipse cx="257.2" cy="269.0" rx="12.4" ry="7.4" fill="#5f60f5" transform="rotate(25 257.2 269.0)"/><ellipse cx="307.4" cy="248.7" rx="5.9" ry="5.4" fill="#8f90f8"/><ellipse cx="203.2" cy="279.6" rx="5.4" ry="5.4" fill="#5f60f5"/><ellipse cx="217.7" cy="288.0" rx="10.9" ry="6.9" fill="#5f60f5" transform="rotate(54 217.7 288.0)"/><ellipse cx="291.0" cy="283.5" rx="8.9" ry="7.9" fill="#5f60f5"/><ellipse cx="311.0" cy="283.0" rx="7.9" ry="8.9" fill="#5f60f5"/><ellipse cx="279.5" cy="268.0" rx="4.0" ry="4.0" fill="#5f60f5" opacity="0.3"/><ellipse cx="229.7" cy="276.5" rx="3.5" ry="3.5" fill="#5f60f5" opacity="0.3"/><ellipse cx="243.5" cy="294.0" rx="5.5" ry="5.5" fill="#5f60f5" opacity="0.4"/><ellipse cx="316.6" cy="264.8" rx="4.0" ry="4.0" fill="#5f60f5" opacity="0.3"/><ellipse cx="364.0" cy="186.0" rx="7.4" ry="7.4" fill="#5f60f5"/><ellipse cx="373.0" cy="195.9" rx="6.4" ry="6.4" fill="#5f60f5"/><ellipse cx="400.6" cy="198.0" rx="7.4" ry="7.4" fill="#5f60f5"/><ellipse cx="430.2" cy="191.7" rx="6.9" ry="6.9" fill="#5f60f5"/><ellipse cx="378.0" cy="208.5" rx="8.9" ry="6.4" fill="#5f60f5"/><ellipse cx="415.4" cy="215.0" rx="9.4" ry="6.9" fill="#5f60f5"/><ellipse cx="343.3" cy="224.5" rx="7.4" ry="10.4" fill="#5f60f5"/><ellipse cx="375.1" cy="227.7" rx="7.9" ry="7.9" fill="#5f60f5"/><ellipse cx="435.5" cy="228.8" rx="6.4" ry="8.4" fill="#5f60f5"/><ellipse cx="335.9" cy="248.9" rx="6.9" ry="6.9" fill="#5f60f5"/><ellipse cx="358.2" cy="247.8" rx="7.9" ry="6.9" fill="#5f60f5"/><ellipse cx="440.0" cy="243.3" rx="4.4" ry="4.4" fill="#7f80f7"/><ellipse cx="329.0" cy="265.0" rx="7.4" ry="13.4" fill="#5f60f5" transform="rotate(-20 329.0 265.0)"/><ellipse cx="381.5" cy="258.4" rx="8.4" ry="8.4" fill="#5f60f5"/><ellipse cx="371.9" cy="279.6" rx="8.4" ry="10.4" fill="#5f60f5" transform="rotate(-30 371.9 279.6)"/><ellipse cx="345.4" cy="283.9" rx="8.4" ry="7.9" fill="#5f60f5"/><ellipse cx="323.2" cy="286.0" rx="5.4" ry="8.4" fill="#5f60f5"/><ellipse cx="395.3" cy="279.6" rx="5.0" ry="5.0" fill="#5f60f5" opacity="0.35"/><ellipse cx="377.2" cy="294.5" rx="5.4" ry="5.4" fill="#5f60f5"/><ellipse cx="454.8" cy="191.7" rx="7.4" ry="8.4" fill="#5f60f5"/><ellipse cx="480.3" cy="190.6" rx="7.9" ry="10.9" fill="#5f60f5"/><ellipse cx="507.8" cy="186.4" rx="5.9" ry="6.9" fill="#5f60f5"/><ellipse cx="525.9" cy="193.8" rx="9.9" ry="8.9" fill="#5f60f5"/><ellipse cx="550.2" cy="183.2" rx="5.4" ry="5.4" fill="#5f60f5"/><ellipse cx="460.1" cy="216.0" rx="8.4" ry="7.4" fill="#5f60f5"/><ellipse cx="489.8" cy="211.8" rx="7.9" ry="11.4" fill="#5f60f5" transform="rotate(40 489.8 211.8)"/><ellipse cx="502.5" cy="224.5" rx="6.9" ry="7.4" fill="#5f60f5"/><ellipse cx="537.5" cy="211.8" rx="9.4" ry="7.9" fill="#5f60f5"/><ellipse cx="555.5" cy="225.6" rx="6.4" ry="6.4" fill="#5f60f5"/><ellipse cx="450.6" cy="231.9" rx="5.9" ry="6.9" fill="#5f60f5"/><ellipse cx="463.3" cy="243.6" rx="8.9" ry="7.4" fill="#5f60f5"/><ellipse cx="515.3" cy="244.7" rx="8.4" ry="7.4" fill="#5f60f5"/><ellipse cx="543.9" cy="247.8" rx="7.4" ry="8.4" fill="#5f60f5"/><ellipse cx="486.6" cy="258.4" rx="8.4" ry="7.9" fill="#5f60f5"/><ellipse cx="503.6" cy="256.3" rx="5.4" ry="5.4" fill="#5f60f5"/><ellipse cx="455.9" cy="266.9" rx="7.9" ry="7.9" fill="#5f60f5"/><ellipse cx="514.2" cy="266.9" rx="8.9" ry="8.4" fill="#5f60f5"/><ellipse cx="531.2" cy="265.9" rx="6.4" ry="6.4" fill="#5f60f5"/><ellipse cx="468.6" cy="281.8" rx="7.9" ry="7.9" fill="#5f60f5"/><ellipse cx="484.5" cy="281.8" rx="7.4" ry="7.4" fill="#5f60f5"/><ellipse cx="542.8" cy="291.3" rx="8.9" ry="6.9" fill="#5f60f5"/><ellipse cx="460.0" cy="298.4" rx="7.9" ry="8.6" fill="#5f60f5"/><ellipse cx="84.2" cy="311.7" rx="6.4" ry="6.4" fill="#3c40ee"/><ellipse cx="112.9" cy="309.5" rx="7.4" ry="10.4" fill="#5f60f5"/><ellipse cx="139.4" cy="313.8" rx="8.9" ry="9.4" fill="#5f60f5"/><ellipse cx="147.8" cy="304.2" rx="4.0" ry="4.0" fill="#5f60f5" opacity="0.3"/><ellipse cx="182.5" cy="305.0" rx="10.9" ry="6.9" fill="#5f60f5" transform="rotate(45 182.5 305.0)"/><ellipse cx="95.9" cy="328.6" rx="7.4" ry="7.4" fill="#5f60f5"/><ellipse cx="170.1" cy="337.1" rx="8.9" ry="7.9" fill="#5f60f5"/><ellipse cx="120.3" cy="327.6" rx="3.0" ry="3.0" fill="#5f60f5" opacity="0.3"/><ellipse cx="147.8" cy="327.6" rx="4.0" ry="4.0" fill="#5f60f5" opacity="0.45"/><ellipse cx="107.6" cy="350.9" rx="6.9" ry="9.9" fill="#5f60f5"/><ellipse cx="120.3" cy="350.9" rx="3.0" ry="3.0" fill="#5f60f5" opacity="0.25"/><ellipse cx="195.5" cy="350.9" rx="5.0" ry="5.0" fill="#5f60f5" opacity="0.35"/><ellipse cx="133.0" cy="364.7" rx="10.4" ry="7.9" fill="#5f60f5" transform="rotate(-30 133.0 364.7)"/><ellipse cx="158.4" cy="364.7" rx="11.4" ry="8.4" fill="#5f60f5" transform="rotate(35 158.4 364.7)"/><ellipse cx="93.3" cy="371.0" rx="10.4" ry="7.4" fill="#5f60f5" transform="rotate(20 93.3 371.0)"/><ellipse cx="132.5" cy="386.5" rx="12.4" ry="7.4" fill="#5f60f5" transform="rotate(40 132.5 386.5)"/><ellipse cx="162.0" cy="386.5" rx="11.4" ry="7.9" fill="#5f60f5" transform="rotate(-40 162.0 386.5)"/><ellipse cx="150.0" cy="395.4" rx="4.0" ry="4.0" fill="#5f60f5" opacity="0.3"/><ellipse cx="186.0" cy="379.5" rx="4.0" ry="5.0" fill="#5f60f5" opacity="0.35"/><ellipse cx="187.0" cy="403.9" rx="4.0" ry="4.0" fill="#5f60f5" opacity="0.3"/><ellipse cx="94.8" cy="396.5" rx="7.9" ry="7.9" fill="#5f60f5"/><ellipse cx="130.9" cy="408.1" rx="9.4" ry="6.4" fill="#5f60f5"/><ellipse cx="169.0" cy="412.4" rx="8.4" ry="7.4" fill="#5f60f5"/><ellipse cx="84.0" cy="403.0" rx="5.4" ry="6.4" fill="#7778f6"/><ellipse cx="197.7" cy="317.0" rx="5.4" ry="5.4" fill="#5f60f5"/><ellipse cx="207.0" cy="314.0" rx="8.4" ry="7.4" fill="#5f60f5"/><ellipse cx="228.6" cy="323.3" rx="7.9" ry="7.9" fill="#5f60f5"/><ellipse cx="265.7" cy="326.5" rx="7.9" ry="7.4" fill="#5f60f5"/><ellipse cx="291.2" cy="327.6" rx="5.0" ry="5.0" fill="#5f60f5" opacity="0.35"/><ellipse cx="290.6" cy="307.7" rx="10.9" ry="7.4" fill="#5f60f5" transform="rotate(40 290.6 307.7)"/><ellipse cx="313.5" cy="309.0" rx="13.4" ry="7.4" fill="#5f60f5" transform="rotate(-35 313.5 309.0)"/><ellipse cx="211.0" cy="350.5" rx="12.4" ry="7.9" fill="#5f60f5"/><ellipse cx="231.8" cy="349.8" rx="6.0" ry="5.0" fill="#5f60f5" opacity="0.5"/><ellipse cx="250.9" cy="349.8" rx="8.4" ry="7.9" fill="#5f60f5"/><ellipse cx="270.0" cy="351.9" rx="7.9" ry="7.4" fill="#5f60f5"/><ellipse cx="299.6" cy="347.7" rx="8.9" ry="8.4" fill="#5f60f5"/><ellipse cx="315.5" cy="345.6" rx="6.4" ry="6.4" fill="#5f60f5"/><ellipse cx="283.7" cy="355.1" rx="5.0" ry="5.0" fill="#5f60f5" opacity="0.3"/><ellipse cx="229.7" cy="372.1" rx="7.9" ry="7.9" fill="#5f60f5"/><ellipse cx="271.0" cy="366.8" rx="8.4" ry="6.4" fill="#5f60f5"/><ellipse cx="310.2" cy="363.6" rx="7.9" ry="7.9" fill="#5f60f5"/><ellipse cx="204.3" cy="384.0" rx="6.4" ry="8.7" fill="#5f60f5"/><ellipse cx="303.9" cy="378.4" rx="7.4" ry="8.4" fill="#5f60f5"/><ellipse cx="243.5" cy="390.1" rx="6.9" ry="6.9" fill="#1a1af0"/><ellipse cx="278.4" cy="389.0" rx="8.4" ry="8.4" fill="#5f60f5"/><ellipse cx="263.6" cy="410.2" rx="8.9" ry="6.9" fill="#5f60f5"/><ellipse cx="252.9" cy="418.5" rx="6.1" ry="9.9" fill="#5f60f5"/><ellipse cx="282.7" cy="414.5" rx="5.4" ry="5.4" fill="#5f60f5"/><ellipse cx="290.3" cy="450.0" rx="5.9" ry="10.4" fill="#5f60f5"/><ellipse cx="311.5" cy="438.3" rx="11.4" ry="5.4" fill="#5f60f5"/><ellipse cx="326.3" cy="460.6" rx="6.4" ry="9.9" fill="#5f60f5"/><ellipse cx="298.8" cy="468.0" rx="11.4" ry="5.4" fill="#5f60f5"/><ellipse cx="295.6" cy="425.6" rx="5.9" ry="5.9" fill="#5f60f5"/><ellipse cx="349.7" cy="309.5" rx="10.4" ry="7.4" fill="#5f60f5" transform="rotate(15 349.7 309.5)"/><ellipse cx="377.2" cy="307.4" rx="9.4" ry="7.4" fill="#5f60f5" transform="rotate(-50 377.2 307.4)"/><ellipse cx="404.8" cy="311.7" rx="9.9" ry="6.9" fill="#5f60f5"/><ellipse cx="434.5" cy="315.9" rx="6.4" ry="9.4" fill="#5f60f5"/><ellipse cx="341.2" cy="322.3" rx="10.4" ry="6.4" fill="#8788f8" transform="rotate(35 341.2 322.3)"/><ellipse cx="382.5" cy="331.8" rx="6.4" ry="9.9" fill="#5f60f5" transform="rotate(-15 382.5 331.8)"/><ellipse cx="413.3" cy="331.8" rx="9.4" ry="6.9" fill="#5f60f5"/><ellipse cx="328.5" cy="339.2" rx="8.9" ry="6.9" fill="#5f60f5"/><ellipse cx="374.1" cy="349.8" rx="8.4" ry="8.4" fill="#5f60f5"/><ellipse cx="425.0" cy="347.7" rx="6.9" ry="6.9" fill="#5f60f5"/><ellipse cx="355.0" cy="343.5" rx="4.0" ry="4.0" fill="#5f60f5" opacity="0.3"/><ellipse cx="443.0" cy="353.0" rx="6.4" ry="7.9" fill="#5f60f5"/><ellipse cx="327.4" cy="363.6" rx="7.9" ry="7.9" fill="#5f60f5"/><ellipse cx="387.8" cy="370.0" rx="7.9" ry="7.4" fill="#5f60f5"/><ellipse cx="362.4" cy="382.7" rx="7.4" ry="7.9" fill="#5f60f5"/><ellipse cx="402.7" cy="389.0" rx="7.4" ry="7.4" fill="#1a1af0"/><ellipse cx="331.7" cy="389.0" rx="7.9" ry="8.4" fill="#5f60f5"/><ellipse cx="348.6" cy="403.9" rx="7.4" ry="7.4" fill="#5f60f5"/><ellipse cx="331.0" cy="416.0" rx="9.4" ry="6.4" fill="#5f60f5"/><ellipse cx="433.0" cy="417.0" rx="6.4" ry="7.9" fill="#5f60f5"/><ellipse cx="485.6" cy="309.5" rx="9.9" ry="7.4" fill="#5f60f5"/><ellipse cx="519.5" cy="305.3" rx="6.9" ry="6.9" fill="#5f60f5"/><ellipse cx="548.1" cy="310.6" rx="6.4" ry="6.4" fill="#5f60f5"/><ellipse cx="459.0" cy="326.5" rx="5.4" ry="5.4" fill="#5f60f5"/><ellipse cx="503.6" cy="327.6" rx="3.0" ry="3.0" fill="#5f60f5" opacity="0.3"/><ellipse cx="518.4" cy="335.0" rx="4.9" ry="4.9" fill="#9fa0f9"/><ellipse cx="534.3" cy="326.5" rx="7.9" ry="6.4" fill="#5f60f5"/><ellipse cx="497.2" cy="348.8" rx="7.9" ry="6.9" fill="#5f60f5"/><ellipse cx="539.6" cy="354.0" rx="15.4" ry="7.9" fill="#5f60f5" transform="rotate(-15 539.6 354.0)"/><ellipse cx="464.4" cy="365.7" rx="8.9" ry="7.4" fill="#5f60f5"/><ellipse cx="507.8" cy="370.0" rx="8.4" ry="7.4" fill="#5f60f5"/><ellipse cx="483.5" cy="382.7" rx="7.9" ry="7.4" fill="#5f60f5"/><ellipse cx="451.7" cy="388.0" rx="7.4" ry="7.4" fill="#5f60f5"/><ellipse cx="510.0" cy="390.0" rx="6.4" ry="6.4" fill="#5f60f5"/><ellipse cx="543.9" cy="384.8" rx="7.9" ry="8.4" fill="#5f60f5"/><ellipse cx="554.5" cy="399.6" rx="5.9" ry="8.9" fill="#5f60f5"/><ellipse cx="459.1" cy="406.0" rx="7.4" ry="7.9" fill="#5f60f5"/><ellipse cx="555.5" cy="307.4" rx="5.4" ry="5.4" fill="#5f60f5"/><ellipse cx="89.5" cy="424.5" rx="7.2" ry="8.4" fill="#5f60f5"/><ellipse cx="116.0" cy="423.2" rx="7.4" ry="5.9" fill="#5f60f5"/><ellipse cx="145.7" cy="425.3" rx="7.4" ry="6.4" fill="#5f60f5"/><ellipse cx="163.7" cy="432.7" rx="4.0" ry="4.0" fill="#5f60f5" opacity="0.3"/><ellipse cx="190.2" cy="435.9" rx="7.4" ry="8.4" fill="#5f60f5"/><ellipse cx="164.8" cy="447.6" rx="6.4" ry="8.9" fill="#5f60f5"/><ellipse cx="100.1" cy="461.3" rx="6.9" ry="7.4" fill="#5f60f5"/><ellipse cx="138.3" cy="469.8" rx="7.4" ry="7.4" fill="#1a1af0"/><ellipse cx="172.2" cy="469.8" rx="8.4" ry="8.9" fill="#5f60f5"/><ellipse cx="186.0" cy="474.0" rx="6.4" ry="6.4" fill="#5f60f5"/><ellipse cx="83.5" cy="461.0" rx="4.9" ry="9.4" fill="#5f60f5"/><ellipse cx="150.0" cy="488.9" rx="7.4" ry="8.9" fill="#5f60f5"/><ellipse cx="85.3" cy="487.8" rx="6.4" ry="8.4" fill="#5f60f5"/><ellipse cx="179.6" cy="486.8" rx="6.9" ry="6.9" fill="#5f60f5"/><ellipse cx="159.5" cy="502.7" rx="7.9" ry="7.9" fill="#5f60f5"/><ellipse cx="170.1" cy="499.5" rx="6.4" ry="6.4" fill="#5f60f5"/><ellipse cx="106.5" cy="509.0" rx="8.9" ry="7.9" fill="#5f60f5"/><ellipse cx="194.0" cy="507.0" rx="10.4" ry="7.4" fill="#5f60f5"/><ellipse cx="84.2" cy="511.2" rx="5.9" ry="5.9" fill="#5f60f5"/><ellipse cx="162.7" cy="526.0" rx="6.9" ry="7.4" fill="#5f60f5"/><ellipse cx="100.1" cy="535.5" rx="6.9" ry="7.4" fill="#5f60f5"/><ellipse cx="209.5" cy="427.4" rx="7.9" ry="6.9" fill="#5f60f5"/><ellipse cx="219.1" cy="434.8" rx="7.9" ry="6.9" fill="#5f60f5"/><ellipse cx="264.5" cy="426.0" rx="6.4" ry="6.4" fill="#5f60f5"/><ellipse cx="257.0" cy="448.2" rx="6.9" ry="8.4" fill="#5f60f5"/><ellipse cx="206.4" cy="458.2" rx="7.4" ry="6.9" fill="#5f60f5"/><ellipse cx="239.2" cy="466.6" rx="6.4" ry="6.4" fill="#5f60f5"/><ellipse cx="242.4" cy="479.4" rx="7.9" ry="7.9" fill="#5f60f5"/><ellipse cx="268.0" cy="471.5" rx="6.4" ry="7.9" fill="#5f60f5"/><ellipse cx="198.5" cy="482.4" rx="7.9" ry="6.9" fill="#5f60f5"/><ellipse cx="223.3" cy="492.1" rx="8.4" ry="7.9" fill="#5f60f5"/><ellipse cx="287.5" cy="485.8" rx="7.9" ry="7.4" fill="#5f60f5"/><ellipse cx="215.9" cy="513.3" rx="8.4" ry="8.4" fill="#5f60f5"/><ellipse cx="245.6" cy="509.0" rx="9.4" ry="7.4" fill="#5f60f5"/><ellipse cx="270.0" cy="506.9" rx="10.4" ry="8.4" fill="#5f60f5" transform="rotate(-30 270.0 506.9)"/><ellipse cx="299.6" cy="504.8" rx="6.4" ry="6.4" fill="#5f60f5"/><ellipse cx="230.7" cy="530.2" rx="7.4" ry="7.9" fill="#5f60f5"/><ellipse cx="260.4" cy="530.2" rx="6.9" ry="7.4" fill="#5f60f5"/><ellipse cx="318.7" cy="500.6" rx="5.4" ry="5.4" fill="#5f60f5"/><ellipse cx="352.9" cy="433.8" rx="7.9" ry="8.4" fill="#5f60f5"/><ellipse cx="377.2" cy="429.5" rx="10.4" ry="7.4" fill="#5f60f5"/><ellipse cx="408.0" cy="428.5" rx="6.9" ry="8.9" fill="#5f60f5"/><ellipse cx="361.3" cy="456.0" rx="8.4" ry="7.4" fill="#5f60f5"/><ellipse cx="387.8" cy="451.8" rx="7.4" ry="7.9" fill="#5f60f5"/><ellipse cx="398.4" cy="466.6" rx="6.9" ry="6.9" fill="#5f60f5"/><ellipse cx="429.2" cy="446.5" rx="7.9" ry="7.9" fill="#5f60f5"/><ellipse cx="357.1" cy="479.4" rx="12.4" ry="7.9" fill="#5f60f5" transform="rotate(20 357.1 479.4)"/><ellipse cx="427.1" cy="470.9" rx="8.4" ry="7.9" fill="#5f60f5"/><ellipse cx="341.2" cy="490.0" rx="9.9" ry="7.4" fill="#5f60f5" transform="rotate(20 341.2 490.0)"/><ellipse cx="387.8" cy="485.7" rx="6.4" ry="6.4" fill="#7f80f7"/><ellipse cx="406.9" cy="486.8" rx="8.4" ry="6.9" fill="#5f60f5"/><ellipse cx="428.1" cy="493.1" rx="9.9" ry="5.4" fill="#8788f8"/><ellipse cx="378.3" cy="503.7" rx="6.4" ry="12.9" fill="#5f60f5"/><ellipse cx="351.8" cy="508.0" rx="7.9" ry="7.4" fill="#5f60f5"/><ellipse cx="423.9" cy="505.9" rx="6.9" ry="7.4" fill="#5f60f5"/><ellipse cx="365.6" cy="534.5" rx="9.9" ry="7.4" fill="#5f60f5"/><ellipse cx="409.0" cy="528.1" rx="10.9" ry="6.9" fill="#5f60f5" transform="rotate(30 409.0 528.1)"/><ellipse cx="397.4" cy="523.9" rx="4.0" ry="4.0" fill="#5f60f5" opacity="0.3"/><ellipse cx="531.0" cy="424.5" rx="5.9" ry="5.9" fill="#5f60f5"/><ellipse cx="452.7" cy="464.5" rx="9.4" ry="8.4" fill="#5f60f5"/><ellipse cx="479.2" cy="467.7" rx="6.9" ry="8.4" fill="#5f60f5"/><ellipse cx="504.7" cy="471.9" rx="7.4" ry="7.4" fill="#1a1af0"/><ellipse cx="537.5" cy="450.7" rx="7.4" ry="7.4" fill="#5f60f5"/><ellipse cx="555.5" cy="464.5" rx="5.0" ry="5.0" fill="#5f60f5" opacity="0.5"/><ellipse cx="461.2" cy="485.7" rx="7.4" ry="5.9" fill="#7778f6"/><ellipse cx="483.5" cy="495.3" rx="18.4" ry="6.4" fill="#5f60f5"/><ellipse cx="532.2" cy="509.0" rx="7.4" ry="10.9" fill="#5f60f5"/><ellipse cx="553.4" cy="506.9" rx="5.4" ry="8.4" fill="#5f60f5"/><ellipse cx="549.2" cy="500.6" rx="3.0" ry="3.0" fill="#5f60f5" opacity="0.3"/><ellipse cx="447.4" cy="523.9" rx="6.9" ry="7.4" fill="#5f60f5"/><ellipse cx="475.0" cy="520.7" rx="7.9" ry="7.4" fill="#5f60f5"/><ellipse cx="481.3" cy="541.9" rx="5.4" ry="5.4" fill="#5f60f5"/><ellipse cx="459.0" cy="542.0" rx="3.0" ry="3.0" fill="#5f60f5" opacity="0.3"/><ellipse cx="299.3" cy="405.5" rx="7.0" ry="5.4" fill="#5f60f5"/><ellipse cx="169.0" cy="315.0" rx="4.0" ry="4.0" fill="#5f60f5" opacity="0.35"/><ellipse cx="518.0" cy="141.0" rx="6.9" ry="6.9" fill="#5f60f5"/></g>
<g filter="url(#fi)"><ellipse cx="88.5" cy="72.7" rx="7.5" ry="8.5" fill="#e97f1a"/><ellipse cx="160.6" cy="72.7" rx="7.0" ry="7.5" fill="#2b8c5e"/><ellipse cx="188.1" cy="74.8" rx="7.5" ry="7.5" fill="#f05e16"/><ellipse cx="120.3" cy="104.9" rx="5.5" ry="5.5" fill="#6aa33e"/><ellipse cx="91.7" cy="136.3" rx="7.5" ry="7.5" fill="#f03c14"/><ellipse cx="150.0" cy="134.2" rx="7.0" ry="8.0" fill="#f03c14"/><ellipse cx="127.7" cy="160.7" rx="6.5" ry="6.5" fill="#6aa33e"/><ellipse cx="315.5" cy="79.1" rx="7.0" ry="7.0" fill="#2b8c5e"/><ellipse cx="295.4" cy="91.8" rx="6.5" ry="6.5" fill="#f05e16"/><ellipse cx="233.9" cy="139.5" rx="7.5" ry="7.5" fill="#e97f1a"/><ellipse cx="303.9" cy="137.4" rx="6.5" ry="6.5" fill="#f03c14"/><ellipse cx="343.3" cy="83.3" rx="6.5" ry="6.5" fill="#e97f1a"/><ellipse cx="399.5" cy="69.5" rx="7.5" ry="7.5" fill="#151515"/><ellipse cx="348.6" cy="126.8" rx="7.5" ry="7.5" fill="#3d9a4e"/><ellipse cx="403.7" cy="125.7" rx="5.0" ry="5.5" fill="#6aa33e"/><ellipse cx="362.4" cy="140.6" rx="7.0" ry="7.0" fill="#f21c10"/><ellipse cx="393.0" cy="79.0" rx="3.0" ry="3.0" fill="#6aa33e" opacity="0.4"/><ellipse cx="317.2" cy="194.1" rx="7.0" ry="7.0" fill="#e97f1a"/><ellipse cx="325.7" cy="171.8" rx="10.0" ry="5.5" fill="#6aa33e"/><ellipse cx="521.6" cy="63.2" rx="3.0" ry="3.0" fill="#ed9948"/><ellipse cx="497.0" cy="84.5" rx="9.5" ry="6.5" fill="#6aa33e" transform="rotate(-50 497.0 84.5)"/><ellipse cx="532.2" cy="78.0" rx="5.0" ry="6.0" fill="#6aa33e"/><ellipse cx="552.4" cy="88.6" rx="6.0" ry="6.0" fill="#6aa33e"/><ellipse cx="479.2" cy="110.9" rx="7.0" ry="7.0" fill="#151515"/><ellipse cx="465.0" cy="126.5" rx="9.5" ry="6.5" fill="#6aa33e" transform="rotate(40 465.0 126.5)"/><ellipse cx="444.8" cy="142.4" rx="8.0" ry="6.0" fill="#e97f1a" transform="rotate(45 444.8 142.4)"/><ellipse cx="505.7" cy="148.0" rx="9.0" ry="8.5" fill="#e97f1a" transform="rotate(-20 505.7 148.0)"/><ellipse cx="530.1" cy="150.1" rx="4.0" ry="4.5" fill="#80b15b"/><ellipse cx="458.0" cy="161.8" rx="7.0" ry="7.0" fill="#6aa33e"/><ellipse cx="507.8" cy="168.1" rx="6.5" ry="6.5" fill="#6aa33e"/><ellipse cx="521.6" cy="161.8" rx="3.0" ry="3.0" fill="#6aa33e" opacity="0.5"/><ellipse cx="175.4" cy="189.5" rx="10.5" ry="7.0" fill="#e97f1a"/><ellipse cx="190.2" cy="229.8" rx="7.5" ry="7.5" fill="#151515"/><ellipse cx="118.2" cy="269.0" rx="3.0" ry="3.0" fill="#6aa33e" opacity="0.3"/><ellipse cx="175.4" cy="230.9" rx="2.5" ry="2.5" fill="#6aa33e" opacity="0.3"/><ellipse cx="273.1" cy="229.8" rx="6.5" ry="6.5" fill="#f05e16"/><ellipse cx="303.9" cy="294.5" rx="6.5" ry="6.5" fill="#f05e16"/><ellipse cx="199.0" cy="295.0" rx="7.0" ry="7.0" fill="#f03c14"/><ellipse cx="383.6" cy="191.7" rx="6.5" ry="6.5" fill="#f05e16"/><ellipse cx="401.6" cy="229.8" rx="7.5" ry="7.5" fill="#151515"/><ellipse cx="413.3" cy="251.0" rx="9.0" ry="6.5" fill="#6aa33e"/><ellipse cx="427.1" cy="271.2" rx="7.5" ry="7.5" fill="#151515"/><ellipse cx="361.3" cy="293.4" rx="6.5" ry="6.5" fill="#f05e16"/><ellipse cx="427.1" cy="291.3" rx="8.5" ry="6.5" fill="#6aa33e"/><ellipse cx="471.8" cy="202.3" rx="8.5" ry="9.5" fill="#e97f1a"/><ellipse cx="541.8" cy="194.8" rx="7.0" ry="9.5" fill="#e97f1a"/><ellipse cx="526.9" cy="256.3" rx="8.5" ry="6.5" fill="#e97f1a"/><ellipse cx="544.9" cy="271.2" rx="6.5" ry="6.5" fill="#6aa33e"/><ellipse cx="501.5" cy="292.4" rx="5.5" ry="5.5" fill="#6aa33e"/><ellipse cx="477.1" cy="294.5" rx="7.5" ry="6.5" fill="#e97f1a"/><ellipse cx="131.0" cy="302.0" rx="7.5" ry="7.0" fill="#e97f1a"/><ellipse cx="135.1" cy="315.9" rx="3.5" ry="3.5" fill="#f0a55f"/><ellipse cx="146.8" cy="375.3" rx="7.0" ry="7.0" fill="#f05e16"/><ellipse cx="87.4" cy="385.9" rx="7.0" ry="7.0" fill="#e97f1a"/><ellipse cx="108.6" cy="388.0" rx="6.5" ry="7.0" fill="#6aa33e"/><ellipse cx="183.9" cy="394.3" rx="5.0" ry="5.0" fill="#6aa33e"/><ellipse cx="244.5" cy="310.6" rx="7.5" ry="7.5" fill="#151515"/><ellipse cx="224.4" cy="386.9" rx="7.0" ry="7.0" fill="#f21c10"/><ellipse cx="224.4" cy="403.9" rx="8.0" ry="7.5" fill="#6aa33e"/><ellipse cx="307.2" cy="455.3" rx="6.8" ry="6.8" fill="#f05e16"/><ellipse cx="306.2" cy="418.2" rx="4.0" ry="4.0" fill="#6aa33e" opacity="0.4"/><ellipse cx="419.6" cy="313.8" rx="7.5" ry="6.0" fill="#e97f1a"/><ellipse cx="432.4" cy="371.0" rx="7.5" ry="7.5" fill="#444444"/><ellipse cx="319.0" cy="376.5" rx="7.0" ry="7.0" fill="#e97f1a"/><ellipse cx="382.5" cy="386.9" rx="7.0" ry="7.0" fill="#f21c10"/><ellipse cx="432.4" cy="394.3" rx="7.0" ry="6.0" fill="#6aa33e"/><ellipse cx="382.5" cy="402.8" rx="7.5" ry="6.5" fill="#3d9a4e"/><ellipse cx="539.6" cy="309.5" rx="6.8" ry="6.8" fill="#f05e16"/><ellipse cx="463.3" cy="331.8" rx="8.0" ry="6.5" fill="#6aa33e"/><ellipse cx="485.6" cy="333.9" rx="6.0" ry="5.0" fill="#6aa33e"/><ellipse cx="479.2" cy="350.9" rx="7.5" ry="7.5" fill="#151515"/><ellipse cx="500.4" cy="388.0" rx="7.0" ry="7.0" fill="#f05e16"/><ellipse cx="523.7" cy="393.3" rx="5.5" ry="7.0" fill="#6aa33e"/><ellipse cx="490.9" cy="408.1" rx="7.0" ry="7.0" fill="#2b8c5e"/><ellipse cx="445.3" cy="414.5" rx="6.5" ry="6.5" fill="#e97f1a"/><ellipse cx="555.5" cy="384.8" rx="2.5" ry="3.0" fill="#f2b276"/><ellipse cx="129.8" cy="427.4" rx="7.5" ry="6.5" fill="#e97f1a"/><ellipse cx="85.3" cy="445.4" rx="5.5" ry="6.0" fill="#6aa33e"/><ellipse cx="128.8" cy="449.7" rx="7.5" ry="6.5" fill="#2b8c5e"/><ellipse cx="119.2" cy="465.6" rx="7.0" ry="7.0" fill="#f21c10"/><ellipse cx="118.2" cy="483.6" rx="7.0" ry="7.0" fill="#2b8c5e"/><ellipse cx="98.0" cy="499.5" rx="6.5" ry="6.5" fill="#f05e16"/><ellipse cx="131.9" cy="528.1" rx="7.0" ry="7.0" fill="#2b8c5e"/><ellipse cx="148.9" cy="536.6" rx="6.5" ry="7.0" fill="#f21c10"/><ellipse cx="191.3" cy="534.5" rx="8.0" ry="7.5" fill="#6aa33e"/><ellipse cx="84.2" cy="535.5" rx="3.0" ry="3.0" fill="#6aa33e" opacity="0.3"/><ellipse cx="208.5" cy="442.3" rx="6.5" ry="6.5" fill="#e97f1a"/><ellipse cx="229.5" cy="452.4" rx="10.0" ry="6.0" fill="#6aa33e" transform="rotate(-50 229.5 452.4)"/><ellipse cx="250.2" cy="464.8" rx="6.5" ry="8.5" fill="#e97f1a" transform="rotate(20 250.2 464.8)"/><ellipse cx="247.7" cy="523.9" rx="7.0" ry="7.0" fill="#e97f1a"/><ellipse cx="290.1" cy="531.3" rx="7.5" ry="6.5" fill="#2b8c5e"/><ellipse cx="309.2" cy="539.8" rx="7.5" ry="7.0" fill="#f21c10"/><ellipse cx="369.8" cy="443.3" rx="7.0" ry="7.0" fill="#e97f1a"/><ellipse cx="334.8" cy="506.9" rx="8.0" ry="6.5" fill="#e97f1a"/><ellipse cx="328.5" cy="528.1" rx="7.5" ry="7.0" fill="#2b8c5e"/><ellipse cx="479.8" cy="432.4" rx="7.5" ry="7.0" fill="#151515"/><ellipse cx="519.5" cy="424.0" rx="7.0" ry="7.0" fill="#444444"/><ellipse cx="456.3" cy="436.9" rx="6.5" ry="7.0" fill="#2b8c5e"/><ellipse cx="504.9" cy="448.0" rx="7.0" ry="7.5" fill="#2b8c5e"/><ellipse cx="442.0" cy="455.5" rx="7.0" ry="7.0" fill="#e97f1a"/><ellipse cx="520.6" cy="461.3" rx="7.0" ry="7.5" fill="#f21c10"/><ellipse cx="530.1" cy="478.3" rx="7.0" ry="7.5" fill="#3d9a4e"/><ellipse cx="505.7" cy="526.0" rx="6.5" ry="10.0" fill="#6aa33e"/><ellipse cx="463.3" cy="535.5" rx="7.0" ry="7.0" fill="#f05e16"/><ellipse cx="521.6" cy="534.5" rx="7.0" ry="8.5" fill="#e97f1a"/><ellipse cx="540.7" cy="535.5" rx="7.0" ry="7.0" fill="#6aa33e"/><ellipse cx="127.3" cy="227.8" rx="5.5" ry="5.5" fill="#e97f1a"/><ellipse cx="137.0" cy="231.5" rx="5.5" ry="5.5" fill="#e97f1a"/><ellipse cx="131.0" cy="236.3" rx="6.0" ry="5.0" fill="#e97f1a"/></g>
</g>
<g stroke="#000" stroke-width="2.2" stroke-dasharray="5 3.5" fill="none">
<line x1="465.4" y1="128.9" x2="496.2" y2="86.5"/>
<polyline points="405.7,237.2 427.2,272 427.2,293.5"/>
<line x1="479.8" y1="432.4" x2="456.8" y2="436.8"/>
<line x1="479.8" y1="432.4" x2="491.2" y2="408.6"/>
<line x1="479.8" y1="432.4" x2="505.4" y2="447.4"/>
<line x1="491.2" y1="408.6" x2="519.5" y2="423.6"/>
</g>
<g fill="none" stroke="#0a0ad8" stroke-width="2.3">
<circle cx="315.6" cy="189.9" r="43.7"/>
<circle cx="316" cy="191.5" r="19.5" stroke-dasharray="6 3.5"/>
<circle cx="305.4" cy="454.7" r="43.7"/>
<circle cx="305.5" cy="455.6" r="19.5" stroke-dasharray="6 3.5"/>
</g>
<g font-family="Liberation Serif, serif" font-weight="bold" fill="#000">
<text x="298" y="138" font-size="24.5">AS<tspan font-size="17" dy="6">2</tspan></text>
<text x="283" y="404.3" font-size="24.5">AS<tspan font-size="17" dy="6">1</tspan></text>
</g>

</svg>
</body></html>
